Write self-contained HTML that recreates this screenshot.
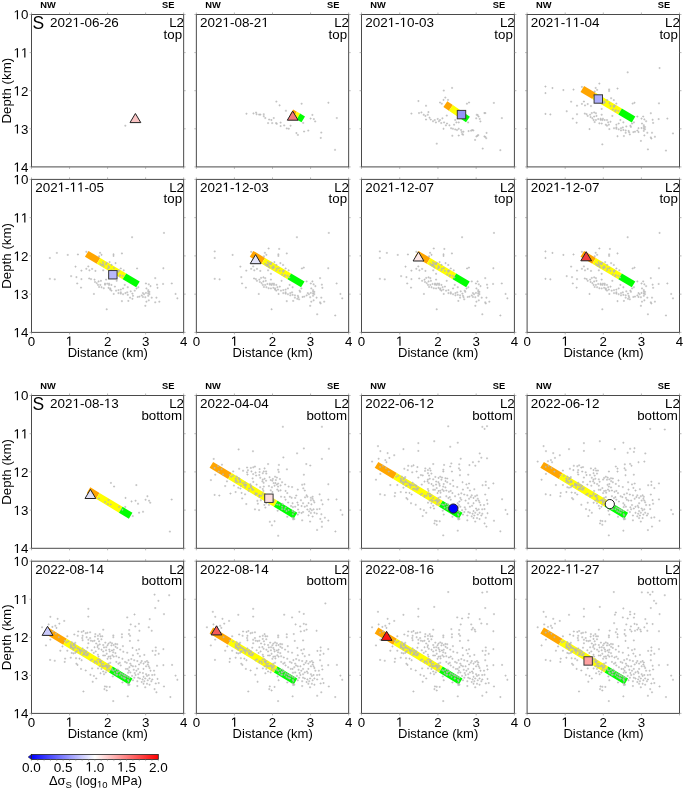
<!DOCTYPE html><html><head><meta charset="utf-8"><style>html,body{margin:0;padding:0;background:#fff;}svg{display:block;}text{font-family:"Liberation Sans", sans-serif;font-kerning:none;white-space:pre;}</style></head><body><div style="will-change:transform;width:685px;height:790px">
<svg width="685" height="790" viewBox="0 0 685 790">
<rect width="685" height="790" fill="#fff"/>
<g transform="translate(31.50,14.50)">
<path fill="none" stroke="#b6b6b6" stroke-width="0.7" d="M92.8,111.2h2.1M93.8,110.2v2.1"/>
<polygon points="103.90,99.00 98.50,108.10 109.30,108.10" fill="#f9c3c3" stroke="#222" stroke-width="1"/>
<rect x="0" y="0" width="152.15" height="152.40" fill="none" stroke="#4a4a4a" stroke-width="1"/>
<path d="M0.00,0v-2M0.00,152.40v2M0,0.00h-2M152.15,0.00h2M38.04,0v-2M38.04,152.40v2M0,38.10h-2M152.15,38.10h2M76.08,0v-2M76.08,152.40v2M0,76.20h-2M152.15,76.20h2M114.11,0v-2M114.11,152.40v2M0,114.30h-2M152.15,114.30h2M152.15,0v-2M152.15,152.40v2M0,152.40h-2M152.15,152.40h2" stroke="#8a8a8a" stroke-width="0.6" fill="none"/>
<text x="16.60" y="-6.80" font-size="9.3" font-weight="bold" text-anchor="middle">NW</text>
<text x="136.65" y="-6.80" font-size="9.3" font-weight="bold" text-anchor="middle">SE</text>
<text x="1.0" y="14.4" font-size="17.5">S</text>
<text x="18.60" y="12.40" font-size="13.45">202 -06-26</text><path transform="matrix(0.00657,0,0,-0.00657,41.041,12.400)" d="M515,0L515,1237L197,1010L197,1180L530,1409L696,1409L696,0Z"/>
<text x="137.66" y="12.60" font-size="13.3">L2</text>
<text x="132.06" y="24.10" font-size="13.3">top</text>
<text x="-17.99" y="4.80" font-size="13.3"> 0</text><path transform="matrix(0.00649,0,0,-0.00649,-17.994,4.800)" d="M515,0L515,1237L197,1010L197,1180L530,1409L696,1409L696,0Z"/>
<text x="-17.99" y="42.90" font-size="13.3">  </text><path transform="matrix(0.00649,0,0,-0.00649,-17.994,42.900)" d="M515,0L515,1237L197,1010L197,1180L530,1409L696,1409L696,0Z"/><path transform="matrix(0.00649,0,0,-0.00649,-10.597,42.900)" d="M515,0L515,1237L197,1010L197,1180L530,1409L696,1409L696,0Z"/>
<text x="-17.99" y="81.00" font-size="13.3"> 2</text><path transform="matrix(0.00649,0,0,-0.00649,-17.994,81.000)" d="M515,0L515,1237L197,1010L197,1180L530,1409L696,1409L696,0Z"/>
<text x="-17.99" y="119.10" font-size="13.3"> 3</text><path transform="matrix(0.00649,0,0,-0.00649,-17.994,119.100)" d="M515,0L515,1237L197,1010L197,1180L530,1409L696,1409L696,0Z"/>
<text x="-17.99" y="157.20" font-size="13.3"> 4</text><path transform="matrix(0.00649,0,0,-0.00649,-17.994,157.200)" d="M515,0L515,1237L197,1010L197,1180L530,1409L696,1409L696,0Z"/>
<text transform="translate(-21,76.20) rotate(-90)" font-size="13.3" text-anchor="middle">Depth (km)</text>
</g>
<g transform="translate(196.35,14.50)">
<polygon points="93.25,100.87 97.06,103.11 100.56,97.17 96.75,94.93" fill="#ffa500"/><polygon points="97.06,103.11 100.27,105.00 103.77,99.06 100.56,97.17" fill="#ffff00"/><polygon points="100.27,105.00 105.15,107.87 108.65,101.93 103.77,99.06" fill="#00ff00"/>
<path fill="none" stroke="#b6b6b6" stroke-width="0.7" d="M79.0,87.1h2.1M80.0,86.0v2.1M82.2,90.8h2.1M83.2,89.8v2.1M104.2,89.2h2.1M105.3,88.2v2.1M131.0,88.2h2.1M132.1,87.2v2.1M49.1,99.2h2.1M50.1,98.2v2.1M56.1,98.9h2.1M57.1,97.9v2.1M58.7,98.1h2.1M59.7,97.0v2.1M59.2,99.7h2.1M60.2,98.7v2.1M61.8,100.1h2.1M62.8,99.0v2.1M63.0,100.1h2.1M64.0,99.0v2.1M66.4,99.7h2.1M67.4,98.7v2.1M66.4,101.7h2.1M67.4,100.7v2.1M67.9,103.5h2.1M68.9,102.5v2.1M71.8,105.0h2.1M72.8,104.0v2.1M74.0,105.5h2.1M75.1,104.5v2.1M76.4,103.5h2.1M77.4,102.5v2.1M70.7,108.6h2.1M71.7,107.5v2.1M74.8,108.6h2.1M75.8,107.5v2.1M78.7,108.6h2.1M79.7,107.5v2.1M79.4,109.3h2.1M80.4,108.2v2.1M83.2,108.1h2.1M84.3,107.0v2.1M83.2,111.6h2.1M84.3,110.5v2.1M86.8,110.9h2.1M87.8,109.9v2.1M93.2,111.2h2.1M94.2,110.2v2.1M89.4,113.9h2.1M90.4,112.9v2.1M91.4,114.2h2.1M92.4,113.2v2.1M88.5,96.3h2.1M89.6,95.2v2.1M115.0,100.4h2.1M116.0,99.4v2.1M113.2,104.0h2.1M114.2,103.0v2.1M116.5,104.6h2.1M117.5,103.5v2.1M117.8,106.9h2.1M118.8,105.9v2.1M139.4,103.5h2.1M140.5,102.5v2.1M105.8,108.4h2.1M106.8,107.4v2.1M106.7,117.0h2.1M107.7,116.0v2.1M110.9,116.1h2.1M111.9,115.0v2.1M99.0,118.5h2.1M100.1,117.5v2.1M100.5,120.4h2.1M101.6,119.4v2.1M123.9,118.1h2.1M124.9,117.0v2.1M123.4,123.4h2.1M124.4,122.4v2.1M137.6,135.4h2.1M138.7,134.3v2.1"/>
<polygon points="96.35,96.60 90.95,105.70 101.75,105.70" fill="#f57878" stroke="#222" stroke-width="1"/>
<rect x="0" y="0" width="152.30" height="152.40" fill="none" stroke="#4a4a4a" stroke-width="1"/>
<path d="M0.00,0v-2M0.00,152.40v2M0,0.00h-2M152.30,0.00h2M38.07,0v-2M38.07,152.40v2M0,38.10h-2M152.30,38.10h2M76.15,0v-2M76.15,152.40v2M0,76.20h-2M152.30,76.20h2M114.22,0v-2M114.22,152.40v2M0,114.30h-2M152.30,114.30h2M152.30,0v-2M152.30,152.40v2M0,152.40h-2M152.30,152.40h2" stroke="#8a8a8a" stroke-width="0.6" fill="none"/>
<text x="16.60" y="-6.80" font-size="9.3" font-weight="bold" text-anchor="middle">NW</text>
<text x="136.80" y="-6.80" font-size="9.3" font-weight="bold" text-anchor="middle">SE</text>
<text x="3.70" y="12.40" font-size="13.45">202 -08-2 </text><path transform="matrix(0.00657,0,0,-0.00657,26.141,12.400)" d="M515,0L515,1237L197,1010L197,1180L530,1409L696,1409L696,0Z"/><path transform="matrix(0.00657,0,0,-0.00657,65.020,12.400)" d="M515,0L515,1237L197,1010L197,1180L530,1409L696,1409L696,0Z"/>
<text x="137.81" y="12.60" font-size="13.3">L2</text>
<text x="132.21" y="24.10" font-size="13.3">top</text>
</g>
<g transform="translate(361.50,14.50)">
<polygon points="81.91,92.45 87.47,96.24 91.35,90.54 85.79,86.75" fill="#ffa500"/><polygon points="87.47,96.24 97.73,103.23 101.61,97.53 91.35,90.54" fill="#ffff00"/><polygon points="97.73,103.23 104.51,107.85 108.39,102.15 101.61,97.53" fill="#00ff00"/>
<path fill="none" stroke="#b6b6b6" stroke-width="0.7" d="M89.5,73.4h2.1M90.6,72.4v2.1M81.2,76.1h2.1M82.3,75.0v2.1M82.8,83.1h2.1M83.8,82.0v2.1M81.0,85.4h2.1M82.0,84.4v2.1M85.5,85.4h2.1M86.5,84.4v2.1M77.5,88.0h2.1M78.5,87.0v2.1M79.2,89.2h2.1M80.3,88.2v2.1M55.9,86.5h2.1M56.9,85.5v2.1M63.5,91.3h2.1M64.5,90.2v2.1M104.4,89.2h2.1M105.4,88.2v2.1M106.5,88.0h2.1M107.5,87.0v2.1M48.9,99.1h2.1M49.9,98.0v2.1M56.5,98.5h2.1M57.5,97.5v2.1M58.9,97.9h2.1M59.9,96.9v2.1M61.2,100.3h2.1M62.2,99.2v2.1M62.9,101.4h2.1M63.9,100.4v2.1M65.2,100.3h2.1M66.3,99.2v2.1M67.0,103.2h2.1M68.0,102.2v2.1M68.2,105.0h2.1M69.2,104.0v2.1M70.5,106.7h2.1M71.5,105.7v2.1M72.2,105.5h2.1M73.3,104.5v2.1M73.4,107.9h2.1M74.4,106.9v2.1M75.2,104.4h2.1M76.2,103.4v2.1M76.4,106.7h2.1M77.4,105.7v2.1M77.5,105.5h2.1M78.5,104.5v2.1M79.9,103.8h2.1M80.9,102.8v2.1M78.7,108.5h2.1M79.7,107.5v2.1M81.5,107.9h2.1M82.6,106.9v2.1M83.4,110.8h2.1M84.4,109.8v2.1M84.5,109.0h2.1M85.5,108.0v2.1M81.0,114.3h2.1M82.0,113.2v2.1M86.9,110.8h2.1M87.9,109.8v2.1M88.5,113.7h2.1M89.6,112.7v2.1M90.4,114.3h2.1M91.4,113.2v2.1M92.7,114.9h2.1M93.7,113.9v2.1M94.5,115.5h2.1M95.5,114.5v2.1M96.2,114.3h2.1M97.2,113.2v2.1M98.5,115.5h2.1M99.6,114.5v2.1M100.9,117.2h2.1M101.9,116.2v2.1M99.7,119.6h2.1M100.7,118.5v2.1M91.5,110.2h2.1M92.6,109.2v2.1M93.9,107.9h2.1M94.9,106.9v2.1M96.2,107.9h2.1M97.2,106.9v2.1M89.8,121.3h2.1M90.8,120.2v2.1M96.2,121.0h2.1M97.2,120.0v2.1M106.0,116.6h2.1M107.1,115.5v2.1M109.7,115.5h2.1M110.7,114.5v2.1M114.2,100.3h2.1M115.3,99.2v2.1M116.0,102.0h2.1M117.1,101.0v2.1M117.2,104.4h2.1M118.2,103.4v2.1M113.7,103.8h2.1M114.7,102.8v2.1M114.9,121.3h2.1M115.9,120.2v2.1M112.5,125.4h2.1M113.6,124.4v2.1M121.9,121.9h2.1M122.9,120.9v2.1M120.2,134.1h2.1M121.2,133.0v2.1M74.2,129.2h2.1M75.3,128.1v2.1M63.5,105.0h2.1M64.5,104.0v2.1M65.9,97.6h2.1M66.9,96.5v2.1M84.2,101.1h2.1M85.3,100.0v2.1M105.5,107.9h2.1M106.6,106.9v2.1M121.9,98.5h2.1M122.9,97.5v2.1M92.7,105.5h2.1M93.7,104.5v2.1M131.3,88.4h2.1M132.4,87.4v2.1M122.8,98.6h2.1M123.8,97.5v2.1M139.3,103.6h2.1M140.4,102.5v2.1M115.2,100.6h2.1M116.2,99.5v2.1M117.9,106.9h2.1M118.9,105.9v2.1M99.2,117.5h2.1M100.3,116.5v2.1M100.5,120.2h2.1M101.6,119.2v2.1M108.5,116.2h2.1M109.6,115.2v2.1M110.8,115.9h2.1M111.8,114.9v2.1M113.9,121.9h2.1M114.9,120.9v2.1M115.7,120.6h2.1M116.7,119.5v2.1M124.0,118.4h2.1M125.1,117.4v2.1M122.8,122.4h2.1M123.8,121.4v2.1M123.7,123.7h2.1M124.7,122.7v2.1M137.8,135.7h2.1M138.8,134.6v2.1"/>
<rect x="95.80" y="95.90" width="8.40" height="8.40" fill="#9494f8" stroke="#383838" stroke-width="1.0"/>
<rect x="0" y="0" width="152.90" height="152.40" fill="none" stroke="#4a4a4a" stroke-width="1"/>
<path d="M0.00,0v-2M0.00,152.40v2M0,0.00h-2M152.90,0.00h2M38.22,0v-2M38.22,152.40v2M0,38.10h-2M152.90,38.10h2M76.45,0v-2M76.45,152.40v2M0,76.20h-2M152.90,76.20h2M114.67,0v-2M114.67,152.40v2M0,114.30h-2M152.90,114.30h2M152.90,0v-2M152.90,152.40v2M0,152.40h-2M152.90,152.40h2" stroke="#8a8a8a" stroke-width="0.6" fill="none"/>
<text x="16.60" y="-6.80" font-size="9.3" font-weight="bold" text-anchor="middle">NW</text>
<text x="137.40" y="-6.80" font-size="9.3" font-weight="bold" text-anchor="middle">SE</text>
<text x="3.70" y="12.40" font-size="13.45">202 - 0-03</text><path transform="matrix(0.00657,0,0,-0.00657,26.141,12.400)" d="M515,0L515,1237L197,1010L197,1180L530,1409L696,1409L696,0Z"/><path transform="matrix(0.00657,0,0,-0.00657,38.100,12.400)" d="M515,0L515,1237L197,1010L197,1180L530,1409L696,1409L696,0Z"/>
<text x="138.41" y="12.60" font-size="13.3">L2</text>
<text x="132.81" y="24.10" font-size="13.3">top</text>
</g>
<g transform="translate(527.10,14.50)">
<polygon points="53.43,77.41 65.22,84.44 68.75,78.51 56.97,71.49" fill="#ffa500"/><polygon points="65.22,84.44 91.20,99.93 94.74,94.00 68.75,78.51" fill="#ffff00"/><polygon points="91.20,99.93 104.68,107.96 108.22,102.04 94.74,94.00" fill="#00ff00"/>
<path fill="none" stroke="#b6b6b6" stroke-width="0.7" d="M17.3,72.0h2.1M18.4,71.0v2.1M24.3,73.5h2.1M25.4,72.5v2.1M17.3,78.6h2.1M18.4,77.5v2.1M35.2,75.5h2.1M36.3,74.5v2.1M45.4,75.1h2.1M46.4,74.0v2.1M53.8,72.4h2.1M54.8,71.4v2.1M71.2,69.1h2.1M72.3,68.0v2.1M67.5,73.4h2.1M68.6,72.4v2.1M69.0,75.4h2.1M70.0,74.4v2.1M66.5,76.9h2.1M67.6,75.9v2.1M43.0,87.2h2.1M44.0,86.2v2.1M48.9,91.2h2.1M49.9,90.2v2.1M53.8,89.4h2.1M54.8,88.4v2.1M55.8,87.0h2.1M56.8,86.0v2.1M56.9,90.9h2.1M57.9,89.9v2.1M59.6,89.5h2.1M60.6,88.5v2.1M62.9,91.5h2.1M63.9,90.5v2.1M73.5,94.4h2.1M74.6,93.4v2.1M75.4,89.1h2.1M76.4,88.0v2.1M38.6,96.7h2.1M39.6,95.7v2.1M48.9,99.7h2.1M49.9,98.7v2.1M17.3,99.4h2.1M18.4,98.4v2.1M22.2,99.9h2.1M23.3,98.9v2.1M44.7,104.1h2.1M45.7,103.0v2.1M48.5,108.2h2.1M49.5,107.2v2.1M61.4,114.6h2.1M62.4,113.5v2.1M56.7,99.1h2.1M57.7,98.0v2.1M58.5,99.7h2.1M59.5,98.7v2.1M59.6,101.4h2.1M60.6,100.4v2.1M62.0,100.2h2.1M63.0,99.2v2.1M63.7,98.5h2.1M64.7,97.5v2.1M66.0,97.9h2.1M67.1,96.9v2.1M67.8,98.7h2.1M68.8,97.7v2.1M62.5,102.6h2.1M63.5,101.5v2.1M64.2,103.7h2.1M65.3,102.7v2.1M66.0,102.0h2.1M67.1,101.0v2.1M68.4,101.4h2.1M69.4,100.4v2.1M65.5,105.5h2.1M66.5,104.5v2.1M67.8,105.5h2.1M68.8,104.5v2.1M70.0,104.6h2.1M71.1,103.5v2.1M72.5,105.3h2.1M73.5,104.2v2.1M74.8,104.3h2.1M75.8,103.2v2.1M76.5,105.5h2.1M77.6,104.5v2.1M66.5,107.6h2.1M67.6,106.5v2.1M71.2,108.8h2.1M72.3,107.8v2.1M73.5,109.0h2.1M74.6,108.0v2.1M77.7,110.2h2.1M78.7,109.2v2.1M73.5,100.2h2.1M74.6,99.2v2.1M70.0,85.6h2.1M71.1,84.5v2.1M76.0,86.8h2.1M77.0,85.8v2.1M67.8,84.5h2.1M68.8,83.5v2.1M71.2,86.8h2.1M72.3,85.8v2.1M74.8,88.0h2.1M75.8,87.0v2.1M131.4,53.5h2.1M132.5,52.5v2.1M99.5,57.8h2.1M100.6,56.8v2.1M81.0,74.9h2.1M82.0,73.9v2.1M81.0,76.5h2.1M82.0,75.5v2.1M89.4,74.0h2.1M90.4,73.0v2.1M83.0,83.7h2.1M84.0,82.7v2.1M85.7,85.6h2.1M86.7,84.5v2.1M88.2,89.1h2.1M89.3,88.0v2.1M104.5,89.1h2.1M105.6,88.0v2.1M106.4,88.2h2.1M107.4,87.2v2.1M130.8,88.8h2.1M131.9,87.8v2.1M122.7,98.7h2.1M123.7,97.7v2.1M76.5,88.0h2.1M77.6,87.0v2.1M82.4,91.5h2.1M83.4,90.5v2.1M84.7,95.0h2.1M85.7,94.0v2.1M87.0,96.7h2.1M88.1,95.7v2.1M84.2,101.4h2.1M85.2,100.4v2.1M109.2,102.0h2.1M110.3,101.0v2.1M113.4,104.1h2.1M114.4,103.0v2.1M115.0,102.0h2.1M116.1,101.0v2.1M116.2,104.9h2.1M117.3,103.9v2.1M118.0,106.7h2.1M119.0,105.7v2.1M124.5,105.3h2.1M125.5,104.2v2.1M125.0,108.4h2.1M126.0,107.4v2.1M130.5,104.6h2.1M131.6,103.5v2.1M139.2,104.1h2.1M140.3,103.0v2.1M144.8,118.9h2.1M145.9,117.9v2.1M72.5,104.3h2.1M73.5,103.2v2.1M74.2,105.5h2.1M75.2,104.5v2.1M78.9,105.5h2.1M79.9,104.5v2.1M80.0,107.8h2.1M81.1,106.8v2.1M82.4,107.2h2.1M83.4,106.2v2.1M80.7,110.2h2.1M81.7,109.2v2.1M88.2,110.2h2.1M89.3,109.2v2.1M90.5,109.0h2.1M91.6,108.0v2.1M92.2,105.5h2.1M93.3,104.5v2.1M95.2,107.8h2.1M96.3,106.8v2.1M85.9,113.7h2.1M86.9,112.7v2.1M88.2,114.2h2.1M89.3,113.2v2.1M90.5,114.8h2.1M91.6,113.8v2.1M92.9,113.7h2.1M93.9,112.7v2.1M95.2,115.4h2.1M96.3,114.4v2.1M81.2,114.6h2.1M82.2,113.5v2.1M98.2,111.9h2.1M99.2,110.9v2.1M102.2,111.3h2.1M103.3,110.2v2.1M104.0,109.0h2.1M105.0,108.0v2.1M105.8,107.8h2.1M106.8,106.8v2.1M106.9,117.2h2.1M107.9,116.2v2.1M109.2,116.0h2.1M110.3,115.0v2.1M110.4,113.7h2.1M111.4,112.7v2.1M115.7,114.2h2.1M116.7,113.2v2.1M116.9,112.5h2.1M117.9,111.5v2.1M101.0,117.8h2.1M102.1,116.8v2.1M97.5,118.3h2.1M98.6,117.2v2.1M119.2,118.3h2.1M120.2,117.2v2.1M123.9,118.3h2.1M124.9,117.2v2.1M113.9,109.0h2.1M114.9,108.0v2.1M115.7,110.7h2.1M116.7,109.7v2.1M74.2,129.9h2.1M75.2,128.8v2.1M78.9,111.2h2.1M79.9,110.2v2.1M88.2,112.9h2.1M89.3,111.9v2.1M92.9,115.9h2.1M93.9,114.9v2.1M94.7,112.9h2.1M95.7,111.9v2.1M102.8,112.4h2.1M103.8,111.4v2.1M97.5,115.9h2.1M98.6,114.9v2.1M100.5,116.4h2.1M101.5,115.4v2.1M101.7,119.9h2.1M102.7,118.9v2.1M105.2,117.6h2.1M106.2,116.5v2.1M110.4,117.6h2.1M111.4,116.5v2.1M113.4,113.5h2.1M114.4,112.5v2.1M115.7,112.4h2.1M116.7,111.4v2.1M116.9,114.7h2.1M117.9,113.7v2.1M115.7,116.4h2.1M116.7,115.4v2.1M116.2,120.9h2.1M117.3,119.9v2.1M122.7,122.9h2.1M123.7,121.9v2.1M123.2,124.0h2.1M124.3,123.0v2.1M126.8,122.3h2.1M127.8,121.2v2.1M89.4,121.7h2.1M90.4,120.7v2.1M95.8,121.5h2.1M96.8,120.5v2.1M112.8,126.4h2.1M113.8,125.4v2.1M119.8,134.9h2.1M120.8,133.8v2.1M137.8,136.1h2.1M138.9,135.0v2.1M81.4,88.7h2.1M82.4,87.7v2.1M74.0,83.4h2.1M75.1,82.4v2.1M70.4,82.8h2.1M71.4,81.8v2.1M87.7,95.7h2.1M88.7,94.7v2.1M86.5,91.3h2.1M87.6,90.2v2.1M85.5,91.4h2.1M86.6,90.4v2.1M73.5,84.7h2.1M74.5,83.7v2.1M90.2,96.4h2.1M91.2,95.4v2.1M70.8,84.7h2.1M71.8,83.7v2.1M85.8,92.4h2.1M86.8,91.4v2.1M79.0,85.5h2.1M80.0,84.5v2.1M68.9,85.7h2.1M69.9,84.7v2.1"/>
<rect x="67.00" y="80.30" width="8.40" height="8.40" fill="#aeaefc" stroke="#383838" stroke-width="1.0"/>
<rect x="0" y="0" width="152.40" height="152.40" fill="none" stroke="#4a4a4a" stroke-width="1"/>
<path d="M0.00,0v-2M0.00,152.40v2M0,0.00h-2M152.40,0.00h2M38.10,0v-2M38.10,152.40v2M0,38.10h-2M152.40,38.10h2M76.20,0v-2M76.20,152.40v2M0,76.20h-2M152.40,76.20h2M114.30,0v-2M114.30,152.40v2M0,114.30h-2M152.40,114.30h2M152.40,0v-2M152.40,152.40v2M0,152.40h-2M152.40,152.40h2" stroke="#8a8a8a" stroke-width="0.6" fill="none"/>
<text x="16.60" y="-6.80" font-size="9.3" font-weight="bold" text-anchor="middle">NW</text>
<text x="136.90" y="-6.80" font-size="9.3" font-weight="bold" text-anchor="middle">SE</text>
<text x="3.70" y="12.40" font-size="13.45">202 -  -04</text><path transform="matrix(0.00657,0,0,-0.00657,26.141,12.400)" d="M515,0L515,1237L197,1010L197,1180L530,1409L696,1409L696,0Z"/><path transform="matrix(0.00657,0,0,-0.00657,38.100,12.400)" d="M515,0L515,1237L197,1010L197,1180L530,1409L696,1409L696,0Z"/><path transform="matrix(0.00657,0,0,-0.00657,45.580,12.400)" d="M515,0L515,1237L197,1010L197,1180L530,1409L696,1409L696,0Z"/>
<text x="137.91" y="12.60" font-size="13.3">L2</text>
<text x="132.31" y="24.10" font-size="13.3">top</text>
</g>
<g transform="translate(31.50,179.40)">
<polygon points="53.43,77.41 65.22,84.44 68.75,78.51 56.97,71.49" fill="#ffa500"/><polygon points="65.22,84.44 91.20,99.93 94.74,94.00 68.75,78.51" fill="#ffff00"/><polygon points="91.20,99.93 104.68,107.96 108.22,102.04 94.74,94.00" fill="#00ff00"/>
<path fill="none" stroke="#b6b6b6" stroke-width="0.7" d="M24.3,73.5h2.1M25.4,72.5v2.1M17.3,78.6h2.1M18.4,77.5v2.1M35.2,75.5h2.1M36.3,74.5v2.1M45.4,75.1h2.1M46.4,74.0v2.1M53.8,72.4h2.1M54.8,71.4v2.1M67.5,73.4h2.1M68.6,72.4v2.1M69.0,75.4h2.1M70.0,74.4v2.1M66.5,76.9h2.1M67.6,75.9v2.1M43.0,87.2h2.1M44.0,86.2v2.1M48.9,91.2h2.1M49.9,90.2v2.1M53.8,89.4h2.1M54.8,88.4v2.1M55.8,87.0h2.1M56.8,86.0v2.1M56.9,90.9h2.1M57.9,89.9v2.1M59.6,89.5h2.1M60.6,88.5v2.1M62.9,91.5h2.1M63.9,90.5v2.1M70.7,90.9h2.1M71.7,89.9v2.1M75.4,89.1h2.1M76.4,88.0v2.1M77.0,82.7h2.1M78.1,81.7v2.1M38.6,96.7h2.1M39.6,95.7v2.1M43.9,97.7h2.1M44.9,96.7v2.1M48.9,99.7h2.1M49.9,98.7v2.1M17.3,99.4h2.1M18.4,98.4v2.1M22.2,99.9h2.1M23.3,98.9v2.1M44.7,104.1h2.1M45.7,103.0v2.1M48.5,108.2h2.1M49.5,107.2v2.1M61.4,114.6h2.1M62.4,113.5v2.1M56.7,99.1h2.1M57.7,98.0v2.1M58.5,99.7h2.1M59.5,98.7v2.1M62.0,100.2h2.1M63.0,99.2v2.1M62.5,102.6h2.1M63.5,101.5v2.1M64.2,103.7h2.1M65.3,102.7v2.1M66.0,102.0h2.1M67.1,101.0v2.1M68.4,101.4h2.1M69.4,100.4v2.1M65.5,105.5h2.1M66.5,104.5v2.1M67.8,105.5h2.1M68.8,104.5v2.1M72.5,105.3h2.1M73.5,104.2v2.1M74.8,104.3h2.1M75.8,103.2v2.1M76.5,105.5h2.1M77.6,104.5v2.1M66.5,107.6h2.1M67.6,106.5v2.1M69.0,107.8h2.1M70.0,106.8v2.1M71.2,108.8h2.1M72.3,107.8v2.1M76.0,108.4h2.1M77.0,107.4v2.1M77.7,110.2h2.1M78.7,109.2v2.1M73.5,100.2h2.1M74.6,99.2v2.1M70.0,85.6h2.1M71.1,84.5v2.1M76.0,86.8h2.1M77.0,85.8v2.1M67.8,84.5h2.1M68.8,83.5v2.1M71.2,86.8h2.1M72.3,85.8v2.1M131.4,53.5h2.1M132.5,52.5v2.1M99.5,57.8h2.1M100.6,56.8v2.1M81.0,74.9h2.1M82.0,73.9v2.1M81.0,76.5h2.1M82.0,75.5v2.1M89.4,74.0h2.1M90.4,73.0v2.1M83.0,83.7h2.1M84.0,82.7v2.1M88.2,89.1h2.1M89.3,88.0v2.1M91.2,90.9h2.1M92.2,89.9v2.1M104.5,89.1h2.1M105.6,88.0v2.1M130.8,88.8h2.1M131.9,87.8v2.1M122.7,98.7h2.1M123.7,97.7v2.1M76.5,88.0h2.1M77.6,87.0v2.1M78.9,90.9h2.1M79.9,89.9v2.1M82.4,91.5h2.1M83.4,90.5v2.1M87.0,96.7h2.1M88.1,95.7v2.1M84.2,101.4h2.1M85.2,100.4v2.1M113.4,104.1h2.1M114.4,103.0v2.1M116.2,104.9h2.1M117.3,103.9v2.1M118.0,106.7h2.1M119.0,105.7v2.1M124.5,105.3h2.1M125.5,104.2v2.1M125.0,108.4h2.1M126.0,107.4v2.1M130.5,104.6h2.1M131.6,103.5v2.1M139.2,104.1h2.1M140.3,103.0v2.1M143.0,114.6h2.1M144.1,113.5v2.1M144.8,118.9h2.1M145.9,117.9v2.1M72.5,104.3h2.1M73.5,103.2v2.1M76.5,104.3h2.1M77.6,103.2v2.1M78.9,105.5h2.1M79.9,104.5v2.1M77.7,109.0h2.1M78.7,108.0v2.1M82.4,107.2h2.1M83.4,106.2v2.1M83.5,111.3h2.1M84.6,110.2v2.1M85.9,110.7h2.1M86.9,109.7v2.1M88.2,110.2h2.1M89.3,109.2v2.1M90.5,109.0h2.1M91.6,108.0v2.1M92.2,105.5h2.1M93.3,104.5v2.1M95.2,107.8h2.1M96.3,106.8v2.1M85.9,113.7h2.1M86.9,112.7v2.1M88.2,114.2h2.1M89.3,113.2v2.1M90.5,114.8h2.1M91.6,113.8v2.1M92.9,113.7h2.1M93.9,112.7v2.1M95.2,115.4h2.1M96.3,114.4v2.1M81.2,114.6h2.1M82.2,113.5v2.1M98.2,111.9h2.1M99.2,110.9v2.1M99.9,114.2h2.1M100.9,113.2v2.1M102.2,111.3h2.1M103.3,110.2v2.1M104.0,109.0h2.1M105.0,108.0v2.1M105.8,107.8h2.1M106.8,106.8v2.1M106.9,117.2h2.1M107.9,116.2v2.1M109.2,116.0h2.1M110.3,115.0v2.1M111.5,114.8h2.1M112.6,113.8v2.1M110.4,113.7h2.1M111.4,112.7v2.1M112.8,117.8h2.1M113.8,116.8v2.1M115.7,114.2h2.1M116.7,113.2v2.1M116.9,112.5h2.1M117.9,111.5v2.1M97.5,118.3h2.1M98.6,117.2v2.1M119.2,118.3h2.1M120.2,117.2v2.1M123.9,118.3h2.1M124.9,117.2v2.1M113.9,109.0h2.1M114.9,108.0v2.1M115.7,110.7h2.1M116.7,109.7v2.1M74.2,129.9h2.1M75.2,128.8v2.1M78.9,111.2h2.1M79.9,110.2v2.1M88.2,112.9h2.1M89.3,111.9v2.1M94.7,112.9h2.1M95.7,111.9v2.1M100.5,116.4h2.1M101.5,115.4v2.1M99.9,119.4h2.1M100.9,118.4v2.1M105.2,117.6h2.1M106.2,116.5v2.1M110.4,117.6h2.1M111.4,116.5v2.1M113.4,113.5h2.1M114.4,112.5v2.1M115.7,112.4h2.1M116.7,111.4v2.1M116.9,114.7h2.1M117.9,113.7v2.1M115.7,116.4h2.1M116.7,115.4v2.1M113.9,122.3h2.1M114.9,121.2v2.1M116.2,120.9h2.1M117.3,119.9v2.1M122.7,122.9h2.1M123.7,121.9v2.1M126.8,122.3h2.1M127.8,121.2v2.1M89.4,121.7h2.1M90.4,120.7v2.1M95.8,121.5h2.1M96.8,120.5v2.1M112.8,126.4h2.1M113.8,125.4v2.1M81.4,88.7h2.1M82.4,87.7v2.1M74.0,83.4h2.1M75.1,82.4v2.1M70.4,82.8h2.1M71.4,81.8v2.1M87.7,95.7h2.1M88.7,94.7v2.1M86.5,91.3h2.1M87.6,90.2v2.1M85.5,91.4h2.1M86.6,90.4v2.1M73.5,84.7h2.1M74.5,83.7v2.1M90.2,96.4h2.1M91.2,95.4v2.1M70.8,84.7h2.1M71.8,83.7v2.1M85.8,92.4h2.1M86.8,91.4v2.1M79.0,85.5h2.1M80.0,84.5v2.1M68.9,85.7h2.1M69.9,84.7v2.1"/>
<rect x="77.15" y="91.15" width="8.40" height="8.40" fill="#b8b8fa" stroke="#383838" stroke-width="1.0"/>
<rect x="0" y="0" width="152.15" height="153.00" fill="none" stroke="#4a4a4a" stroke-width="1"/>
<path d="M0.00,0v-2M0.00,153.00v2M0,0.00h-2M152.15,0.00h2M38.04,0v-2M38.04,153.00v2M0,38.25h-2M152.15,38.25h2M76.08,0v-2M76.08,153.00v2M0,76.50h-2M152.15,76.50h2M114.11,0v-2M114.11,153.00v2M0,114.75h-2M152.15,114.75h2M152.15,0v-2M152.15,153.00v2M0,153.00h-2M152.15,153.00h2" stroke="#8a8a8a" stroke-width="0.6" fill="none"/>
<text x="3.70" y="12.40" font-size="13.45">202 -  -05</text><path transform="matrix(0.00657,0,0,-0.00657,26.141,12.400)" d="M515,0L515,1237L197,1010L197,1180L530,1409L696,1409L696,0Z"/><path transform="matrix(0.00657,0,0,-0.00657,38.100,12.400)" d="M515,0L515,1237L197,1010L197,1180L530,1409L696,1409L696,0Z"/><path transform="matrix(0.00657,0,0,-0.00657,45.580,12.400)" d="M515,0L515,1237L197,1010L197,1180L530,1409L696,1409L696,0Z"/>
<text x="137.66" y="12.60" font-size="13.3">L2</text>
<text x="132.06" y="24.10" font-size="13.3">top</text>
<text x="-17.99" y="4.80" font-size="13.3"> 0</text><path transform="matrix(0.00649,0,0,-0.00649,-17.994,4.800)" d="M515,0L515,1237L197,1010L197,1180L530,1409L696,1409L696,0Z"/>
<text x="-17.99" y="43.05" font-size="13.3">  </text><path transform="matrix(0.00649,0,0,-0.00649,-17.994,43.050)" d="M515,0L515,1237L197,1010L197,1180L530,1409L696,1409L696,0Z"/><path transform="matrix(0.00649,0,0,-0.00649,-10.597,43.050)" d="M515,0L515,1237L197,1010L197,1180L530,1409L696,1409L696,0Z"/>
<text x="-17.99" y="81.30" font-size="13.3"> 2</text><path transform="matrix(0.00649,0,0,-0.00649,-17.994,81.300)" d="M515,0L515,1237L197,1010L197,1180L530,1409L696,1409L696,0Z"/>
<text x="-17.99" y="119.55" font-size="13.3"> 3</text><path transform="matrix(0.00649,0,0,-0.00649,-17.994,119.550)" d="M515,0L515,1237L197,1010L197,1180L530,1409L696,1409L696,0Z"/>
<text x="-17.99" y="157.80" font-size="13.3"> 4</text><path transform="matrix(0.00649,0,0,-0.00649,-17.994,157.800)" d="M515,0L515,1237L197,1010L197,1180L530,1409L696,1409L696,0Z"/>
<text transform="translate(-21,76.50) rotate(-90)" font-size="13.3" text-anchor="middle">Depth (km)</text>
<text x="-3.70" y="166.30" font-size="13.3">0</text>
<text x="34.34" y="166.30" font-size="13.3"> </text><path transform="matrix(0.00649,0,0,-0.00649,34.339,166.300)" d="M515,0L515,1237L197,1010L197,1180L530,1409L696,1409L696,0Z"/>
<text x="72.38" y="166.30" font-size="13.3">2</text>
<text x="110.41" y="166.30" font-size="13.3">3</text>
<text x="148.45" y="166.30" font-size="13.3">4</text>
<text x="76.28" y="177.30" font-size="13.0" text-anchor="middle">Distance (km)</text>
</g>
<g transform="translate(196.35,179.40)">
<polygon points="53.43,77.41 65.22,84.44 68.75,78.51 56.97,71.49" fill="#ffa500"/><polygon points="65.22,84.44 91.20,99.93 94.74,94.00 68.75,78.51" fill="#ffff00"/><polygon points="91.20,99.93 104.68,107.96 108.22,102.04 94.74,94.00" fill="#00ff00"/>
<path fill="none" stroke="#b6b6b6" stroke-width="0.7" d="M17.3,72.0h2.1M18.4,71.0v2.1M17.3,78.6h2.1M18.4,77.5v2.1M35.2,75.5h2.1M36.3,74.5v2.1M53.8,72.4h2.1M54.8,71.4v2.1M71.2,69.1h2.1M72.3,68.0v2.1M67.5,73.4h2.1M68.6,72.4v2.1M69.0,75.4h2.1M70.0,74.4v2.1M66.5,76.9h2.1M67.6,75.9v2.1M43.0,87.2h2.1M44.0,86.2v2.1M48.9,91.2h2.1M49.9,90.2v2.1M53.8,89.4h2.1M54.8,88.4v2.1M55.8,87.0h2.1M56.8,86.0v2.1M56.9,90.9h2.1M57.9,89.9v2.1M59.6,89.5h2.1M60.6,88.5v2.1M62.9,91.5h2.1M63.9,90.5v2.1M70.7,90.9h2.1M71.7,89.9v2.1M73.5,94.4h2.1M74.6,93.4v2.1M75.4,89.1h2.1M76.4,88.0v2.1M77.0,82.7h2.1M78.1,81.7v2.1M43.9,97.7h2.1M44.9,96.7v2.1M17.3,99.4h2.1M18.4,98.4v2.1M22.2,99.9h2.1M23.3,98.9v2.1M44.7,104.1h2.1M45.7,103.0v2.1M48.5,108.2h2.1M49.5,107.2v2.1M61.4,114.6h2.1M62.4,113.5v2.1M56.7,99.1h2.1M57.7,98.0v2.1M58.5,99.7h2.1M59.5,98.7v2.1M59.6,101.4h2.1M60.6,100.4v2.1M62.0,100.2h2.1M63.0,99.2v2.1M63.7,98.5h2.1M64.7,97.5v2.1M66.0,97.9h2.1M67.1,96.9v2.1M67.8,98.7h2.1M68.8,97.7v2.1M62.5,102.6h2.1M63.5,101.5v2.1M64.2,103.7h2.1M65.3,102.7v2.1M66.0,102.0h2.1M67.1,101.0v2.1M68.4,101.4h2.1M69.4,100.4v2.1M65.5,105.5h2.1M66.5,104.5v2.1M67.8,105.5h2.1M68.8,104.5v2.1M70.0,104.6h2.1M71.1,103.5v2.1M72.5,105.3h2.1M73.5,104.2v2.1M74.8,104.3h2.1M75.8,103.2v2.1M76.5,105.5h2.1M77.6,104.5v2.1M66.5,107.6h2.1M67.6,106.5v2.1M69.0,107.8h2.1M70.0,106.8v2.1M71.2,108.8h2.1M72.3,107.8v2.1M73.5,109.0h2.1M74.6,108.0v2.1M76.0,108.4h2.1M77.0,107.4v2.1M77.7,110.2h2.1M78.7,109.2v2.1M73.5,100.2h2.1M74.6,99.2v2.1M70.0,85.6h2.1M71.1,84.5v2.1M76.0,86.8h2.1M77.0,85.8v2.1M67.8,84.5h2.1M68.8,83.5v2.1M71.2,86.8h2.1M72.3,85.8v2.1M74.8,88.0h2.1M75.8,87.0v2.1M131.4,53.5h2.1M132.5,52.5v2.1M99.5,57.8h2.1M100.6,56.8v2.1M81.8,69.5h2.1M82.8,68.5v2.1M81.0,74.9h2.1M82.0,73.9v2.1M81.0,76.5h2.1M82.0,75.5v2.1M89.4,74.0h2.1M90.4,73.0v2.1M83.0,83.7h2.1M84.0,82.7v2.1M85.7,85.6h2.1M86.7,84.5v2.1M88.2,89.1h2.1M89.3,88.0v2.1M91.2,90.9h2.1M92.2,89.9v2.1M104.5,89.1h2.1M105.6,88.0v2.1M106.4,88.2h2.1M107.4,87.2v2.1M130.8,88.8h2.1M131.9,87.8v2.1M122.7,98.7h2.1M123.7,97.7v2.1M76.5,88.0h2.1M77.6,87.0v2.1M78.9,90.9h2.1M79.9,89.9v2.1M82.4,91.5h2.1M83.4,90.5v2.1M84.7,95.0h2.1M85.7,94.0v2.1M87.0,96.7h2.1M88.1,95.7v2.1M84.2,101.4h2.1M85.2,100.4v2.1M109.2,102.0h2.1M110.3,101.0v2.1M113.4,104.1h2.1M114.4,103.0v2.1M115.0,102.0h2.1M116.1,101.0v2.1M116.2,104.9h2.1M117.3,103.9v2.1M118.0,106.7h2.1M119.0,105.7v2.1M124.5,105.3h2.1M125.5,104.2v2.1M125.0,108.4h2.1M126.0,107.4v2.1M139.2,104.1h2.1M140.3,103.0v2.1M143.0,114.6h2.1M144.1,113.5v2.1M144.8,118.9h2.1M145.9,117.9v2.1M72.5,104.3h2.1M73.5,103.2v2.1M74.2,105.5h2.1M75.2,104.5v2.1M76.5,104.3h2.1M77.6,103.2v2.1M78.9,105.5h2.1M79.9,104.5v2.1M77.7,109.0h2.1M78.7,108.0v2.1M80.0,107.8h2.1M81.1,106.8v2.1M82.4,107.2h2.1M83.4,106.2v2.1M80.7,110.2h2.1M81.7,109.2v2.1M83.5,111.3h2.1M84.6,110.2v2.1M85.9,110.7h2.1M86.9,109.7v2.1M88.2,110.2h2.1M89.3,109.2v2.1M90.5,109.0h2.1M91.6,108.0v2.1M92.2,105.5h2.1M93.3,104.5v2.1M95.2,107.8h2.1M96.3,106.8v2.1M85.9,113.7h2.1M86.9,112.7v2.1M88.2,114.2h2.1M89.3,113.2v2.1M90.5,114.8h2.1M91.6,113.8v2.1M92.9,113.7h2.1M93.9,112.7v2.1M95.2,115.4h2.1M96.3,114.4v2.1M81.2,114.6h2.1M82.2,113.5v2.1M102.2,111.3h2.1M103.3,110.2v2.1M104.0,109.0h2.1M105.0,108.0v2.1M106.9,117.2h2.1M107.9,116.2v2.1M109.2,116.0h2.1M110.3,115.0v2.1M111.5,114.8h2.1M112.6,113.8v2.1M110.4,113.7h2.1M111.4,112.7v2.1M112.8,117.8h2.1M113.8,116.8v2.1M115.7,114.2h2.1M116.7,113.2v2.1M116.9,112.5h2.1M117.9,111.5v2.1M101.0,117.8h2.1M102.1,116.8v2.1M97.5,118.3h2.1M98.6,117.2v2.1M119.2,118.3h2.1M120.2,117.2v2.1M123.9,118.3h2.1M124.9,117.2v2.1M113.9,109.0h2.1M114.9,108.0v2.1M115.7,110.7h2.1M116.7,109.7v2.1M74.2,129.9h2.1M75.2,128.8v2.1M78.9,111.2h2.1M79.9,110.2v2.1M88.2,112.9h2.1M89.3,111.9v2.1M92.9,115.9h2.1M93.9,114.9v2.1M94.7,112.9h2.1M95.7,111.9v2.1M102.8,112.4h2.1M103.8,111.4v2.1M97.5,115.9h2.1M98.6,114.9v2.1M100.5,116.4h2.1M101.5,115.4v2.1M99.9,119.4h2.1M100.9,118.4v2.1M101.7,119.9h2.1M102.7,118.9v2.1M105.2,117.6h2.1M106.2,116.5v2.1M113.4,113.5h2.1M114.4,112.5v2.1M115.7,112.4h2.1M116.7,111.4v2.1M116.9,114.7h2.1M117.9,113.7v2.1M115.7,116.4h2.1M116.7,115.4v2.1M113.9,122.3h2.1M114.9,121.2v2.1M116.2,120.9h2.1M117.3,119.9v2.1M122.7,122.9h2.1M123.7,121.9v2.1M123.2,124.0h2.1M124.3,123.0v2.1M126.8,122.3h2.1M127.8,121.2v2.1M89.4,121.7h2.1M90.4,120.7v2.1M95.8,121.5h2.1M96.8,120.5v2.1M112.8,126.4h2.1M113.8,125.4v2.1M119.8,134.9h2.1M120.8,133.8v2.1M137.8,136.1h2.1M138.9,135.0v2.1M81.4,88.7h2.1M82.4,87.7v2.1M74.0,83.4h2.1M75.1,82.4v2.1M70.4,82.8h2.1M71.4,81.8v2.1M87.7,95.7h2.1M88.7,94.7v2.1M86.5,91.3h2.1M87.6,90.2v2.1M85.5,91.4h2.1M86.6,90.4v2.1M73.5,84.7h2.1M74.5,83.7v2.1M90.2,96.4h2.1M91.2,95.4v2.1M70.8,84.7h2.1M71.8,83.7v2.1M85.8,92.4h2.1M86.8,91.4v2.1M79.0,85.5h2.1M80.0,84.5v2.1M68.9,85.7h2.1M69.9,84.7v2.1M69.9,86.2h2.1M70.9,85.2v2.1M72.2,83.8h2.1M73.3,82.8v2.1M91.9,98.0h2.1M92.9,97.0v2.1M79.5,89.2h2.1M80.5,88.2v2.1M73.2,84.6h2.1M74.2,83.5v2.1M72.0,88.1h2.1M73.0,87.0v2.1"/>
<polygon points="59.25,75.20 53.85,84.30 64.65,84.30" fill="#e2e2f8" stroke="#222" stroke-width="1"/>
<rect x="0" y="0" width="152.30" height="153.00" fill="none" stroke="#4a4a4a" stroke-width="1"/>
<path d="M0.00,0v-2M0.00,153.00v2M0,0.00h-2M152.30,0.00h2M38.07,0v-2M38.07,153.00v2M0,38.25h-2M152.30,38.25h2M76.15,0v-2M76.15,153.00v2M0,76.50h-2M152.30,76.50h2M114.22,0v-2M114.22,153.00v2M0,114.75h-2M152.30,114.75h2M152.30,0v-2M152.30,153.00v2M0,153.00h-2M152.30,153.00h2" stroke="#8a8a8a" stroke-width="0.6" fill="none"/>
<text x="3.70" y="12.40" font-size="13.45">202 - 2-03</text><path transform="matrix(0.00657,0,0,-0.00657,26.141,12.400)" d="M515,0L515,1237L197,1010L197,1180L530,1409L696,1409L696,0Z"/><path transform="matrix(0.00657,0,0,-0.00657,38.100,12.400)" d="M515,0L515,1237L197,1010L197,1180L530,1409L696,1409L696,0Z"/>
<text x="137.81" y="12.60" font-size="13.3">L2</text>
<text x="132.21" y="24.10" font-size="13.3">top</text>
<text x="-3.70" y="166.30" font-size="13.3">0</text>
<text x="34.38" y="166.30" font-size="13.3"> </text><path transform="matrix(0.00649,0,0,-0.00649,34.377,166.300)" d="M515,0L515,1237L197,1010L197,1180L530,1409L696,1409L696,0Z"/>
<text x="72.45" y="166.30" font-size="13.3">2</text>
<text x="110.53" y="166.30" font-size="13.3">3</text>
<text x="148.60" y="166.30" font-size="13.3">4</text>
<text x="76.35" y="177.30" font-size="13.0" text-anchor="middle">Distance (km)</text>
</g>
<g transform="translate(361.50,179.40)">
<polygon points="53.43,77.41 65.22,84.44 68.75,78.51 56.97,71.49" fill="#ffa500"/><polygon points="65.22,84.44 91.20,99.93 94.74,94.00 68.75,78.51" fill="#ffff00"/><polygon points="91.20,99.93 104.68,107.96 108.22,102.04 94.74,94.00" fill="#00ff00"/>
<path fill="none" stroke="#b6b6b6" stroke-width="0.7" d="M17.3,72.0h2.1M18.4,71.0v2.1M24.3,73.5h2.1M25.4,72.5v2.1M17.3,78.6h2.1M18.4,77.5v2.1M35.2,75.5h2.1M36.3,74.5v2.1M45.4,75.1h2.1M46.4,74.0v2.1M53.8,72.4h2.1M54.8,71.4v2.1M71.2,69.1h2.1M72.3,68.0v2.1M67.5,73.4h2.1M68.6,72.4v2.1M69.0,75.4h2.1M70.0,74.4v2.1M66.5,76.9h2.1M67.6,75.9v2.1M43.0,87.2h2.1M44.0,86.2v2.1M48.9,91.2h2.1M49.9,90.2v2.1M53.8,89.4h2.1M54.8,88.4v2.1M55.8,87.0h2.1M56.8,86.0v2.1M56.9,90.9h2.1M57.9,89.9v2.1M59.6,89.5h2.1M60.6,88.5v2.1M62.9,91.5h2.1M63.9,90.5v2.1M70.7,90.9h2.1M71.7,89.9v2.1M73.5,94.4h2.1M74.6,93.4v2.1M75.4,89.1h2.1M76.4,88.0v2.1M77.0,82.7h2.1M78.1,81.7v2.1M38.6,96.7h2.1M39.6,95.7v2.1M43.9,97.7h2.1M44.9,96.7v2.1M48.9,99.7h2.1M49.9,98.7v2.1M17.3,99.4h2.1M18.4,98.4v2.1M22.2,99.9h2.1M23.3,98.9v2.1M44.7,104.1h2.1M45.7,103.0v2.1M48.5,108.2h2.1M49.5,107.2v2.1M61.4,114.6h2.1M62.4,113.5v2.1M56.7,99.1h2.1M57.7,98.0v2.1M59.6,101.4h2.1M60.6,100.4v2.1M62.0,100.2h2.1M63.0,99.2v2.1M63.7,98.5h2.1M64.7,97.5v2.1M66.0,97.9h2.1M67.1,96.9v2.1M67.8,98.7h2.1M68.8,97.7v2.1M62.5,102.6h2.1M63.5,101.5v2.1M64.2,103.7h2.1M65.3,102.7v2.1M66.0,102.0h2.1M67.1,101.0v2.1M68.4,101.4h2.1M69.4,100.4v2.1M65.5,105.5h2.1M66.5,104.5v2.1M67.8,105.5h2.1M68.8,104.5v2.1M70.0,104.6h2.1M71.1,103.5v2.1M72.5,105.3h2.1M73.5,104.2v2.1M74.8,104.3h2.1M75.8,103.2v2.1M76.5,105.5h2.1M77.6,104.5v2.1M66.5,107.6h2.1M67.6,106.5v2.1M69.0,107.8h2.1M70.0,106.8v2.1M71.2,108.8h2.1M72.3,107.8v2.1M73.5,109.0h2.1M74.6,108.0v2.1M76.0,108.4h2.1M77.0,107.4v2.1M77.7,110.2h2.1M78.7,109.2v2.1M73.5,100.2h2.1M74.6,99.2v2.1M70.0,85.6h2.1M71.1,84.5v2.1M76.0,86.8h2.1M77.0,85.8v2.1M67.8,84.5h2.1M68.8,83.5v2.1M71.2,86.8h2.1M72.3,85.8v2.1M131.4,53.5h2.1M132.5,52.5v2.1M99.5,57.8h2.1M100.6,56.8v2.1M81.8,69.5h2.1M82.8,68.5v2.1M81.0,74.9h2.1M82.0,73.9v2.1M81.0,76.5h2.1M82.0,75.5v2.1M89.4,74.0h2.1M90.4,73.0v2.1M83.0,83.7h2.1M84.0,82.7v2.1M85.7,85.6h2.1M86.7,84.5v2.1M88.2,89.1h2.1M89.3,88.0v2.1M91.2,90.9h2.1M92.2,89.9v2.1M104.5,89.1h2.1M105.6,88.0v2.1M106.4,88.2h2.1M107.4,87.2v2.1M130.8,88.8h2.1M131.9,87.8v2.1M122.7,98.7h2.1M123.7,97.7v2.1M76.5,88.0h2.1M77.6,87.0v2.1M78.9,90.9h2.1M79.9,89.9v2.1M82.4,91.5h2.1M83.4,90.5v2.1M84.7,95.0h2.1M85.7,94.0v2.1M87.0,96.7h2.1M88.1,95.7v2.1M84.2,101.4h2.1M85.2,100.4v2.1M109.2,102.0h2.1M110.3,101.0v2.1M113.4,104.1h2.1M114.4,103.0v2.1M115.0,102.0h2.1M116.1,101.0v2.1M116.2,104.9h2.1M117.3,103.9v2.1M118.0,106.7h2.1M119.0,105.7v2.1M124.5,105.3h2.1M125.5,104.2v2.1M125.0,108.4h2.1M126.0,107.4v2.1M130.5,104.6h2.1M131.6,103.5v2.1M139.2,104.1h2.1M140.3,103.0v2.1M143.0,114.6h2.1M144.1,113.5v2.1M144.8,118.9h2.1M145.9,117.9v2.1M72.5,104.3h2.1M73.5,103.2v2.1M74.2,105.5h2.1M75.2,104.5v2.1M76.5,104.3h2.1M77.6,103.2v2.1M78.9,105.5h2.1M79.9,104.5v2.1M77.7,109.0h2.1M78.7,108.0v2.1M80.0,107.8h2.1M81.1,106.8v2.1M82.4,107.2h2.1M83.4,106.2v2.1M80.7,110.2h2.1M81.7,109.2v2.1M83.5,111.3h2.1M84.6,110.2v2.1M85.9,110.7h2.1M86.9,109.7v2.1M90.5,109.0h2.1M91.6,108.0v2.1M92.2,105.5h2.1M93.3,104.5v2.1M95.2,107.8h2.1M96.3,106.8v2.1M85.9,113.7h2.1M86.9,112.7v2.1M88.2,114.2h2.1M89.3,113.2v2.1M90.5,114.8h2.1M91.6,113.8v2.1M92.9,113.7h2.1M93.9,112.7v2.1M95.2,115.4h2.1M96.3,114.4v2.1M81.2,114.6h2.1M82.2,113.5v2.1M98.2,111.9h2.1M99.2,110.9v2.1M99.9,114.2h2.1M100.9,113.2v2.1M102.2,111.3h2.1M103.3,110.2v2.1M104.0,109.0h2.1M105.0,108.0v2.1M105.8,107.8h2.1M106.8,106.8v2.1M106.9,117.2h2.1M107.9,116.2v2.1M109.2,116.0h2.1M110.3,115.0v2.1M111.5,114.8h2.1M112.6,113.8v2.1M110.4,113.7h2.1M111.4,112.7v2.1M112.8,117.8h2.1M113.8,116.8v2.1M115.7,114.2h2.1M116.7,113.2v2.1M116.9,112.5h2.1M117.9,111.5v2.1M101.0,117.8h2.1M102.1,116.8v2.1M97.5,118.3h2.1M98.6,117.2v2.1M119.2,118.3h2.1M120.2,117.2v2.1M123.9,118.3h2.1M124.9,117.2v2.1M113.9,109.0h2.1M114.9,108.0v2.1M115.7,110.7h2.1M116.7,109.7v2.1M74.2,129.9h2.1M75.2,128.8v2.1M78.9,111.2h2.1M79.9,110.2v2.1M88.2,112.9h2.1M89.3,111.9v2.1M92.9,115.9h2.1M93.9,114.9v2.1M94.7,112.9h2.1M95.7,111.9v2.1M102.8,112.4h2.1M103.8,111.4v2.1M97.5,115.9h2.1M98.6,114.9v2.1M100.5,116.4h2.1M101.5,115.4v2.1M101.7,119.9h2.1M102.7,118.9v2.1M105.2,117.6h2.1M106.2,116.5v2.1M110.4,117.6h2.1M111.4,116.5v2.1M113.4,113.5h2.1M114.4,112.5v2.1M115.7,112.4h2.1M116.7,111.4v2.1M116.9,114.7h2.1M117.9,113.7v2.1M115.7,116.4h2.1M116.7,115.4v2.1M113.9,122.3h2.1M114.9,121.2v2.1M116.2,120.9h2.1M117.3,119.9v2.1M122.7,122.9h2.1M123.7,121.9v2.1M123.2,124.0h2.1M124.3,123.0v2.1M126.8,122.3h2.1M127.8,121.2v2.1M95.8,121.5h2.1M96.8,120.5v2.1M112.8,126.4h2.1M113.8,125.4v2.1M119.8,134.9h2.1M120.8,133.8v2.1M137.8,136.1h2.1M138.9,135.0v2.1M81.4,88.7h2.1M82.4,87.7v2.1M74.0,83.4h2.1M75.1,82.4v2.1M70.4,82.8h2.1M71.4,81.8v2.1M87.7,95.7h2.1M88.7,94.7v2.1M86.5,91.3h2.1M87.6,90.2v2.1M85.5,91.4h2.1M86.6,90.4v2.1M73.5,84.7h2.1M74.5,83.7v2.1M90.2,96.4h2.1M91.2,95.4v2.1M70.8,84.7h2.1M71.8,83.7v2.1M85.8,92.4h2.1M86.8,91.4v2.1M79.0,85.5h2.1M80.0,84.5v2.1M68.9,85.7h2.1M69.9,84.7v2.1M69.9,86.2h2.1M70.9,85.2v2.1M72.2,83.8h2.1M73.3,82.8v2.1M91.9,98.0h2.1M92.9,97.0v2.1M79.5,89.2h2.1M80.5,88.2v2.1M73.2,84.6h2.1M74.2,83.5v2.1M72.0,88.1h2.1M73.0,87.0v2.1"/>
<polygon points="57.00,72.50 51.60,81.60 62.40,81.60" fill="#fde6e6" stroke="#222" stroke-width="1"/>
<rect x="0" y="0" width="152.90" height="153.00" fill="none" stroke="#4a4a4a" stroke-width="1"/>
<path d="M0.00,0v-2M0.00,153.00v2M0,0.00h-2M152.90,0.00h2M38.22,0v-2M38.22,153.00v2M0,38.25h-2M152.90,38.25h2M76.45,0v-2M76.45,153.00v2M0,76.50h-2M152.90,76.50h2M114.67,0v-2M114.67,153.00v2M0,114.75h-2M152.90,114.75h2M152.90,0v-2M152.90,153.00v2M0,153.00h-2M152.90,153.00h2" stroke="#8a8a8a" stroke-width="0.6" fill="none"/>
<text x="3.70" y="12.40" font-size="13.45">202 - 2-07</text><path transform="matrix(0.00657,0,0,-0.00657,26.141,12.400)" d="M515,0L515,1237L197,1010L197,1180L530,1409L696,1409L696,0Z"/><path transform="matrix(0.00657,0,0,-0.00657,38.100,12.400)" d="M515,0L515,1237L197,1010L197,1180L530,1409L696,1409L696,0Z"/>
<text x="138.41" y="12.60" font-size="13.3">L2</text>
<text x="132.81" y="24.10" font-size="13.3">top</text>
<text x="-3.70" y="166.30" font-size="13.3">0</text>
<text x="34.53" y="166.30" font-size="13.3"> </text><path transform="matrix(0.00649,0,0,-0.00649,34.527,166.300)" d="M515,0L515,1237L197,1010L197,1180L530,1409L696,1409L696,0Z"/>
<text x="72.75" y="166.30" font-size="13.3">2</text>
<text x="110.98" y="166.30" font-size="13.3">3</text>
<text x="149.20" y="166.30" font-size="13.3">4</text>
<text x="76.65" y="177.30" font-size="13.0" text-anchor="middle">Distance (km)</text>
</g>
<g transform="translate(527.10,179.40)">
<polygon points="53.43,77.41 65.22,84.44 68.75,78.51 56.97,71.49" fill="#ffa500"/><polygon points="65.22,84.44 91.20,99.93 94.74,94.00 68.75,78.51" fill="#ffff00"/><polygon points="91.20,99.93 104.68,107.96 108.22,102.04 94.74,94.00" fill="#00ff00"/>
<path fill="none" stroke="#b6b6b6" stroke-width="0.7" d="M17.3,72.0h2.1M18.4,71.0v2.1M24.3,73.5h2.1M25.4,72.5v2.1M17.3,78.6h2.1M18.4,77.5v2.1M35.2,75.5h2.1M36.3,74.5v2.1M45.4,75.1h2.1M46.4,74.0v2.1M53.8,72.4h2.1M54.8,71.4v2.1M71.2,69.1h2.1M72.3,68.0v2.1M67.5,73.4h2.1M68.6,72.4v2.1M69.0,75.4h2.1M70.0,74.4v2.1M66.5,76.9h2.1M67.6,75.9v2.1M43.0,87.2h2.1M44.0,86.2v2.1M48.9,91.2h2.1M49.9,90.2v2.1M53.8,89.4h2.1M54.8,88.4v2.1M55.8,87.0h2.1M56.8,86.0v2.1M56.9,90.9h2.1M57.9,89.9v2.1M59.6,89.5h2.1M60.6,88.5v2.1M62.9,91.5h2.1M63.9,90.5v2.1M70.7,90.9h2.1M71.7,89.9v2.1M73.5,94.4h2.1M74.6,93.4v2.1M75.4,89.1h2.1M76.4,88.0v2.1M77.0,82.7h2.1M78.1,81.7v2.1M38.6,96.7h2.1M39.6,95.7v2.1M43.9,97.7h2.1M44.9,96.7v2.1M48.9,99.7h2.1M49.9,98.7v2.1M17.3,99.4h2.1M18.4,98.4v2.1M22.2,99.9h2.1M23.3,98.9v2.1M44.7,104.1h2.1M45.7,103.0v2.1M48.5,108.2h2.1M49.5,107.2v2.1M61.4,114.6h2.1M62.4,113.5v2.1M56.7,99.1h2.1M57.7,98.0v2.1M58.5,99.7h2.1M59.5,98.7v2.1M59.6,101.4h2.1M60.6,100.4v2.1M62.0,100.2h2.1M63.0,99.2v2.1M63.7,98.5h2.1M64.7,97.5v2.1M66.0,97.9h2.1M67.1,96.9v2.1M67.8,98.7h2.1M68.8,97.7v2.1M62.5,102.6h2.1M63.5,101.5v2.1M64.2,103.7h2.1M65.3,102.7v2.1M66.0,102.0h2.1M67.1,101.0v2.1M68.4,101.4h2.1M69.4,100.4v2.1M65.5,105.5h2.1M66.5,104.5v2.1M67.8,105.5h2.1M68.8,104.5v2.1M70.0,104.6h2.1M71.1,103.5v2.1M72.5,105.3h2.1M73.5,104.2v2.1M74.8,104.3h2.1M75.8,103.2v2.1M76.5,105.5h2.1M77.6,104.5v2.1M66.5,107.6h2.1M67.6,106.5v2.1M69.0,107.8h2.1M70.0,106.8v2.1M71.2,108.8h2.1M72.3,107.8v2.1M73.5,109.0h2.1M74.6,108.0v2.1M76.0,108.4h2.1M77.0,107.4v2.1M77.7,110.2h2.1M78.7,109.2v2.1M73.5,100.2h2.1M74.6,99.2v2.1M70.0,85.6h2.1M71.1,84.5v2.1M76.0,86.8h2.1M77.0,85.8v2.1M67.8,84.5h2.1M68.8,83.5v2.1M71.2,86.8h2.1M72.3,85.8v2.1M74.8,88.0h2.1M75.8,87.0v2.1M131.4,53.5h2.1M132.5,52.5v2.1M99.5,57.8h2.1M100.6,56.8v2.1M81.8,69.5h2.1M82.8,68.5v2.1M81.0,74.9h2.1M82.0,73.9v2.1M81.0,76.5h2.1M82.0,75.5v2.1M89.4,74.0h2.1M90.4,73.0v2.1M83.0,83.7h2.1M84.0,82.7v2.1M85.7,85.6h2.1M86.7,84.5v2.1M88.2,89.1h2.1M89.3,88.0v2.1M91.2,90.9h2.1M92.2,89.9v2.1M104.5,89.1h2.1M105.6,88.0v2.1M106.4,88.2h2.1M107.4,87.2v2.1M130.8,88.8h2.1M131.9,87.8v2.1M122.7,98.7h2.1M123.7,97.7v2.1M76.5,88.0h2.1M77.6,87.0v2.1M78.9,90.9h2.1M79.9,89.9v2.1M82.4,91.5h2.1M83.4,90.5v2.1M84.7,95.0h2.1M85.7,94.0v2.1M87.0,96.7h2.1M88.1,95.7v2.1M84.2,101.4h2.1M85.2,100.4v2.1M109.2,102.0h2.1M110.3,101.0v2.1M113.4,104.1h2.1M114.4,103.0v2.1M115.0,102.0h2.1M116.1,101.0v2.1M116.2,104.9h2.1M117.3,103.9v2.1M118.0,106.7h2.1M119.0,105.7v2.1M124.5,105.3h2.1M125.5,104.2v2.1M125.0,108.4h2.1M126.0,107.4v2.1M130.5,104.6h2.1M131.6,103.5v2.1M139.2,104.1h2.1M140.3,103.0v2.1M143.0,114.6h2.1M144.1,113.5v2.1M144.8,118.9h2.1M145.9,117.9v2.1M72.5,104.3h2.1M73.5,103.2v2.1M74.2,105.5h2.1M75.2,104.5v2.1M76.5,104.3h2.1M77.6,103.2v2.1M78.9,105.5h2.1M79.9,104.5v2.1M77.7,109.0h2.1M78.7,108.0v2.1M80.0,107.8h2.1M81.1,106.8v2.1M82.4,107.2h2.1M83.4,106.2v2.1M80.7,110.2h2.1M81.7,109.2v2.1M83.5,111.3h2.1M84.6,110.2v2.1M85.9,110.7h2.1M86.9,109.7v2.1M88.2,110.2h2.1M89.3,109.2v2.1M90.5,109.0h2.1M91.6,108.0v2.1M92.2,105.5h2.1M93.3,104.5v2.1M95.2,107.8h2.1M96.3,106.8v2.1M85.9,113.7h2.1M86.9,112.7v2.1M88.2,114.2h2.1M89.3,113.2v2.1M90.5,114.8h2.1M91.6,113.8v2.1M92.9,113.7h2.1M93.9,112.7v2.1M95.2,115.4h2.1M96.3,114.4v2.1M81.2,114.6h2.1M82.2,113.5v2.1M98.2,111.9h2.1M99.2,110.9v2.1M99.9,114.2h2.1M100.9,113.2v2.1M102.2,111.3h2.1M103.3,110.2v2.1M104.0,109.0h2.1M105.0,108.0v2.1M105.8,107.8h2.1M106.8,106.8v2.1M106.9,117.2h2.1M107.9,116.2v2.1M109.2,116.0h2.1M110.3,115.0v2.1M111.5,114.8h2.1M112.6,113.8v2.1M110.4,113.7h2.1M111.4,112.7v2.1M112.8,117.8h2.1M113.8,116.8v2.1M115.7,114.2h2.1M116.7,113.2v2.1M116.9,112.5h2.1M117.9,111.5v2.1M101.0,117.8h2.1M102.1,116.8v2.1M97.5,118.3h2.1M98.6,117.2v2.1M119.2,118.3h2.1M120.2,117.2v2.1M123.9,118.3h2.1M124.9,117.2v2.1M113.9,109.0h2.1M114.9,108.0v2.1M115.7,110.7h2.1M116.7,109.7v2.1M74.2,129.9h2.1M75.2,128.8v2.1M78.9,111.2h2.1M79.9,110.2v2.1M88.2,112.9h2.1M89.3,111.9v2.1M92.9,115.9h2.1M93.9,114.9v2.1M94.7,112.9h2.1M95.7,111.9v2.1M102.8,112.4h2.1M103.8,111.4v2.1M97.5,115.9h2.1M98.6,114.9v2.1M100.5,116.4h2.1M101.5,115.4v2.1M99.9,119.4h2.1M100.9,118.4v2.1M101.7,119.9h2.1M102.7,118.9v2.1M105.2,117.6h2.1M106.2,116.5v2.1M110.4,117.6h2.1M111.4,116.5v2.1M113.4,113.5h2.1M114.4,112.5v2.1M115.7,112.4h2.1M116.7,111.4v2.1M116.9,114.7h2.1M117.9,113.7v2.1M115.7,116.4h2.1M116.7,115.4v2.1M113.9,122.3h2.1M114.9,121.2v2.1M116.2,120.9h2.1M117.3,119.9v2.1M122.7,122.9h2.1M123.7,121.9v2.1M123.2,124.0h2.1M124.3,123.0v2.1M126.8,122.3h2.1M127.8,121.2v2.1M89.4,121.7h2.1M90.4,120.7v2.1M95.8,121.5h2.1M96.8,120.5v2.1M112.8,126.4h2.1M113.8,125.4v2.1M119.8,134.9h2.1M120.8,133.8v2.1M137.8,136.1h2.1M138.9,135.0v2.1M81.4,88.7h2.1M82.4,87.7v2.1M74.0,83.4h2.1M75.1,82.4v2.1M70.4,82.8h2.1M71.4,81.8v2.1M87.7,95.7h2.1M88.7,94.7v2.1M86.5,91.3h2.1M87.6,90.2v2.1M85.5,91.4h2.1M86.6,90.4v2.1M73.5,84.7h2.1M74.5,83.7v2.1M90.2,96.4h2.1M91.2,95.4v2.1M70.8,84.7h2.1M71.8,83.7v2.1M85.8,92.4h2.1M86.8,91.4v2.1M79.0,85.5h2.1M80.0,84.5v2.1M68.9,85.7h2.1M69.9,84.7v2.1M69.9,86.2h2.1M70.9,85.2v2.1M72.2,83.8h2.1M73.3,82.8v2.1M91.9,98.0h2.1M92.9,97.0v2.1M79.5,89.2h2.1M80.5,88.2v2.1M73.2,84.6h2.1M74.2,83.5v2.1M72.0,88.1h2.1M73.0,87.0v2.1"/>
<polygon points="59.10,72.30 53.70,81.40 64.50,81.40" fill="#f03c3c" stroke="#222" stroke-width="1"/>
<rect x="0" y="0" width="152.40" height="153.00" fill="none" stroke="#4a4a4a" stroke-width="1"/>
<path d="M0.00,0v-2M0.00,153.00v2M0,0.00h-2M152.40,0.00h2M38.10,0v-2M38.10,153.00v2M0,38.25h-2M152.40,38.25h2M76.20,0v-2M76.20,153.00v2M0,76.50h-2M152.40,76.50h2M114.30,0v-2M114.30,153.00v2M0,114.75h-2M152.40,114.75h2M152.40,0v-2M152.40,153.00v2M0,153.00h-2M152.40,153.00h2" stroke="#8a8a8a" stroke-width="0.6" fill="none"/>
<text x="3.70" y="12.40" font-size="13.45">202 - 2-07</text><path transform="matrix(0.00657,0,0,-0.00657,26.141,12.400)" d="M515,0L515,1237L197,1010L197,1180L530,1409L696,1409L696,0Z"/><path transform="matrix(0.00657,0,0,-0.00657,38.100,12.400)" d="M515,0L515,1237L197,1010L197,1180L530,1409L696,1409L696,0Z"/>
<text x="137.91" y="12.60" font-size="13.3">L2</text>
<text x="132.31" y="24.10" font-size="13.3">top</text>
<text x="-3.70" y="166.30" font-size="13.3">0</text>
<text x="34.40" y="166.30" font-size="13.3"> </text><path transform="matrix(0.00649,0,0,-0.00649,34.402,166.300)" d="M515,0L515,1237L197,1010L197,1180L530,1409L696,1409L696,0Z"/>
<text x="72.50" y="166.30" font-size="13.3">2</text>
<text x="110.60" y="166.30" font-size="13.3">3</text>
<text x="148.70" y="166.30" font-size="13.3">4</text>
<text x="76.40" y="177.30" font-size="13.0" text-anchor="middle">Distance (km)</text>
</g>
<g transform="translate(31.50,395.50)">
<polygon points="55.22,97.75 64.49,103.35 68.06,97.45 58.78,91.85" fill="#ffa500"/><polygon points="64.49,103.35 87.46,117.22 91.03,111.32 68.06,97.45" fill="#ffff00"/><polygon points="87.46,117.22 97.37,123.20 100.93,117.30 91.03,111.32" fill="#00ff00"/>
<path fill="none" stroke="#b6b6b6" stroke-width="0.7" d="M78.4,87.4h2.1M79.4,86.4v2.1M81.5,91.0h2.1M82.6,90.0v2.1M103.8,89.6h2.1M104.8,88.5v2.1M93.0,102.4h2.1M94.0,101.4v2.1M99.0,105.9h2.1M100.0,104.9v2.1M103.0,105.2h2.1M104.1,104.2v2.1M105.5,108.3h2.1M106.5,107.2v2.1M113.0,104.2h2.1M114.1,103.2v2.1M114.9,100.7h2.1M115.9,99.7v2.1M116.5,105.2h2.1M117.6,104.2v2.1M117.7,107.2h2.1M118.7,106.2v2.1M139.1,104.0h2.1M140.2,103.0v2.1M92.7,111.4h2.1M93.7,110.4v2.1M106.5,117.2h2.1M107.6,116.2v2.1M110.5,116.3h2.1M111.5,115.2v2.1M100.2,120.6h2.1M101.3,119.5v2.1M137.3,136.1h2.1M138.4,135.0v2.1M66.4,103.1h2.1M67.4,102.0v2.1M72.5,106.5h2.1M73.6,105.5v2.1M75.4,108.6h2.1M76.4,107.5v2.1M78.2,109.0h2.1M79.2,108.0v2.1M76.0,104.5h2.1M77.1,103.5v2.1M86.5,111.4h2.1M87.5,110.4v2.1M89.9,114.2h2.1M90.9,113.2v2.1"/>
<polygon points="58.90,93.90 53.50,103.00 64.30,103.00" fill="#e2e2f6" stroke="#222" stroke-width="1"/>
<rect x="0" y="0" width="152.15" height="152.80" fill="none" stroke="#4a4a4a" stroke-width="1"/>
<path d="M0.00,0v-2M0.00,152.80v2M0,0.00h-2M152.15,0.00h2M38.04,0v-2M38.04,152.80v2M0,38.20h-2M152.15,38.20h2M76.08,0v-2M76.08,152.80v2M0,76.40h-2M152.15,76.40h2M114.11,0v-2M114.11,152.80v2M0,114.60h-2M152.15,114.60h2M152.15,0v-2M152.15,152.80v2M0,152.80h-2M152.15,152.80h2" stroke="#8a8a8a" stroke-width="0.6" fill="none"/>
<text x="16.60" y="-6.80" font-size="9.3" font-weight="bold" text-anchor="middle">NW</text>
<text x="136.65" y="-6.80" font-size="9.3" font-weight="bold" text-anchor="middle">SE</text>
<text x="1.0" y="14.4" font-size="17.5">S</text>
<text x="18.60" y="12.40" font-size="13.45">202 -08- 3</text><path transform="matrix(0.00657,0,0,-0.00657,41.041,12.400)" d="M515,0L515,1237L197,1010L197,1180L530,1409L696,1409L696,0Z"/><path transform="matrix(0.00657,0,0,-0.00657,72.439,12.400)" d="M515,0L515,1237L197,1010L197,1180L530,1409L696,1409L696,0Z"/>
<text x="137.66" y="12.60" font-size="13.3">L2</text>
<text x="109.89" y="24.10" font-size="13.3">bottom</text>
<text x="-17.99" y="4.80" font-size="13.3"> 0</text><path transform="matrix(0.00649,0,0,-0.00649,-17.994,4.800)" d="M515,0L515,1237L197,1010L197,1180L530,1409L696,1409L696,0Z"/>
<text x="-17.99" y="43.00" font-size="13.3">  </text><path transform="matrix(0.00649,0,0,-0.00649,-17.994,43.000)" d="M515,0L515,1237L197,1010L197,1180L530,1409L696,1409L696,0Z"/><path transform="matrix(0.00649,0,0,-0.00649,-10.597,43.000)" d="M515,0L515,1237L197,1010L197,1180L530,1409L696,1409L696,0Z"/>
<text x="-17.99" y="81.20" font-size="13.3"> 2</text><path transform="matrix(0.00649,0,0,-0.00649,-17.994,81.200)" d="M515,0L515,1237L197,1010L197,1180L530,1409L696,1409L696,0Z"/>
<text x="-17.99" y="119.40" font-size="13.3"> 3</text><path transform="matrix(0.00649,0,0,-0.00649,-17.994,119.400)" d="M515,0L515,1237L197,1010L197,1180L530,1409L696,1409L696,0Z"/>
<text x="-17.99" y="157.60" font-size="13.3"> 4</text><path transform="matrix(0.00649,0,0,-0.00649,-17.994,157.600)" d="M515,0L515,1237L197,1010L197,1180L530,1409L696,1409L696,0Z"/>
<text transform="translate(-21,76.40) rotate(-90)" font-size="13.3" text-anchor="middle">Depth (km)</text>
</g>
<g transform="translate(196.35,395.50)">
<polygon points="13.21,72.30 31.73,83.50 35.30,77.60 16.79,66.40" fill="#ffa500"/><polygon points="31.73,83.50 77.59,111.24 81.16,105.34 35.30,77.60" fill="#ffff00"/><polygon points="77.59,111.24 97.36,123.20 100.94,117.30 81.16,105.34" fill="#00ff00"/>
<path fill="none" stroke="#b6b6b6" stroke-width="0.7" d="M65.4,84.1h2.1M66.4,83.0v2.1M67.2,83.2h2.1M68.2,82.2v2.1M65.0,85.8h2.1M66.0,84.8v2.1M78.0,87.6h2.1M79.1,86.5v2.1M77.2,90.2h2.1M78.2,89.2v2.1M80.7,91.1h2.1M81.7,90.0v2.1M79.9,94.1h2.1M80.9,93.0v2.1M81.2,95.4h2.1M82.2,94.4v2.1M84.7,86.7h2.1M85.7,85.7v2.1M94.7,91.5h2.1M95.7,90.5v2.1M100.4,94.1h2.1M101.4,93.0v2.1M107.4,95.0h2.1M108.4,94.0v2.1M68.9,99.8h2.1M69.9,98.8v2.1M70.7,102.4h2.1M71.7,101.4v2.1M72.4,105.1h2.1M73.4,104.0v2.1M84.7,111.2h2.1M85.7,110.2v2.1M88.2,112.1h2.1M89.2,111.0v2.1M95.2,115.6h2.1M96.2,114.5v2.1M96.9,116.5h2.1M97.9,115.5v2.1M87.2,113.8h2.1M88.3,112.8v2.1M89.0,115.6h2.1M90.1,114.5v2.1M68.9,107.7h2.1M69.9,106.7v2.1M68.0,112.1h2.1M69.0,111.0v2.1M88.2,95.4h2.1M89.2,94.4v2.1M89.9,97.6h2.1M90.9,96.5v2.1M97.8,102.4h2.1M98.8,101.4v2.1M95.2,107.7h2.1M96.2,106.7v2.1M88.2,104.2h2.1M89.2,103.2v2.1M87.2,101.6h2.1M88.3,100.5v2.1M105.7,107.7h2.1M106.7,106.7v2.1M109.2,99.8h2.1M110.2,98.8v2.1M115.2,103.3h2.1M116.3,102.2v2.1M116.2,105.1h2.1M117.2,104.0v2.1M117.0,106.8h2.1M118.1,105.8v2.1M109.5,110.3h2.1M110.6,109.2v2.1M107.4,111.2h2.1M108.4,110.2v2.1M100.4,119.1h2.1M101.4,118.0v2.1M97.8,111.2h2.1M98.8,110.2v2.1M114.5,114.7h2.1M115.5,113.7v2.1M116.2,113.8h2.1M117.2,112.8v2.1M117.0,117.3h2.1M118.1,116.2v2.1M105.7,116.5h2.1M106.7,115.5v2.1M119.7,113.8h2.1M120.7,112.8v2.1M104.8,124.8h2.1M105.8,123.8v2.1M96.9,123.5h2.1M97.9,122.5v2.1M89.9,121.3h2.1M90.9,120.2v2.1M77.2,125.7h2.1M78.2,124.7v2.1M112.7,126.1h2.1M113.7,125.0v2.1M86.0,61.9h2.1M87.0,60.9v2.1M49.7,72.0h2.1M50.7,71.0v2.1M57.6,71.1h2.1M58.6,70.0v2.1M41.8,73.3h2.1M42.8,72.2v2.1M49.7,76.8h2.1M50.7,75.8v2.1M50.1,79.0h2.1M51.1,78.0v2.1M55.8,78.6h2.1M56.8,77.5v2.1M61.9,79.5h2.1M62.9,78.5v2.1M67.2,72.9h2.1M68.2,71.9v2.1M68.9,78.1h2.1M69.9,77.0v2.1M65.4,77.7h2.1M66.4,76.7v2.1M66.2,87.3h2.1M67.3,86.2v2.1M75.5,83.4h2.1M76.5,82.4v2.1M79.5,89.1h2.1M80.5,88.0v2.1M79.5,82.1h2.1M80.5,81.0v2.1M77.7,81.2h2.1M78.7,80.2v2.1M70.7,68.5h2.1M71.7,67.5v2.1M81.5,69.4h2.1M82.6,68.4v2.1M80.8,74.2h2.1M81.8,73.2v2.1M59.2,89.1h2.1M60.3,88.0v2.1M62.8,91.7h2.1M63.8,90.7v2.1M65.4,93.5h2.1M66.4,92.5v2.1M75.0,96.5h2.1M76.1,95.5v2.1M40.9,92.2h2.1M41.9,91.2v2.1M38.2,96.5h2.1M39.3,95.5v2.1M32.2,79.5h2.1M33.2,78.5v2.1M33.9,81.2h2.1M34.9,80.2v2.1M35.7,80.3h2.1M36.7,79.2v2.1M38.2,83.0h2.1M39.3,82.0v2.1M48.8,89.1h2.1M49.8,88.0v2.1M47.9,91.7h2.1M48.9,90.7v2.1M41.2,53.9h2.1M42.3,52.9v2.1M55.6,55.7h2.1M56.6,54.7v2.1M16.3,63.4h2.1M17.4,62.4v2.1M24.6,69.2h2.1M25.6,68.2v2.1M17.2,72.4h2.1M18.3,71.4v2.1M20.8,70.6h2.1M21.8,69.5v2.1M24.2,73.6h2.1M25.3,72.5v2.1M21.3,75.9h2.1M22.4,74.9v2.1M17.8,79.2h2.1M18.9,78.2v2.1M25.6,78.8h2.1M26.7,77.8v2.1M13.5,84.6h2.1M14.6,83.5v2.1M35.8,75.9h2.1M36.8,74.9v2.1M45.7,75.3h2.1M46.7,74.2v2.1M50.6,74.7h2.1M51.6,73.7v2.1M53.5,72.4h2.1M54.5,71.4v2.1M55.9,71.8h2.1M56.9,70.8v2.1M54.1,75.9h2.1M55.1,74.9v2.1M58.2,77.1h2.1M59.2,76.0v2.1M58.8,80.0h2.1M59.8,79.0v2.1M62.2,73.6h2.1M63.3,72.5v2.1M62.2,76.5h2.1M63.3,75.5v2.1M66.4,75.9h2.1M67.4,74.9v2.1M68.7,75.9h2.1M69.7,74.9v2.1M62.9,82.3h2.1M63.9,81.2v2.1M68.7,85.2h2.1M69.7,84.2v2.1M72.2,81.7h2.1M73.2,80.7v2.1M73.4,84.6h2.1M74.4,83.5v2.1M76.2,87.6h2.1M77.3,86.5v2.1M74.5,91.7h2.1M75.6,90.7v2.1M71.5,90.5h2.1M72.6,89.5v2.1M66.4,91.1h2.1M67.4,90.0v2.1M55.2,82.9h2.1M56.3,81.9v2.1M55.9,86.4h2.1M56.9,85.4v2.1M29.6,85.8h2.1M30.6,84.8v2.1M27.8,90.5h2.1M28.8,89.5v2.1M36.6,90.1h2.1M37.6,89.0v2.1M41.9,84.1h2.1M42.9,83.0v2.1M43.0,86.4h2.1M44.0,85.4v2.1M45.4,87.6h2.1M46.4,86.5v2.1M47.7,87.0h2.1M48.7,86.0v2.1M53.0,88.7h2.1M54.0,87.7v2.1M85.5,31.3h2.1M86.5,30.2v2.1M124.5,31.3h2.1M125.6,30.2v2.1M106.5,52.9h2.1M107.5,51.9v2.1M131.5,53.3h2.1M132.6,52.2v2.1M99.7,57.8h2.1M100.7,56.8v2.1M124.5,63.4h2.1M125.6,62.4v2.1M81.4,76.5h2.1M82.4,75.5v2.1M89.5,73.8h2.1M90.6,72.8v2.1M108.9,68.5h2.1M109.9,67.5v2.1M112.9,70.0h2.1M113.9,69.0v2.1M106.5,79.2h2.1M107.5,78.2v2.1M75.0,85.2h2.1M76.0,84.2v2.1M78.5,84.6h2.1M79.5,83.5v2.1M82.5,83.5h2.1M83.6,82.5v2.1M80.8,88.1h2.1M81.8,87.0v2.1M83.2,89.9h2.1M84.2,88.9v2.1M87.8,89.0h2.1M88.8,88.0v2.1M91.2,91.1h2.1M92.3,90.0v2.1M104.8,89.3h2.1M105.8,88.2v2.1M107.0,88.7h2.1M108.1,87.7v2.1M105.9,92.8h2.1M106.9,91.8v2.1M130.9,88.7h2.1M132.0,87.7v2.1M43.0,93.0h2.1M44.0,92.0v2.1M73.4,94.8h2.1M74.4,93.8v2.1M17.2,99.4h2.1M18.3,98.4v2.1M21.9,100.0h2.1M23.0,99.0v2.1M33.1,98.0h2.1M34.1,97.0v2.1M44.2,97.4h2.1M45.2,96.4v2.1M47.7,98.8h2.1M48.7,97.8v2.1M44.8,102.9h2.1M45.8,101.9v2.1M48.9,108.5h2.1M49.9,107.5v2.1M57.6,113.8h2.1M58.6,112.8v2.1M61.7,114.6h2.1M62.7,113.5v2.1M72.5,126.3h2.1M73.5,125.2v2.1M74.5,129.8h2.1M75.6,128.8v2.1M60.0,105.3h2.1M61.0,104.2v2.1M63.5,104.7h2.1M64.5,103.7v2.1M60.5,108.2h2.1M61.5,107.2v2.1M67.0,109.4h2.1M68.0,108.4v2.1M71.5,109.4h2.1M72.6,108.4v2.1M51.2,95.3h2.1M52.2,94.2v2.1M55.9,94.2h2.1M56.9,93.2v2.1M58.2,97.7h2.1M59.2,96.7v2.1M62.2,100.0h2.1M63.3,99.0v2.1M53.5,91.8h2.1M54.5,90.8v2.1M83.2,94.8h2.1M84.2,93.8v2.1M83.7,101.2h2.1M84.7,100.2v2.1M92.5,101.2h2.1M93.5,100.2v2.1M94.2,102.3h2.1M95.3,101.2v2.1M98.9,100.0h2.1M99.9,99.0v2.1M103.5,104.7h2.1M104.6,103.7v2.1M107.7,101.8h2.1M108.7,100.8v2.1M110.0,101.2h2.1M111.0,100.2v2.1M113.5,102.3h2.1M114.5,101.2v2.1M115.2,101.2h2.1M116.3,100.2v2.1M113.5,104.7h2.1M114.5,103.7v2.1M90.8,107.0h2.1M91.8,106.0v2.1M100.0,107.0h2.1M101.1,106.0v2.1M100.7,109.4h2.1M101.7,108.4v2.1M104.2,110.5h2.1M105.2,109.5v2.1M93.7,110.5h2.1M94.7,109.5v2.1M111.2,107.6h2.1M112.2,106.5v2.1M114.0,108.8h2.1M115.1,107.8v2.1M100.7,114.0h2.1M101.7,113.0v2.1M101.8,116.9h2.1M102.8,115.9v2.1M104.2,117.5h2.1M105.2,116.5v2.1M110.0,114.0h2.1M111.0,113.0v2.1M111.8,115.8h2.1M112.8,114.8v2.1M112.9,113.4h2.1M113.9,112.4v2.1M113.5,117.5h2.1M114.5,116.5v2.1M111.2,119.9h2.1M112.2,118.9v2.1M115.2,121.0h2.1M116.3,120.0v2.1M119.4,118.1h2.1M120.4,117.0v2.1M122.9,123.4h2.1M123.9,122.4v2.1M124.5,126.3h2.1M125.6,125.2v2.1M124.0,118.7h2.1M125.0,117.7v2.1M127.5,122.2h2.1M128.5,121.2v2.1M130.9,125.1h2.1M132.0,124.0v2.1M122.2,113.4h2.1M123.3,112.4v2.1M122.2,98.8h2.1M123.3,97.8v2.1M124.0,104.7h2.1M125.0,103.7v2.1M125.2,108.8h2.1M126.2,107.8v2.1M130.9,104.1h2.1M132.0,103.0v2.1M139.1,103.9h2.1M140.2,102.9v2.1M143.2,114.6h2.1M144.3,113.5v2.1M145.0,119.3h2.1M146.1,118.2v2.1M124.5,131.3h2.1M125.6,130.2v2.1M119.7,134.5h2.1M120.7,133.4v2.1M138.0,136.0h2.1M139.1,134.9v2.1M80.8,140.3h2.1M81.8,139.2v2.1M82.0,109.4h2.1M83.0,108.4v2.1M91.2,114.6h2.1M92.3,113.5v2.1M66.0,95.4h2.1M67.0,94.4v2.1M65.4,98.3h2.1M66.4,97.2v2.1M67.7,100.4h2.1M68.7,99.4v2.1M67.7,101.0h2.1M68.7,100.0v2.1M74.7,106.3h2.1M75.7,105.2v2.1M54.7,92.9h2.1M55.7,91.9v2.1M40.1,86.6h2.1M41.1,85.5v2.1M39.2,81.0h2.1M40.3,80.0v2.1M95.4,122.2h2.1M96.4,121.2v2.1M74.2,105.0h2.1M75.3,104.0v2.1M43.6,90.4h2.1M44.6,89.4v2.1M38.7,84.6h2.1M39.7,83.5v2.1M47.0,89.4h2.1M48.0,88.4v2.1M64.0,100.3h2.1M65.0,99.2v2.1M62.1,100.1h2.1M63.1,99.0v2.1M76.5,104.6h2.1M77.6,103.5v2.1M67.2,100.1h2.1M68.2,99.0v2.1M53.7,90.9h2.1M54.7,89.9v2.1M95.8,123.8h2.1M96.8,122.8v2.1M79.8,109.0h2.1M80.8,108.0v2.1M54.8,94.3h2.1M55.8,93.2v2.1M38.5,86.3h2.1M39.5,85.2v2.1M85.2,108.4h2.1M86.2,107.4v2.1M58.1,99.0h2.1M59.1,98.0v2.1M95.5,118.7h2.1M96.5,117.7v2.1M48.2,90.0h2.1M49.3,89.0v2.1M95.5,111.6h2.1M96.6,110.5v2.1M59.5,98.2h2.1M60.5,97.2v2.1M41.0,82.6h2.1M42.0,81.5v2.1M53.5,90.0h2.1M54.5,89.0v2.1M42.0,83.0h2.1M43.0,82.0v2.1M80.2,115.2h2.1M81.3,114.2v2.1M42.5,86.6h2.1M43.5,85.5v2.1M38.2,85.2h2.1M39.3,84.2v2.1M84.7,113.6h2.1M85.7,112.5v2.1M62.0,101.3h2.1M63.0,100.2v2.1M47.1,89.2h2.1M48.1,88.2v2.1M76.2,105.7h2.1M77.3,104.7v2.1M43.1,85.4h2.1M44.1,84.4v2.1M51.7,93.0h2.1M52.7,92.0v2.1"/>
<rect x="68.35" y="98.55" width="8.40" height="8.40" fill="#fcdede" stroke="#383838" stroke-width="1.0"/>
<rect x="0" y="0" width="152.30" height="152.80" fill="none" stroke="#4a4a4a" stroke-width="1"/>
<path d="M0.00,0v-2M0.00,152.80v2M0,0.00h-2M152.30,0.00h2M38.07,0v-2M38.07,152.80v2M0,38.20h-2M152.30,38.20h2M76.15,0v-2M76.15,152.80v2M0,76.40h-2M152.30,76.40h2M114.22,0v-2M114.22,152.80v2M0,114.60h-2M152.30,114.60h2M152.30,0v-2M152.30,152.80v2M0,152.80h-2M152.30,152.80h2" stroke="#8a8a8a" stroke-width="0.6" fill="none"/>
<text x="16.60" y="-6.80" font-size="9.3" font-weight="bold" text-anchor="middle">NW</text>
<text x="136.80" y="-6.80" font-size="9.3" font-weight="bold" text-anchor="middle">SE</text>
<text x="3.70" y="12.40" font-size="13.45">2022-04-04</text>
<text x="137.81" y="12.60" font-size="13.3">L2</text>
<text x="110.04" y="24.10" font-size="13.3">bottom</text>
</g>
<g transform="translate(361.50,395.50)">
<polygon points="13.21,72.30 31.73,83.50 35.30,77.60 16.79,66.40" fill="#ffa500"/><polygon points="31.73,83.50 77.59,111.24 81.16,105.34 35.30,77.60" fill="#ffff00"/><polygon points="77.59,111.24 97.36,123.20 100.94,117.30 81.16,105.34" fill="#00ff00"/>
<path fill="none" stroke="#b6b6b6" stroke-width="0.7" d="M65.4,84.1h2.1M66.4,83.0v2.1M67.2,83.2h2.1M68.2,82.2v2.1M65.0,85.8h2.1M66.0,84.8v2.1M66.2,87.6h2.1M67.3,86.5v2.1M70.7,90.2h2.1M71.7,89.2v2.1M72.8,81.4h2.1M73.8,80.4v2.1M75.9,86.7h2.1M76.9,85.7v2.1M76.8,88.4h2.1M77.8,87.4v2.1M77.2,90.2h2.1M78.2,89.2v2.1M80.7,91.1h2.1M81.7,90.0v2.1M82.9,91.9h2.1M83.9,90.9v2.1M83.8,95.0h2.1M84.8,94.0v2.1M79.9,94.1h2.1M80.9,93.0v2.1M81.2,95.4h2.1M82.2,94.4v2.1M84.7,86.7h2.1M85.7,85.7v2.1M82.9,82.7h2.1M83.9,81.7v2.1M87.7,88.4h2.1M88.7,87.4v2.1M90.4,84.9h2.1M91.4,83.9v2.1M90.8,90.6h2.1M91.8,89.5v2.1M94.7,91.5h2.1M95.7,90.5v2.1M100.4,94.1h2.1M101.4,93.0v2.1M100.0,86.7h2.1M101.0,85.7v2.1M103.9,88.9h2.1M104.9,87.9v2.1M106.5,88.0h2.1M107.6,87.0v2.1M105.2,92.4h2.1M106.3,91.4v2.1M107.4,95.0h2.1M108.4,94.0v2.1M111.8,93.7h2.1M112.8,92.7v2.1M120.0,89.7h2.1M121.1,88.7v2.1M97.4,79.7h2.1M98.4,78.7v2.1M105.7,79.2h2.1M106.7,78.2v2.1M67.2,98.1h2.1M68.2,97.0v2.1M68.9,99.8h2.1M69.9,98.8v2.1M70.7,102.4h2.1M71.7,101.4v2.1M72.4,105.1h2.1M73.4,104.0v2.1M74.2,104.2h2.1M75.2,103.2v2.1M75.9,102.4h2.1M76.9,101.4v2.1M77.7,101.6h2.1M78.7,100.5v2.1M75.0,106.8h2.1M76.0,105.8v2.1M76.8,108.6h2.1M77.8,107.5v2.1M81.2,109.5h2.1M82.2,108.5v2.1M82.9,108.6h2.1M83.9,107.5v2.1M84.7,111.2h2.1M85.7,110.2v2.1M86.4,110.3h2.1M87.4,109.2v2.1M91.7,113.8h2.1M92.7,112.8v2.1M93.4,114.7h2.1M94.4,113.7v2.1M95.2,115.6h2.1M96.2,114.5v2.1M96.9,116.5h2.1M97.9,115.5v2.1M82.0,112.1h2.1M83.0,111.0v2.1M87.2,113.8h2.1M88.3,112.8v2.1M89.0,115.6h2.1M90.1,114.5v2.1M90.8,116.5h2.1M91.8,115.5v2.1M67.2,105.1h2.1M68.2,104.0v2.1M68.9,107.7h2.1M69.9,106.7v2.1M70.7,110.3h2.1M71.7,109.2v2.1M68.0,112.1h2.1M69.0,111.0v2.1M71.5,113.0h2.1M72.5,112.0v2.1M75.0,97.6h2.1M76.0,96.5v2.1M78.0,97.2h2.1M79.1,96.2v2.1M83.8,100.7h2.1M84.8,99.7v2.1M86.4,96.3h2.1M87.4,95.2v2.1M88.2,95.4h2.1M89.2,94.4v2.1M89.9,97.6h2.1M90.9,96.5v2.1M92.5,100.7h2.1M93.6,99.7v2.1M96.0,98.9h2.1M97.1,97.9v2.1M97.8,102.4h2.1M98.8,101.4v2.1M98.7,104.2h2.1M99.7,103.2v2.1M96.9,106.0h2.1M97.9,105.0v2.1M95.2,107.7h2.1M96.2,106.7v2.1M88.2,104.2h2.1M89.2,103.2v2.1M87.2,101.6h2.1M88.3,100.5v2.1M103.0,105.1h2.1M104.1,104.0v2.1M105.7,107.7h2.1M106.7,106.7v2.1M106.5,103.3h2.1M107.6,102.2v2.1M104.8,99.8h2.1M105.8,98.8v2.1M108.2,101.6h2.1M109.3,100.5v2.1M109.2,99.8h2.1M110.2,98.8v2.1M111.0,102.4h2.1M112.0,101.4v2.1M112.7,100.7h2.1M113.7,99.7v2.1M114.5,99.8h2.1M115.5,98.8v2.1M115.2,103.3h2.1M116.3,102.2v2.1M116.2,105.1h2.1M117.2,104.0v2.1M113.5,105.1h2.1M114.6,104.0v2.1M117.0,106.8h2.1M118.1,105.8v2.1M118.0,109.5h2.1M119.0,108.5v2.1M111.0,107.7h2.1M112.0,106.7v2.1M109.5,110.3h2.1M110.6,109.2v2.1M107.4,111.2h2.1M108.4,110.2v2.1M103.0,113.8h2.1M104.1,112.8v2.1M101.8,116.5h2.1M102.8,115.5v2.1M100.4,119.1h2.1M101.4,118.0v2.1M99.5,114.7h2.1M100.6,113.7v2.1M97.8,111.2h2.1M98.8,110.2v2.1M113.5,113.0h2.1M114.6,112.0v2.1M114.5,114.7h2.1M115.5,113.7v2.1M116.2,113.8h2.1M117.2,112.8v2.1M117.0,117.3h2.1M118.1,116.2v2.1M115.2,119.1h2.1M116.3,118.0v2.1M112.7,117.3h2.1M113.7,116.2v2.1M111.0,115.6h2.1M112.0,114.5v2.1M110.0,118.2h2.1M111.1,117.2v2.1M111.8,120.0h2.1M112.8,119.0v2.1M109.2,120.8h2.1M110.2,119.8v2.1M107.4,117.3h2.1M108.4,116.2v2.1M105.7,116.5h2.1M106.7,115.5v2.1M104.8,120.0h2.1M105.8,119.0v2.1M118.8,120.0h2.1M119.8,119.0v2.1M119.7,113.8h2.1M120.7,112.8v2.1M121.5,109.5h2.1M122.5,108.5v2.1M114.5,122.6h2.1M115.5,121.5v2.1M117.0,123.5h2.1M118.1,122.5v2.1M111.0,122.6h2.1M112.0,121.5v2.1M104.8,124.8h2.1M105.8,123.8v2.1M96.9,123.5h2.1M97.9,122.5v2.1M89.9,121.3h2.1M90.9,120.2v2.1M81.2,119.1h2.1M82.2,118.0v2.1M72.4,125.2h2.1M73.4,124.2v2.1M77.2,125.7h2.1M78.2,124.7v2.1M63.7,117.3h2.1M64.7,116.2v2.1M112.7,126.1h2.1M113.7,125.0v2.1M40.9,53.6h2.1M41.9,52.6v2.1M55.8,55.4h2.1M56.8,54.4v2.1M31.7,59.7h2.1M32.7,58.7v2.1M26.8,62.4h2.1M27.9,61.4v2.1M45.7,70.3h2.1M46.7,69.2v2.1M49.2,70.7h2.1M50.2,69.7v2.1M51.0,69.8h2.1M52.0,68.8v2.1M54.9,71.6h2.1M55.9,70.5v2.1M45.2,74.6h2.1M46.3,73.5v2.1M41.8,73.3h2.1M42.8,72.2v2.1M49.7,76.8h2.1M50.7,75.8v2.1M54.1,76.0h2.1M55.1,75.0v2.1M58.4,79.5h2.1M59.4,78.5v2.1M60.2,79.9h2.1M61.2,78.9v2.1M62.8,72.9h2.1M63.8,71.9v2.1M65.4,74.6h2.1M66.4,73.5v2.1M67.2,72.9h2.1M68.2,71.9v2.1M68.0,75.1h2.1M69.1,74.0v2.1M68.9,78.1h2.1M69.9,77.0v2.1M65.4,77.7h2.1M66.4,76.7v2.1M70.7,83.8h2.1M71.7,82.8v2.1M83.0,85.6h2.1M84.0,84.5v2.1M79.5,82.1h2.1M80.5,81.0v2.1M77.7,81.2h2.1M78.7,80.2v2.1M84.7,83.0h2.1M85.7,82.0v2.1M70.7,68.5h2.1M71.7,67.5v2.1M81.5,69.4h2.1M82.6,68.4v2.1M80.8,74.2h2.1M81.8,73.2v2.1M80.8,76.0h2.1M81.8,75.0v2.1M55.8,82.1h2.1M56.8,81.0v2.1M59.2,89.1h2.1M60.3,88.0v2.1M65.4,93.5h2.1M66.4,92.5v2.1M70.7,94.3h2.1M71.7,93.2v2.1M72.4,94.3h2.1M73.4,93.2v2.1M74.2,92.6h2.1M75.2,91.5v2.1M77.7,95.2h2.1M78.7,94.2v2.1M27.8,89.5h2.1M28.8,88.5v2.1M34.8,89.5h2.1M35.8,88.5v2.1M40.9,92.2h2.1M41.9,91.2v2.1M38.2,96.5h2.1M39.3,95.5v2.1M32.6,97.4h2.1M33.6,96.4v2.1M43.5,97.0h2.1M44.5,96.0v2.1M47.0,97.4h2.1M48.0,96.4v2.1M33.9,81.2h2.1M34.9,80.2v2.1M35.7,80.3h2.1M36.7,79.2v2.1M38.2,83.0h2.1M39.3,82.0v2.1M40.9,83.8h2.1M41.9,82.8v2.1M42.7,81.6h2.1M43.7,80.5v2.1M43.5,86.5h2.1M44.5,85.5v2.1M45.2,87.3h2.1M46.3,86.2v2.1M47.0,88.2h2.1M48.0,87.2v2.1M48.8,89.1h2.1M49.8,88.0v2.1M50.5,90.0h2.1M51.5,89.0v2.1M44.4,90.0h2.1M45.4,89.0v2.1M47.9,91.7h2.1M48.9,90.7v2.1M50.5,93.5h2.1M51.5,92.5v2.1M53.2,93.9h2.1M54.2,92.9v2.1M55.8,92.6h2.1M56.8,91.5v2.1M15.4,50.6h2.1M16.5,49.6v2.1M17.8,55.6h2.1M18.9,54.6v2.1M25.1,57.6h2.1M26.1,56.6v2.1M16.1,63.2h2.1M17.1,62.2v2.1M22.8,64.6h2.1M23.8,63.5v2.1M23.9,66.7h2.1M25.0,65.7v2.1M9.5,66.1h2.1M10.6,65.0v2.1M55.8,47.6h2.1M56.8,46.6v2.1M71.7,45.7h2.1M72.7,44.7v2.1M17.6,71.4h2.1M18.6,70.4v2.1M20.4,70.2h2.1M21.5,69.2v2.1M23.3,72.5h2.1M24.4,71.5v2.1M26.2,76.0h2.1M27.3,75.0v2.1M17.8,78.4h2.1M18.8,77.4v2.1M13.4,84.2h2.1M14.5,83.2v2.1M62.5,75.4h2.1M63.5,74.4v2.1M66.5,80.1h2.1M67.6,79.0v2.1M76.0,82.4h2.1M77.0,81.4v2.1M85.7,30.8h2.1M86.7,29.8v2.1M119.8,31.4h2.1M120.8,30.3v2.1M122.0,33.4h2.1M123.1,32.4v2.1M124.5,30.7h2.1M125.5,29.6v2.1M95.2,47.2h2.1M96.3,46.2v2.1M87.7,51.3h2.1M88.7,50.2v2.1M117.2,57.9h2.1M118.2,56.9v2.1M98.2,63.2h2.1M99.2,62.2v2.1M118.8,62.2h2.1M119.8,61.2v2.1M124.5,62.8h2.1M125.5,61.8v2.1M110.4,66.7h2.1M111.4,65.7v2.1M112.8,70.2h2.1M113.8,69.2v2.1M116.2,66.1h2.1M117.3,65.0v2.1M106.9,69.6h2.1M107.9,68.5v2.1M88.8,67.9h2.1M89.8,66.9v2.1M87.7,71.0h2.1M88.7,70.0v2.1M96.7,68.8h2.1M97.7,67.8v2.1M96.4,72.8h2.1M97.4,71.8v2.1M97.5,74.6h2.1M98.6,73.5v2.1M89.4,76.0h2.1M90.4,75.0v2.1M78.9,84.2h2.1M79.9,83.2v2.1M73.7,86.0h2.1M74.7,85.0v2.1M123.2,86.2h2.1M124.3,85.2v2.1M130.8,87.9h2.1M131.9,86.9v2.1M40.9,88.5h2.1M41.9,87.5v2.1M52.0,89.1h2.1M53.0,88.0v2.1M62.0,86.1h2.1M63.0,85.0v2.1M69.0,88.5h2.1M70.0,87.5v2.1M73.5,89.1h2.1M74.6,88.0v2.1M76.0,95.5h2.1M77.0,94.5v2.1M32.2,100.7h2.1M33.2,99.7v2.1M49.1,99.0h2.1M50.1,98.0v2.1M43.9,102.5h2.1M44.9,101.5v2.1M45.0,103.7h2.1M46.0,102.7v2.1M17.6,98.7h2.1M18.6,97.7v2.1M22.2,99.6h2.1M23.3,98.5v2.1M48.5,107.7h2.1M49.5,106.7v2.1M53.2,109.3h2.1M54.2,108.2v2.1M57.9,113.6h2.1M58.9,112.5v2.1M61.4,114.7h2.1M62.4,113.7v2.1M60.2,120.6h2.1M61.2,119.5v2.1M65.5,107.2h2.1M66.5,106.2v2.1M70.0,105.4h2.1M71.1,104.4v2.1M74.2,125.6h2.1M75.2,124.5v2.1M71.9,127.9h2.1M72.9,126.9v2.1M74.2,129.3h2.1M75.2,128.2v2.1M69.0,104.2h2.1M70.0,103.2v2.1M81.2,88.5h2.1M82.2,87.5v2.1M96.4,109.5h2.1M97.4,108.5v2.1M102.2,111.8h2.1M103.3,110.8v2.1M119.8,118.3h2.1M120.8,117.2v2.1M122.0,113.6h2.1M123.1,112.5v2.1M125.0,117.7h2.1M126.0,116.7v2.1M123.2,122.3h2.1M124.3,121.2v2.1M95.2,135.2h2.1M96.3,134.1v2.1M80.7,139.9h2.1M81.7,138.8v2.1M123.9,131.1h2.1M124.9,130.0v2.1M122.0,127.9h2.1M123.1,126.9v2.1M131.4,125.3h2.1M132.5,124.2v2.1M137.8,135.8h2.1M138.9,134.8v2.1M143.0,114.4h2.1M144.1,113.4v2.1M144.8,118.6h2.1M145.9,117.5v2.1M139.5,103.7h2.1M140.6,102.7v2.1M124.5,104.6h2.1M125.5,103.5v2.1M125.0,108.3h2.1M126.0,107.2v2.1M122.7,99.0h2.1M123.7,98.0v2.1M126.2,92.6h2.1M127.2,91.5v2.1M123.2,89.6h2.1M124.3,88.5v2.1M85.9,102.5h2.1M86.9,101.5v2.1M101.7,99.0h2.1M102.7,98.0v2.1M98.8,97.8h2.1M99.8,96.8v2.1M66.0,95.4h2.1M67.0,94.4v2.1M65.4,98.3h2.1M66.4,97.2v2.1M67.7,100.4h2.1M68.7,99.4v2.1M67.7,101.0h2.1M68.7,100.0v2.1M74.7,106.3h2.1M75.7,105.2v2.1M54.7,92.9h2.1M55.7,91.9v2.1M40.1,86.6h2.1M41.1,85.5v2.1M39.2,81.0h2.1M40.3,80.0v2.1M95.4,122.2h2.1M96.4,121.2v2.1M74.2,105.0h2.1M75.3,104.0v2.1M43.6,90.4h2.1M44.6,89.4v2.1M38.7,84.6h2.1M39.7,83.5v2.1M47.0,89.4h2.1M48.0,88.4v2.1M64.0,100.3h2.1M65.0,99.2v2.1M62.1,100.1h2.1M63.1,99.0v2.1M76.5,104.6h2.1M77.6,103.5v2.1M67.2,100.1h2.1M68.2,99.0v2.1M53.7,90.9h2.1M54.7,89.9v2.1M95.8,123.8h2.1M96.8,122.8v2.1M79.8,109.0h2.1M80.8,108.0v2.1M54.8,94.3h2.1M55.8,93.2v2.1M38.5,86.3h2.1M39.5,85.2v2.1M85.2,108.4h2.1M86.2,107.4v2.1M58.1,99.0h2.1M59.1,98.0v2.1M95.5,118.7h2.1M96.5,117.7v2.1M48.2,90.0h2.1M49.3,89.0v2.1M95.5,111.6h2.1M96.6,110.5v2.1M59.5,98.2h2.1M60.5,97.2v2.1M41.0,82.6h2.1M42.0,81.5v2.1M53.5,90.0h2.1M54.5,89.0v2.1M42.0,83.0h2.1M43.0,82.0v2.1M80.2,115.2h2.1M81.3,114.2v2.1M42.5,86.6h2.1M43.5,85.5v2.1M38.2,85.2h2.1M39.3,84.2v2.1M84.7,113.6h2.1M85.7,112.5v2.1M62.0,101.3h2.1M63.0,100.2v2.1M47.1,89.2h2.1M48.1,88.2v2.1M76.2,105.7h2.1M77.3,104.7v2.1M43.1,85.4h2.1M44.1,84.4v2.1M51.7,93.0h2.1M52.7,92.0v2.1M96.0,119.7h2.1M97.0,118.7v2.1M91.8,114.3h2.1M92.8,113.2v2.1M50.1,87.2h2.1M51.1,86.2v2.1M74.2,108.9h2.1M75.2,107.9v2.1M40.6,87.2h2.1M41.6,86.2v2.1"/>
<circle cx="91.85" cy="113.05" r="4.6" fill="#0000ff" stroke="#222" stroke-width="1"/>
<rect x="0" y="0" width="152.90" height="152.80" fill="none" stroke="#4a4a4a" stroke-width="1"/>
<path d="M0.00,0v-2M0.00,152.80v2M0,0.00h-2M152.90,0.00h2M38.22,0v-2M38.22,152.80v2M0,38.20h-2M152.90,38.20h2M76.45,0v-2M76.45,152.80v2M0,76.40h-2M152.90,76.40h2M114.67,0v-2M114.67,152.80v2M0,114.60h-2M152.90,114.60h2M152.90,0v-2M152.90,152.80v2M0,152.80h-2M152.90,152.80h2" stroke="#8a8a8a" stroke-width="0.6" fill="none"/>
<text x="16.60" y="-6.80" font-size="9.3" font-weight="bold" text-anchor="middle">NW</text>
<text x="137.40" y="-6.80" font-size="9.3" font-weight="bold" text-anchor="middle">SE</text>
<text x="3.70" y="12.40" font-size="13.45">2022-06- 2</text><path transform="matrix(0.00657,0,0,-0.00657,57.539,12.400)" d="M515,0L515,1237L197,1010L197,1180L530,1409L696,1409L696,0Z"/>
<text x="138.41" y="12.60" font-size="13.3">L2</text>
<text x="110.64" y="24.10" font-size="13.3">bottom</text>
</g>
<g transform="translate(527.10,395.50)">
<polygon points="13.21,72.30 31.73,83.50 35.30,77.60 16.79,66.40" fill="#ffa500"/><polygon points="31.73,83.50 77.59,111.24 81.16,105.34 35.30,77.60" fill="#ffff00"/><polygon points="77.59,111.24 97.36,123.20 100.94,117.30 81.16,105.34" fill="#00ff00"/>
<path fill="none" stroke="#b6b6b6" stroke-width="0.7" d="M63.7,82.3h2.1M64.7,81.2v2.1M65.4,84.1h2.1M66.4,83.0v2.1M67.2,83.2h2.1M68.2,82.2v2.1M65.0,85.8h2.1M66.0,84.8v2.1M66.2,87.6h2.1M67.3,86.5v2.1M63.2,90.2h2.1M64.2,89.2v2.1M70.7,90.2h2.1M71.7,89.2v2.1M71.5,86.2h2.1M72.5,85.2v2.1M75.0,84.1h2.1M76.0,83.0v2.1M79.4,89.3h2.1M80.4,88.2v2.1M80.7,91.1h2.1M81.7,90.0v2.1M82.9,91.9h2.1M83.9,90.9v2.1M83.8,95.0h2.1M84.8,94.0v2.1M79.9,94.1h2.1M80.9,93.0v2.1M81.2,95.4h2.1M82.2,94.4v2.1M84.7,86.7h2.1M85.7,85.7v2.1M82.9,82.7h2.1M83.9,81.7v2.1M87.7,88.4h2.1M88.7,87.4v2.1M90.4,84.9h2.1M91.4,83.9v2.1M90.8,90.6h2.1M91.8,89.5v2.1M94.7,91.5h2.1M95.7,90.5v2.1M100.4,94.1h2.1M101.4,93.0v2.1M100.0,86.7h2.1M101.0,85.7v2.1M103.9,88.9h2.1M104.9,87.9v2.1M106.5,88.0h2.1M107.6,87.0v2.1M105.2,92.4h2.1M106.3,91.4v2.1M107.4,95.0h2.1M108.4,94.0v2.1M111.8,93.7h2.1M112.8,92.7v2.1M120.0,89.7h2.1M121.1,88.7v2.1M97.4,79.7h2.1M98.4,78.7v2.1M105.7,79.2h2.1M106.7,78.2v2.1M68.9,99.8h2.1M69.9,98.8v2.1M72.4,105.1h2.1M73.4,104.0v2.1M74.2,104.2h2.1M75.2,103.2v2.1M75.9,102.4h2.1M76.9,101.4v2.1M77.7,101.6h2.1M78.7,100.5v2.1M75.0,106.8h2.1M76.0,105.8v2.1M76.8,108.6h2.1M77.8,107.5v2.1M79.4,107.7h2.1M80.4,106.7v2.1M81.2,109.5h2.1M82.2,108.5v2.1M82.9,108.6h2.1M83.9,107.5v2.1M86.4,110.3h2.1M87.4,109.2v2.1M88.2,112.1h2.1M89.2,111.0v2.1M89.9,113.0h2.1M90.9,112.0v2.1M91.7,113.8h2.1M92.7,112.8v2.1M93.4,114.7h2.1M94.4,113.7v2.1M95.2,115.6h2.1M96.2,114.5v2.1M82.0,112.1h2.1M83.0,111.0v2.1M83.8,113.4h2.1M84.8,112.4v2.1M87.2,113.8h2.1M88.3,112.8v2.1M89.0,115.6h2.1M90.1,114.5v2.1M90.8,116.5h2.1M91.8,115.5v2.1M92.5,117.3h2.1M93.6,116.2v2.1M67.2,105.1h2.1M68.2,104.0v2.1M68.9,107.7h2.1M69.9,106.7v2.1M70.7,110.3h2.1M71.7,109.2v2.1M71.5,113.0h2.1M72.5,112.0v2.1M73.2,111.2h2.1M74.3,110.2v2.1M75.0,97.6h2.1M76.0,96.5v2.1M78.0,97.2h2.1M79.1,96.2v2.1M83.8,100.7h2.1M84.8,99.7v2.1M86.4,96.3h2.1M87.4,95.2v2.1M88.2,95.4h2.1M89.2,94.4v2.1M89.9,97.6h2.1M90.9,96.5v2.1M92.5,100.7h2.1M93.6,99.7v2.1M94.2,101.6h2.1M95.3,100.5v2.1M96.0,98.9h2.1M97.1,97.9v2.1M97.8,102.4h2.1M98.8,101.4v2.1M98.7,104.2h2.1M99.7,103.2v2.1M100.4,105.1h2.1M101.4,104.0v2.1M95.2,107.7h2.1M96.2,106.7v2.1M90.8,106.0h2.1M91.8,105.0v2.1M88.2,104.2h2.1M89.2,103.2v2.1M87.2,101.6h2.1M88.3,100.5v2.1M103.0,105.1h2.1M104.1,104.0v2.1M103.9,109.5h2.1M104.9,108.5v2.1M106.5,103.3h2.1M107.6,102.2v2.1M104.8,99.8h2.1M105.8,98.8v2.1M108.2,101.6h2.1M109.3,100.5v2.1M109.2,99.8h2.1M110.2,98.8v2.1M111.0,102.4h2.1M112.0,101.4v2.1M112.7,100.7h2.1M113.7,99.7v2.1M114.5,99.8h2.1M115.5,98.8v2.1M115.2,103.3h2.1M116.3,102.2v2.1M116.2,105.1h2.1M117.2,104.0v2.1M113.5,105.1h2.1M114.6,104.0v2.1M117.0,106.8h2.1M118.1,105.8v2.1M118.0,109.5h2.1M119.0,108.5v2.1M111.0,107.7h2.1M112.0,106.7v2.1M109.5,110.3h2.1M110.6,109.2v2.1M107.4,111.2h2.1M108.4,110.2v2.1M105.7,113.0h2.1M106.7,112.0v2.1M103.0,113.8h2.1M104.1,112.8v2.1M101.8,116.5h2.1M102.8,115.5v2.1M99.5,114.7h2.1M100.6,113.7v2.1M97.8,111.2h2.1M98.8,110.2v2.1M113.5,113.0h2.1M114.6,112.0v2.1M114.5,114.7h2.1M115.5,113.7v2.1M116.2,113.8h2.1M117.2,112.8v2.1M117.0,117.3h2.1M118.1,116.2v2.1M115.2,119.1h2.1M116.3,118.0v2.1M112.7,117.3h2.1M113.7,116.2v2.1M111.0,115.6h2.1M112.0,114.5v2.1M110.0,118.2h2.1M111.1,117.2v2.1M111.8,120.0h2.1M112.8,119.0v2.1M109.2,120.8h2.1M110.2,119.8v2.1M107.4,117.3h2.1M108.4,116.2v2.1M104.8,120.0h2.1M105.8,119.0v2.1M118.8,120.0h2.1M119.8,119.0v2.1M121.5,109.5h2.1M122.5,108.5v2.1M114.5,122.6h2.1M115.5,121.5v2.1M111.0,122.6h2.1M112.0,121.5v2.1M104.8,124.8h2.1M105.8,123.8v2.1M96.9,123.5h2.1M97.9,122.5v2.1M89.9,121.3h2.1M90.9,120.2v2.1M81.2,119.1h2.1M82.2,118.0v2.1M72.4,125.2h2.1M73.4,124.2v2.1M77.2,125.7h2.1M78.2,124.7v2.1M63.7,117.3h2.1M64.7,116.2v2.1M112.7,126.1h2.1M113.7,125.0v2.1M40.9,53.6h2.1M41.9,52.6v2.1M55.8,55.4h2.1M56.8,54.4v2.1M31.7,59.7h2.1M32.7,58.7v2.1M26.8,62.4h2.1M27.9,61.4v2.1M45.7,70.3h2.1M46.7,69.2v2.1M49.2,70.7h2.1M50.2,69.7v2.1M51.0,69.8h2.1M52.0,68.8v2.1M53.2,72.0h2.1M54.2,71.0v2.1M54.9,71.6h2.1M55.9,70.5v2.1M50.1,74.6h2.1M51.1,73.5v2.1M45.2,74.6h2.1M46.3,73.5v2.1M41.8,73.3h2.1M42.8,72.2v2.1M49.7,76.8h2.1M50.7,75.8v2.1M50.1,79.0h2.1M51.1,78.0v2.1M54.1,76.0h2.1M55.1,75.0v2.1M57.6,76.8h2.1M58.6,75.8v2.1M58.4,79.5h2.1M59.4,78.5v2.1M61.9,79.5h2.1M62.9,78.5v2.1M62.8,72.9h2.1M63.8,71.9v2.1M65.4,74.6h2.1M66.4,73.5v2.1M67.2,72.9h2.1M68.2,71.9v2.1M68.0,75.1h2.1M69.1,74.0v2.1M69.8,75.1h2.1M70.8,74.0v2.1M68.9,78.1h2.1M69.9,77.0v2.1M65.4,77.7h2.1M66.4,76.7v2.1M70.7,83.8h2.1M71.7,82.8v2.1M83.0,85.6h2.1M84.0,84.5v2.1M81.2,83.8h2.1M82.2,82.8v2.1M79.5,82.1h2.1M80.5,81.0v2.1M77.7,81.2h2.1M78.7,80.2v2.1M84.7,83.0h2.1M85.7,82.0v2.1M80.8,76.0h2.1M81.8,75.0v2.1M34.8,75.1h2.1M35.8,74.0v2.1M55.8,82.1h2.1M56.8,81.0v2.1M54.9,86.5h2.1M55.9,85.5v2.1M59.2,89.1h2.1M60.3,88.0v2.1M70.7,94.3h2.1M71.7,93.2v2.1M72.4,94.3h2.1M73.4,93.2v2.1M74.2,92.6h2.1M75.2,91.5v2.1M77.7,95.2h2.1M78.7,94.2v2.1M27.8,89.5h2.1M28.8,88.5v2.1M34.8,89.5h2.1M35.8,88.5v2.1M39.2,91.7h2.1M40.2,90.7v2.1M40.9,92.2h2.1M41.9,91.2v2.1M42.7,91.7h2.1M43.7,90.7v2.1M38.2,96.5h2.1M39.3,95.5v2.1M32.6,97.4h2.1M33.6,96.4v2.1M43.5,97.0h2.1M44.5,96.0v2.1M47.0,97.4h2.1M48.0,96.4v2.1M32.2,79.5h2.1M33.2,78.5v2.1M35.7,80.3h2.1M36.7,79.2v2.1M38.2,83.0h2.1M39.3,82.0v2.1M40.9,83.8h2.1M41.9,82.8v2.1M42.7,81.6h2.1M43.7,80.5v2.1M43.5,86.5h2.1M44.5,85.5v2.1M47.0,88.2h2.1M48.0,87.2v2.1M48.8,89.1h2.1M49.8,88.0v2.1M50.5,90.0h2.1M51.5,89.0v2.1M52.2,91.7h2.1M53.3,90.7v2.1M44.4,90.0h2.1M45.4,89.0v2.1M47.9,91.7h2.1M48.9,90.7v2.1M50.5,93.5h2.1M51.5,92.5v2.1M53.2,93.9h2.1M54.2,92.9v2.1M55.8,92.6h2.1M56.8,91.5v2.1M15.4,50.6h2.1M16.5,49.6v2.1M17.8,55.6h2.1M18.9,54.6v2.1M25.1,57.6h2.1M26.1,56.6v2.1M19.8,65.7h2.1M20.9,64.7v2.1M22.8,64.6h2.1M23.8,63.5v2.1M23.9,66.7h2.1M25.0,65.7v2.1M9.5,66.1h2.1M10.6,65.0v2.1M55.8,47.6h2.1M56.8,46.6v2.1M71.7,45.7h2.1M72.7,44.7v2.1M17.6,71.4h2.1M18.6,70.4v2.1M20.4,70.2h2.1M21.5,69.2v2.1M23.3,72.5h2.1M24.4,71.5v2.1M26.2,76.0h2.1M27.3,75.0v2.1M17.8,78.4h2.1M18.8,77.4v2.1M13.4,84.2h2.1M14.5,83.2v2.1M66.5,80.1h2.1M67.6,79.0v2.1M76.0,82.4h2.1M77.0,81.4v2.1M122.0,33.4h2.1M123.1,32.4v2.1M136.6,34.0h2.1M137.7,33.0v2.1M95.2,47.2h2.1M96.3,46.2v2.1M86.8,53.5h2.1M87.8,52.5v2.1M102.0,53.3h2.1M103.0,52.2v2.1M106.4,52.7h2.1M107.4,51.7v2.1M99.5,57.3h2.1M100.6,56.2v2.1M105.8,56.4h2.1M106.8,55.4v2.1M117.2,57.9h2.1M118.2,56.9v2.1M110.4,66.7h2.1M111.4,65.7v2.1M116.2,66.1h2.1M117.3,65.0v2.1M102.0,68.4h2.1M103.0,67.4v2.1M103.4,70.2h2.1M104.4,69.2v2.1M87.7,71.0h2.1M88.7,70.0v2.1M96.7,68.8h2.1M97.7,67.8v2.1M89.4,73.1h2.1M90.4,72.0v2.1M96.4,72.8h2.1M97.4,71.8v2.1M97.5,74.6h2.1M98.6,73.5v2.1M89.4,76.0h2.1M90.4,75.0v2.1M78.9,84.2h2.1M79.9,83.2v2.1M123.2,86.2h2.1M124.3,85.2v2.1M130.8,87.9h2.1M131.9,86.9v2.1M52.0,89.1h2.1M53.0,88.0v2.1M62.0,86.1h2.1M63.0,85.0v2.1M69.0,88.5h2.1M70.0,87.5v2.1M76.0,95.5h2.1M77.0,94.5v2.1M32.2,100.7h2.1M33.2,99.7v2.1M49.1,99.0h2.1M50.1,98.0v2.1M43.9,102.5h2.1M44.9,101.5v2.1M45.0,103.7h2.1M46.0,102.7v2.1M17.6,98.7h2.1M18.6,97.7v2.1M22.2,99.6h2.1M23.3,98.5v2.1M53.2,109.3h2.1M54.2,108.2v2.1M57.9,113.6h2.1M58.9,112.5v2.1M61.4,114.7h2.1M62.4,113.7v2.1M60.2,120.6h2.1M61.2,119.5v2.1M59.6,107.2h2.1M60.6,106.2v2.1M65.5,107.2h2.1M66.5,106.2v2.1M69.0,102.5h2.1M70.0,101.5v2.1M70.0,105.4h2.1M71.1,104.4v2.1M74.2,125.6h2.1M75.2,124.5v2.1M71.9,127.9h2.1M72.9,126.9v2.1M74.2,129.3h2.1M75.2,128.2v2.1M69.0,104.2h2.1M70.0,103.2v2.1M81.2,88.5h2.1M82.2,87.5v2.1M115.7,101.3h2.1M116.7,100.2v2.1M96.4,109.5h2.1M97.4,108.5v2.1M102.2,111.8h2.1M103.3,110.8v2.1M110.4,111.8h2.1M111.4,110.8v2.1M119.8,118.3h2.1M120.8,117.2v2.1M122.0,113.6h2.1M123.1,112.5v2.1M126.2,121.8h2.1M127.2,120.8v2.1M123.2,122.3h2.1M124.3,121.2v2.1M95.2,135.2h2.1M96.3,134.1v2.1M80.7,139.9h2.1M81.7,138.8v2.1M119.8,134.6h2.1M120.8,133.5v2.1M123.9,131.1h2.1M124.9,130.0v2.1M131.4,125.3h2.1M132.5,124.2v2.1M143.0,114.4h2.1M144.1,113.4v2.1M144.8,118.6h2.1M145.9,117.5v2.1M130.8,103.9h2.1M131.9,102.9v2.1M124.5,104.6h2.1M125.5,103.5v2.1M125.0,108.3h2.1M126.0,107.2v2.1M122.7,99.0h2.1M123.7,98.0v2.1M126.2,92.6h2.1M127.2,91.5v2.1M123.2,89.6h2.1M124.3,88.5v2.1M85.9,102.5h2.1M86.9,101.5v2.1M101.7,99.0h2.1M102.7,98.0v2.1M98.8,97.8h2.1M99.8,96.8v2.1M66.0,95.4h2.1M67.0,94.4v2.1M65.4,98.3h2.1M66.4,97.2v2.1M67.7,100.4h2.1M68.7,99.4v2.1M67.7,101.0h2.1M68.7,100.0v2.1M74.7,106.3h2.1M75.7,105.2v2.1M54.7,92.9h2.1M55.7,91.9v2.1M40.1,86.6h2.1M41.1,85.5v2.1M39.2,81.0h2.1M40.3,80.0v2.1M95.4,122.2h2.1M96.4,121.2v2.1M74.2,105.0h2.1M75.3,104.0v2.1M43.6,90.4h2.1M44.6,89.4v2.1M38.7,84.6h2.1M39.7,83.5v2.1M47.0,89.4h2.1M48.0,88.4v2.1M64.0,100.3h2.1M65.0,99.2v2.1M62.1,100.1h2.1M63.1,99.0v2.1M76.5,104.6h2.1M77.6,103.5v2.1M67.2,100.1h2.1M68.2,99.0v2.1M53.7,90.9h2.1M54.7,89.9v2.1M95.8,123.8h2.1M96.8,122.8v2.1M79.8,109.0h2.1M80.8,108.0v2.1M54.8,94.3h2.1M55.8,93.2v2.1M38.5,86.3h2.1M39.5,85.2v2.1M85.2,108.4h2.1M86.2,107.4v2.1M58.1,99.0h2.1M59.1,98.0v2.1M95.5,118.7h2.1M96.5,117.7v2.1M48.2,90.0h2.1M49.3,89.0v2.1M95.5,111.6h2.1M96.6,110.5v2.1M59.5,98.2h2.1M60.5,97.2v2.1M41.0,82.6h2.1M42.0,81.5v2.1M53.5,90.0h2.1M54.5,89.0v2.1M42.0,83.0h2.1M43.0,82.0v2.1M80.2,115.2h2.1M81.3,114.2v2.1M42.5,86.6h2.1M43.5,85.5v2.1M38.2,85.2h2.1M39.3,84.2v2.1M84.7,113.6h2.1M85.7,112.5v2.1M62.0,101.3h2.1M63.0,100.2v2.1M47.1,89.2h2.1M48.1,88.2v2.1M76.2,105.7h2.1M77.3,104.7v2.1M43.1,85.4h2.1M44.1,84.4v2.1M51.7,93.0h2.1M52.7,92.0v2.1M96.0,119.7h2.1M97.0,118.7v2.1M91.8,114.3h2.1M92.8,113.2v2.1M50.1,87.2h2.1M51.1,86.2v2.1M74.2,108.9h2.1M75.2,107.9v2.1M40.6,87.2h2.1M41.6,86.2v2.1"/>
<circle cx="82.70" cy="108.60" r="4.6" fill="#ffffff" stroke="#222" stroke-width="1"/>
<rect x="0" y="0" width="152.40" height="152.80" fill="none" stroke="#4a4a4a" stroke-width="1"/>
<path d="M0.00,0v-2M0.00,152.80v2M0,0.00h-2M152.40,0.00h2M38.10,0v-2M38.10,152.80v2M0,38.20h-2M152.40,38.20h2M76.20,0v-2M76.20,152.80v2M0,76.40h-2M152.40,76.40h2M114.30,0v-2M114.30,152.80v2M0,114.60h-2M152.40,114.60h2M152.40,0v-2M152.40,152.80v2M0,152.80h-2M152.40,152.80h2" stroke="#8a8a8a" stroke-width="0.6" fill="none"/>
<text x="16.60" y="-6.80" font-size="9.3" font-weight="bold" text-anchor="middle">NW</text>
<text x="136.90" y="-6.80" font-size="9.3" font-weight="bold" text-anchor="middle">SE</text>
<text x="3.70" y="12.40" font-size="13.45">2022-06- 2</text><path transform="matrix(0.00657,0,0,-0.00657,57.539,12.400)" d="M515,0L515,1237L197,1010L197,1180L530,1409L696,1409L696,0Z"/>
<text x="137.91" y="12.60" font-size="13.3">L2</text>
<text x="110.14" y="24.10" font-size="13.3">bottom</text>
</g>
<g transform="translate(31.50,561.20)">
<polygon points="13.21,72.30 31.73,83.50 35.30,77.60 16.79,66.40" fill="#ffa500"/><polygon points="31.73,83.50 77.59,111.24 81.16,105.34 35.30,77.60" fill="#ffff00"/><polygon points="77.59,111.24 97.36,123.20 100.94,117.30 81.16,105.34" fill="#00ff00"/>
<path fill="none" stroke="#b6b6b6" stroke-width="0.7" d="M63.7,82.3h2.1M64.7,81.2v2.1M65.4,84.1h2.1M66.4,83.0v2.1M67.2,83.2h2.1M68.2,82.2v2.1M65.0,85.8h2.1M66.0,84.8v2.1M66.2,87.6h2.1M67.3,86.5v2.1M63.2,90.2h2.1M64.2,89.2v2.1M70.7,90.2h2.1M71.7,89.2v2.1M71.5,86.2h2.1M72.5,85.2v2.1M72.8,81.4h2.1M73.8,80.4v2.1M75.0,84.1h2.1M76.0,83.0v2.1M76.8,88.4h2.1M77.8,87.4v2.1M77.2,90.2h2.1M78.2,89.2v2.1M79.4,89.3h2.1M80.4,88.2v2.1M80.7,91.1h2.1M81.7,90.0v2.1M82.9,91.9h2.1M83.9,90.9v2.1M83.8,95.0h2.1M84.8,94.0v2.1M79.9,94.1h2.1M80.9,93.0v2.1M81.2,95.4h2.1M82.2,94.4v2.1M84.7,86.7h2.1M85.7,85.7v2.1M82.9,82.7h2.1M83.9,81.7v2.1M87.7,88.4h2.1M88.7,87.4v2.1M90.4,84.9h2.1M91.4,83.9v2.1M90.8,90.6h2.1M91.8,89.5v2.1M94.7,91.5h2.1M95.7,90.5v2.1M100.4,94.1h2.1M101.4,93.0v2.1M100.0,86.7h2.1M101.0,85.7v2.1M103.9,88.9h2.1M104.9,87.9v2.1M106.5,88.0h2.1M107.6,87.0v2.1M105.2,92.4h2.1M106.3,91.4v2.1M107.4,95.0h2.1M108.4,94.0v2.1M111.8,93.7h2.1M112.8,92.7v2.1M120.0,89.7h2.1M121.1,88.7v2.1M97.4,79.7h2.1M98.4,78.7v2.1M105.7,79.2h2.1M106.7,78.2v2.1M67.2,98.1h2.1M68.2,97.0v2.1M68.9,99.8h2.1M69.9,98.8v2.1M70.7,102.4h2.1M71.7,101.4v2.1M72.4,105.1h2.1M73.4,104.0v2.1M74.2,104.2h2.1M75.2,103.2v2.1M75.9,102.4h2.1M76.9,101.4v2.1M77.7,101.6h2.1M78.7,100.5v2.1M75.0,106.8h2.1M76.0,105.8v2.1M76.8,108.6h2.1M77.8,107.5v2.1M79.4,107.7h2.1M80.4,106.7v2.1M81.2,109.5h2.1M82.2,108.5v2.1M82.9,108.6h2.1M83.9,107.5v2.1M84.7,111.2h2.1M85.7,110.2v2.1M86.4,110.3h2.1M87.4,109.2v2.1M88.2,112.1h2.1M89.2,111.0v2.1M89.9,113.0h2.1M90.9,112.0v2.1M91.7,113.8h2.1M92.7,112.8v2.1M93.4,114.7h2.1M94.4,113.7v2.1M95.2,115.6h2.1M96.2,114.5v2.1M96.9,116.5h2.1M97.9,115.5v2.1M82.0,112.1h2.1M83.0,111.0v2.1M83.8,113.4h2.1M84.8,112.4v2.1M87.2,113.8h2.1M88.3,112.8v2.1M89.0,115.6h2.1M90.1,114.5v2.1M90.8,116.5h2.1M91.8,115.5v2.1M92.5,117.3h2.1M93.6,116.2v2.1M67.2,105.1h2.1M68.2,104.0v2.1M68.9,107.7h2.1M69.9,106.7v2.1M70.7,110.3h2.1M71.7,109.2v2.1M68.0,112.1h2.1M69.0,111.0v2.1M71.5,113.0h2.1M72.5,112.0v2.1M73.2,111.2h2.1M74.3,110.2v2.1M75.0,97.6h2.1M76.0,96.5v2.1M78.0,97.2h2.1M79.1,96.2v2.1M83.8,100.7h2.1M84.8,99.7v2.1M86.4,96.3h2.1M87.4,95.2v2.1M89.9,97.6h2.1M90.9,96.5v2.1M92.5,100.7h2.1M93.6,99.7v2.1M94.2,101.6h2.1M95.3,100.5v2.1M96.0,98.9h2.1M97.1,97.9v2.1M97.8,102.4h2.1M98.8,101.4v2.1M98.7,104.2h2.1M99.7,103.2v2.1M100.4,105.1h2.1M101.4,104.0v2.1M96.9,106.0h2.1M97.9,105.0v2.1M95.2,107.7h2.1M96.2,106.7v2.1M93.4,107.7h2.1M94.4,106.7v2.1M88.2,104.2h2.1M89.2,103.2v2.1M87.2,101.6h2.1M88.3,100.5v2.1M101.2,108.6h2.1M102.3,107.5v2.1M103.0,105.1h2.1M104.1,104.0v2.1M103.9,109.5h2.1M104.9,108.5v2.1M105.7,107.7h2.1M106.7,106.7v2.1M106.5,103.3h2.1M107.6,102.2v2.1M104.8,99.8h2.1M105.8,98.8v2.1M108.2,101.6h2.1M109.3,100.5v2.1M109.2,99.8h2.1M110.2,98.8v2.1M111.0,102.4h2.1M112.0,101.4v2.1M112.7,100.7h2.1M113.7,99.7v2.1M114.5,99.8h2.1M115.5,98.8v2.1M115.2,103.3h2.1M116.3,102.2v2.1M116.2,105.1h2.1M117.2,104.0v2.1M113.5,105.1h2.1M114.6,104.0v2.1M117.0,106.8h2.1M118.1,105.8v2.1M118.0,109.5h2.1M119.0,108.5v2.1M111.0,107.7h2.1M112.0,106.7v2.1M107.4,111.2h2.1M108.4,110.2v2.1M105.7,113.0h2.1M106.7,112.0v2.1M103.0,113.8h2.1M104.1,112.8v2.1M101.8,116.5h2.1M102.8,115.5v2.1M100.4,119.1h2.1M101.4,118.0v2.1M99.5,114.7h2.1M100.6,113.7v2.1M97.8,111.2h2.1M98.8,110.2v2.1M113.5,113.0h2.1M114.6,112.0v2.1M114.5,114.7h2.1M115.5,113.7v2.1M116.2,113.8h2.1M117.2,112.8v2.1M117.0,117.3h2.1M118.1,116.2v2.1M115.2,119.1h2.1M116.3,118.0v2.1M112.7,117.3h2.1M113.7,116.2v2.1M111.0,115.6h2.1M112.0,114.5v2.1M110.0,118.2h2.1M111.1,117.2v2.1M111.8,120.0h2.1M112.8,119.0v2.1M109.2,120.8h2.1M110.2,119.8v2.1M107.4,117.3h2.1M108.4,116.2v2.1M105.7,116.5h2.1M106.7,115.5v2.1M104.8,120.0h2.1M105.8,119.0v2.1M118.8,120.0h2.1M119.8,119.0v2.1M119.7,113.8h2.1M120.7,112.8v2.1M121.5,109.5h2.1M122.5,108.5v2.1M114.5,122.6h2.1M115.5,121.5v2.1M117.0,123.5h2.1M118.1,122.5v2.1M111.0,122.6h2.1M112.0,121.5v2.1M104.8,124.8h2.1M105.8,123.8v2.1M96.9,123.5h2.1M97.9,122.5v2.1M89.9,121.3h2.1M90.9,120.2v2.1M72.4,125.2h2.1M73.4,124.2v2.1M77.2,125.7h2.1M78.2,124.7v2.1M63.7,117.3h2.1M64.7,116.2v2.1M112.7,126.1h2.1M113.7,125.0v2.1M55.8,55.4h2.1M56.8,54.4v2.1M31.7,59.7h2.1M32.7,58.7v2.1M26.8,62.4h2.1M27.9,61.4v2.1M45.7,70.3h2.1M46.7,69.2v2.1M49.2,70.7h2.1M50.2,69.7v2.1M51.0,69.8h2.1M52.0,68.8v2.1M53.2,72.0h2.1M54.2,71.0v2.1M54.9,71.6h2.1M55.9,70.5v2.1M57.6,71.1h2.1M58.6,70.0v2.1M50.1,74.6h2.1M51.1,73.5v2.1M45.2,74.6h2.1M46.3,73.5v2.1M41.8,73.3h2.1M42.8,72.2v2.1M49.7,76.8h2.1M50.7,75.8v2.1M50.1,79.0h2.1M51.1,78.0v2.1M54.1,76.0h2.1M55.1,75.0v2.1M55.8,78.6h2.1M56.8,77.5v2.1M57.6,76.8h2.1M58.6,75.8v2.1M58.4,79.5h2.1M59.4,78.5v2.1M60.2,79.9h2.1M61.2,78.9v2.1M61.9,79.5h2.1M62.9,78.5v2.1M62.8,72.9h2.1M63.8,71.9v2.1M65.4,74.6h2.1M66.4,73.5v2.1M67.2,72.9h2.1M68.2,71.9v2.1M68.0,75.1h2.1M69.1,74.0v2.1M69.8,75.1h2.1M70.8,74.0v2.1M68.9,78.1h2.1M69.9,77.0v2.1M65.4,77.7h2.1M66.4,76.7v2.1M70.7,83.8h2.1M71.7,82.8v2.1M83.0,85.6h2.1M84.0,84.5v2.1M81.2,83.8h2.1M82.2,82.8v2.1M79.5,82.1h2.1M80.5,81.0v2.1M77.7,81.2h2.1M78.7,80.2v2.1M84.7,83.0h2.1M85.7,82.0v2.1M70.7,68.5h2.1M71.7,67.5v2.1M80.8,74.2h2.1M81.8,73.2v2.1M80.8,76.0h2.1M81.8,75.0v2.1M34.8,75.1h2.1M35.8,74.0v2.1M55.8,82.1h2.1M56.8,81.0v2.1M54.9,86.5h2.1M55.9,85.5v2.1M59.2,89.1h2.1M60.3,88.0v2.1M65.4,93.5h2.1M66.4,92.5v2.1M70.7,94.3h2.1M71.7,93.2v2.1M72.4,94.3h2.1M73.4,93.2v2.1M74.2,92.6h2.1M75.2,91.5v2.1M77.7,95.2h2.1M78.7,94.2v2.1M29.9,85.2h2.1M31.0,84.2v2.1M27.8,89.5h2.1M28.8,88.5v2.1M34.8,89.5h2.1M35.8,88.5v2.1M39.2,91.7h2.1M40.2,90.7v2.1M40.9,92.2h2.1M41.9,91.2v2.1M42.7,91.7h2.1M43.7,90.7v2.1M38.2,96.5h2.1M39.3,95.5v2.1M32.6,97.4h2.1M33.6,96.4v2.1M43.5,97.0h2.1M44.5,96.0v2.1M47.0,97.4h2.1M48.0,96.4v2.1M32.2,79.5h2.1M33.2,78.5v2.1M33.9,81.2h2.1M34.9,80.2v2.1M35.7,80.3h2.1M36.7,79.2v2.1M38.2,83.0h2.1M39.3,82.0v2.1M40.9,83.8h2.1M41.9,82.8v2.1M42.7,81.6h2.1M43.7,80.5v2.1M45.2,87.3h2.1M46.3,86.2v2.1M47.0,88.2h2.1M48.0,87.2v2.1M48.8,89.1h2.1M49.8,88.0v2.1M50.5,90.0h2.1M51.5,89.0v2.1M52.2,91.7h2.1M53.3,90.7v2.1M44.4,90.0h2.1M45.4,89.0v2.1M47.9,91.7h2.1M48.9,90.7v2.1M50.5,93.5h2.1M51.5,92.5v2.1M53.2,93.9h2.1M54.2,92.9v2.1M55.8,92.6h2.1M56.8,91.5v2.1M17.8,55.6h2.1M18.9,54.6v2.1M25.1,57.6h2.1M26.1,56.6v2.1M16.1,63.2h2.1M17.1,62.2v2.1M19.8,65.7h2.1M20.9,64.7v2.1M22.8,64.6h2.1M23.8,63.5v2.1M23.9,66.7h2.1M25.0,65.7v2.1M9.5,66.1h2.1M10.6,65.0v2.1M55.8,47.6h2.1M56.8,46.6v2.1M20.4,70.2h2.1M21.5,69.2v2.1M23.3,72.5h2.1M24.4,71.5v2.1M26.2,76.0h2.1M27.3,75.0v2.1M17.8,78.4h2.1M18.8,77.4v2.1M13.4,84.2h2.1M14.5,83.2v2.1M62.5,75.4h2.1M63.5,74.4v2.1M66.5,80.1h2.1M67.6,79.0v2.1M76.0,82.4h2.1M77.0,81.4v2.1M122.0,33.4h2.1M123.1,32.4v2.1M136.6,34.0h2.1M137.7,33.0v2.1M125.9,39.6h2.1M126.9,38.6v2.1M122.7,46.8h2.1M123.7,45.8v2.1M102.0,53.3h2.1M103.0,52.2v2.1M94.7,56.2h2.1M95.7,55.2v2.1M117.2,57.9h2.1M118.2,56.9v2.1M131.4,52.9h2.1M132.5,51.9v2.1M98.2,63.2h2.1M99.2,62.2v2.1M106.4,62.6h2.1M107.4,61.6v2.1M102.8,65.2h2.1M103.8,64.2v2.1M116.2,66.1h2.1M117.3,65.0v2.1M119.2,69.6h2.1M120.2,68.5v2.1M106.9,69.6h2.1M107.9,68.5v2.1M96.7,68.8h2.1M97.7,67.8v2.1M89.4,73.1h2.1M90.4,72.0v2.1M96.4,72.8h2.1M97.4,71.8v2.1M97.5,74.6h2.1M98.6,73.5v2.1M89.4,76.0h2.1M90.4,75.0v2.1M78.9,84.2h2.1M79.9,83.2v2.1M73.7,86.0h2.1M74.7,85.0v2.1M123.2,86.2h2.1M124.3,85.2v2.1M130.8,87.9h2.1M131.9,86.9v2.1M40.9,88.5h2.1M41.9,87.5v2.1M52.0,89.1h2.1M53.0,88.0v2.1M62.0,86.1h2.1M63.0,85.0v2.1M69.0,88.5h2.1M70.0,87.5v2.1M73.5,89.1h2.1M74.6,88.0v2.1M76.0,95.5h2.1M77.0,94.5v2.1M32.2,100.7h2.1M33.2,99.7v2.1M49.1,99.0h2.1M50.1,98.0v2.1M43.9,102.5h2.1M44.9,101.5v2.1M45.0,103.7h2.1M46.0,102.7v2.1M17.6,98.7h2.1M18.6,97.7v2.1M22.2,99.6h2.1M23.3,98.5v2.1M48.5,107.7h2.1M49.5,106.7v2.1M53.2,109.3h2.1M54.2,108.2v2.1M57.9,113.6h2.1M58.9,112.5v2.1M61.4,114.7h2.1M62.4,113.7v2.1M60.2,120.6h2.1M61.2,119.5v2.1M59.6,107.2h2.1M60.6,106.2v2.1M65.5,107.2h2.1M66.5,106.2v2.1M69.0,102.5h2.1M70.0,101.5v2.1M70.0,105.4h2.1M71.1,104.4v2.1M74.2,125.6h2.1M75.2,124.5v2.1M71.9,127.9h2.1M72.9,126.9v2.1M74.2,129.3h2.1M75.2,128.2v2.1M50.9,130.3h2.1M51.9,129.2v2.1M69.0,104.2h2.1M70.0,103.2v2.1M81.2,88.5h2.1M82.2,87.5v2.1M115.7,101.3h2.1M116.7,100.2v2.1M96.4,109.5h2.1M97.4,108.5v2.1M102.2,111.8h2.1M103.3,110.8v2.1M110.4,111.8h2.1M111.4,110.8v2.1M119.8,118.3h2.1M120.8,117.2v2.1M122.0,113.6h2.1M123.1,112.5v2.1M125.0,117.7h2.1M126.0,116.7v2.1M126.2,121.8h2.1M127.2,120.8v2.1M123.2,122.3h2.1M124.3,121.2v2.1M95.2,135.2h2.1M96.3,134.1v2.1M80.7,139.9h2.1M81.7,138.8v2.1M123.9,131.1h2.1M124.9,130.0v2.1M122.0,127.9h2.1M123.1,126.9v2.1M131.4,125.3h2.1M132.5,124.2v2.1M137.8,135.8h2.1M138.9,134.8v2.1M143.0,114.4h2.1M144.1,113.4v2.1M144.8,118.6h2.1M145.9,117.5v2.1M139.5,103.7h2.1M140.6,102.7v2.1M130.8,103.9h2.1M131.9,102.9v2.1M124.5,104.6h2.1M125.5,103.5v2.1M122.7,93.7h2.1M123.7,92.7v2.1M126.2,92.6h2.1M127.2,91.5v2.1M123.2,89.6h2.1M124.3,88.5v2.1M85.9,102.5h2.1M86.9,101.5v2.1M101.7,99.0h2.1M102.7,98.0v2.1M98.8,97.8h2.1M99.8,96.8v2.1M66.0,95.4h2.1M67.0,94.4v2.1M65.4,98.3h2.1M66.4,97.2v2.1M67.7,100.4h2.1M68.7,99.4v2.1M67.7,101.0h2.1M68.7,100.0v2.1M74.7,106.3h2.1M75.7,105.2v2.1M54.7,92.9h2.1M55.7,91.9v2.1M40.1,86.6h2.1M41.1,85.5v2.1M39.2,81.0h2.1M40.3,80.0v2.1M95.4,122.2h2.1M96.4,121.2v2.1M74.2,105.0h2.1M75.3,104.0v2.1M43.6,90.4h2.1M44.6,89.4v2.1M38.7,84.6h2.1M39.7,83.5v2.1M47.0,89.4h2.1M48.0,88.4v2.1M64.0,100.3h2.1M65.0,99.2v2.1M62.1,100.1h2.1M63.1,99.0v2.1M76.5,104.6h2.1M77.6,103.5v2.1M67.2,100.1h2.1M68.2,99.0v2.1M53.7,90.9h2.1M54.7,89.9v2.1M95.8,123.8h2.1M96.8,122.8v2.1M79.8,109.0h2.1M80.8,108.0v2.1M54.8,94.3h2.1M55.8,93.2v2.1M38.5,86.3h2.1M39.5,85.2v2.1M85.2,108.4h2.1M86.2,107.4v2.1M58.1,99.0h2.1M59.1,98.0v2.1M95.5,118.7h2.1M96.5,117.7v2.1M48.2,90.0h2.1M49.3,89.0v2.1M95.5,111.6h2.1M96.6,110.5v2.1M59.5,98.2h2.1M60.5,97.2v2.1M41.0,82.6h2.1M42.0,81.5v2.1M53.5,90.0h2.1M54.5,89.0v2.1M42.0,83.0h2.1M43.0,82.0v2.1M80.2,115.2h2.1M81.3,114.2v2.1M42.5,86.6h2.1M43.5,85.5v2.1M38.2,85.2h2.1M39.3,84.2v2.1M84.7,113.6h2.1M85.7,112.5v2.1M62.0,101.3h2.1M63.0,100.2v2.1M47.1,89.2h2.1M48.1,88.2v2.1M76.2,105.7h2.1M77.3,104.7v2.1M43.1,85.4h2.1M44.1,84.4v2.1M51.7,93.0h2.1M52.7,92.0v2.1M96.0,119.7h2.1M97.0,118.7v2.1M91.8,114.3h2.1M92.8,113.2v2.1M50.1,87.2h2.1M51.1,86.2v2.1M74.2,108.9h2.1M75.2,107.9v2.1M40.6,87.2h2.1M41.6,86.2v2.1M51.4,91.8h2.1M52.4,90.8v2.1M84.2,110.8h2.1M85.3,109.8v2.1M38.8,86.3h2.1M39.8,85.2v2.1M41.5,84.3h2.1M42.5,83.2v2.1M73.4,104.3h2.1M74.4,103.2v2.1M61.2,91.7h2.1M62.3,90.7v2.1M64.7,101.9h2.1M65.7,100.9v2.1M70.8,104.8h2.1M71.8,103.8v2.1M45.2,87.1h2.1M46.3,86.0v2.1M92.0,117.3h2.1M93.0,116.2v2.1"/>
<polygon points="16.05,65.10 10.65,74.20 21.45,74.20" fill="#c8c8fa" stroke="#222" stroke-width="1"/>
<rect x="0" y="0" width="152.15" height="152.20" fill="none" stroke="#4a4a4a" stroke-width="1"/>
<path d="M0.00,0v-2M0.00,152.20v2M0,0.00h-2M152.15,0.00h2M38.04,0v-2M38.04,152.20v2M0,38.05h-2M152.15,38.05h2M76.08,0v-2M76.08,152.20v2M0,76.10h-2M152.15,76.10h2M114.11,0v-2M114.11,152.20v2M0,114.15h-2M152.15,114.15h2M152.15,0v-2M152.15,152.20v2M0,152.20h-2M152.15,152.20h2" stroke="#8a8a8a" stroke-width="0.6" fill="none"/>
<text x="3.70" y="12.40" font-size="13.45">2022-08- 4</text><path transform="matrix(0.00657,0,0,-0.00657,57.539,12.400)" d="M515,0L515,1237L197,1010L197,1180L530,1409L696,1409L696,0Z"/>
<text x="137.66" y="12.60" font-size="13.3">L2</text>
<text x="109.89" y="24.10" font-size="13.3">bottom</text>
<text x="-17.99" y="4.80" font-size="13.3"> 0</text><path transform="matrix(0.00649,0,0,-0.00649,-17.994,4.800)" d="M515,0L515,1237L197,1010L197,1180L530,1409L696,1409L696,0Z"/>
<text x="-17.99" y="42.85" font-size="13.3">  </text><path transform="matrix(0.00649,0,0,-0.00649,-17.994,42.850)" d="M515,0L515,1237L197,1010L197,1180L530,1409L696,1409L696,0Z"/><path transform="matrix(0.00649,0,0,-0.00649,-10.597,42.850)" d="M515,0L515,1237L197,1010L197,1180L530,1409L696,1409L696,0Z"/>
<text x="-17.99" y="80.90" font-size="13.3"> 2</text><path transform="matrix(0.00649,0,0,-0.00649,-17.994,80.900)" d="M515,0L515,1237L197,1010L197,1180L530,1409L696,1409L696,0Z"/>
<text x="-17.99" y="118.95" font-size="13.3"> 3</text><path transform="matrix(0.00649,0,0,-0.00649,-17.994,118.950)" d="M515,0L515,1237L197,1010L197,1180L530,1409L696,1409L696,0Z"/>
<text x="-17.99" y="157.00" font-size="13.3"> 4</text><path transform="matrix(0.00649,0,0,-0.00649,-17.994,157.000)" d="M515,0L515,1237L197,1010L197,1180L530,1409L696,1409L696,0Z"/>
<text transform="translate(-21,76.10) rotate(-90)" font-size="13.3" text-anchor="middle">Depth (km)</text>
<text x="-3.70" y="165.50" font-size="13.3">0</text>
<text x="34.34" y="165.50" font-size="13.3"> </text><path transform="matrix(0.00649,0,0,-0.00649,34.339,165.500)" d="M515,0L515,1237L197,1010L197,1180L530,1409L696,1409L696,0Z"/>
<text x="72.38" y="165.50" font-size="13.3">2</text>
<text x="110.41" y="165.50" font-size="13.3">3</text>
<text x="148.45" y="165.50" font-size="13.3">4</text>
<text x="76.28" y="176.50" font-size="13.0" text-anchor="middle">Distance (km)</text>
</g>
<g transform="translate(196.35,561.20)">
<polygon points="13.21,72.30 31.73,83.50 35.30,77.60 16.79,66.40" fill="#ffa500"/><polygon points="31.73,83.50 77.59,111.24 81.16,105.34 35.30,77.60" fill="#ffff00"/><polygon points="77.59,111.24 97.36,123.20 100.94,117.30 81.16,105.34" fill="#00ff00"/>
<path fill="none" stroke="#b6b6b6" stroke-width="0.7" d="M63.7,82.3h2.1M64.7,81.2v2.1M67.2,83.2h2.1M68.2,82.2v2.1M65.0,85.8h2.1M66.0,84.8v2.1M66.2,87.6h2.1M67.3,86.5v2.1M63.2,90.2h2.1M64.2,89.2v2.1M70.7,90.2h2.1M71.7,89.2v2.1M71.5,86.2h2.1M72.5,85.2v2.1M72.8,81.4h2.1M73.8,80.4v2.1M75.0,84.1h2.1M76.0,83.0v2.1M75.9,86.7h2.1M76.9,85.7v2.1M76.8,88.4h2.1M77.8,87.4v2.1M77.2,90.2h2.1M78.2,89.2v2.1M79.4,89.3h2.1M80.4,88.2v2.1M80.7,91.1h2.1M81.7,90.0v2.1M82.9,91.9h2.1M83.9,90.9v2.1M83.8,95.0h2.1M84.8,94.0v2.1M79.9,94.1h2.1M80.9,93.0v2.1M81.2,95.4h2.1M82.2,94.4v2.1M84.7,86.7h2.1M85.7,85.7v2.1M82.9,82.7h2.1M83.9,81.7v2.1M87.7,88.4h2.1M88.7,87.4v2.1M90.4,84.9h2.1M91.4,83.9v2.1M90.8,90.6h2.1M91.8,89.5v2.1M94.7,91.5h2.1M95.7,90.5v2.1M100.4,94.1h2.1M101.4,93.0v2.1M100.0,86.7h2.1M101.0,85.7v2.1M103.9,88.9h2.1M104.9,87.9v2.1M106.5,88.0h2.1M107.6,87.0v2.1M105.2,92.4h2.1M106.3,91.4v2.1M107.4,95.0h2.1M108.4,94.0v2.1M111.8,93.7h2.1M112.8,92.7v2.1M120.0,89.7h2.1M121.1,88.7v2.1M97.4,79.7h2.1M98.4,78.7v2.1M105.7,79.2h2.1M106.7,78.2v2.1M67.2,98.1h2.1M68.2,97.0v2.1M68.9,99.8h2.1M69.9,98.8v2.1M70.7,102.4h2.1M71.7,101.4v2.1M72.4,105.1h2.1M73.4,104.0v2.1M74.2,104.2h2.1M75.2,103.2v2.1M75.9,102.4h2.1M76.9,101.4v2.1M77.7,101.6h2.1M78.7,100.5v2.1M75.0,106.8h2.1M76.0,105.8v2.1M76.8,108.6h2.1M77.8,107.5v2.1M79.4,107.7h2.1M80.4,106.7v2.1M81.2,109.5h2.1M82.2,108.5v2.1M82.9,108.6h2.1M83.9,107.5v2.1M84.7,111.2h2.1M85.7,110.2v2.1M86.4,110.3h2.1M87.4,109.2v2.1M88.2,112.1h2.1M89.2,111.0v2.1M89.9,113.0h2.1M90.9,112.0v2.1M91.7,113.8h2.1M92.7,112.8v2.1M93.4,114.7h2.1M94.4,113.7v2.1M95.2,115.6h2.1M96.2,114.5v2.1M96.9,116.5h2.1M97.9,115.5v2.1M82.0,112.1h2.1M83.0,111.0v2.1M83.8,113.4h2.1M84.8,112.4v2.1M87.2,113.8h2.1M88.3,112.8v2.1M89.0,115.6h2.1M90.1,114.5v2.1M90.8,116.5h2.1M91.8,115.5v2.1M92.5,117.3h2.1M93.6,116.2v2.1M67.2,105.1h2.1M68.2,104.0v2.1M68.9,107.7h2.1M69.9,106.7v2.1M70.7,110.3h2.1M71.7,109.2v2.1M68.0,112.1h2.1M69.0,111.0v2.1M73.2,111.2h2.1M74.3,110.2v2.1M75.0,97.6h2.1M76.0,96.5v2.1M78.0,97.2h2.1M79.1,96.2v2.1M83.8,100.7h2.1M84.8,99.7v2.1M86.4,96.3h2.1M87.4,95.2v2.1M89.9,97.6h2.1M90.9,96.5v2.1M92.5,100.7h2.1M93.6,99.7v2.1M94.2,101.6h2.1M95.3,100.5v2.1M96.0,98.9h2.1M97.1,97.9v2.1M97.8,102.4h2.1M98.8,101.4v2.1M98.7,104.2h2.1M99.7,103.2v2.1M100.4,105.1h2.1M101.4,104.0v2.1M96.9,106.0h2.1M97.9,105.0v2.1M95.2,107.7h2.1M96.2,106.7v2.1M93.4,107.7h2.1M94.4,106.7v2.1M90.8,106.0h2.1M91.8,105.0v2.1M88.2,104.2h2.1M89.2,103.2v2.1M87.2,101.6h2.1M88.3,100.5v2.1M101.2,108.6h2.1M102.3,107.5v2.1M103.0,105.1h2.1M104.1,104.0v2.1M103.9,109.5h2.1M104.9,108.5v2.1M105.7,107.7h2.1M106.7,106.7v2.1M106.5,103.3h2.1M107.6,102.2v2.1M104.8,99.8h2.1M105.8,98.8v2.1M108.2,101.6h2.1M109.3,100.5v2.1M109.2,99.8h2.1M110.2,98.8v2.1M111.0,102.4h2.1M112.0,101.4v2.1M112.7,100.7h2.1M113.7,99.7v2.1M114.5,99.8h2.1M115.5,98.8v2.1M115.2,103.3h2.1M116.3,102.2v2.1M116.2,105.1h2.1M117.2,104.0v2.1M113.5,105.1h2.1M114.6,104.0v2.1M117.0,106.8h2.1M118.1,105.8v2.1M118.0,109.5h2.1M119.0,108.5v2.1M111.0,107.7h2.1M112.0,106.7v2.1M109.5,110.3h2.1M110.6,109.2v2.1M107.4,111.2h2.1M108.4,110.2v2.1M105.7,113.0h2.1M106.7,112.0v2.1M103.0,113.8h2.1M104.1,112.8v2.1M101.8,116.5h2.1M102.8,115.5v2.1M100.4,119.1h2.1M101.4,118.0v2.1M99.5,114.7h2.1M100.6,113.7v2.1M97.8,111.2h2.1M98.8,110.2v2.1M113.5,113.0h2.1M114.6,112.0v2.1M114.5,114.7h2.1M115.5,113.7v2.1M116.2,113.8h2.1M117.2,112.8v2.1M117.0,117.3h2.1M118.1,116.2v2.1M115.2,119.1h2.1M116.3,118.0v2.1M112.7,117.3h2.1M113.7,116.2v2.1M110.0,118.2h2.1M111.1,117.2v2.1M111.8,120.0h2.1M112.8,119.0v2.1M109.2,120.8h2.1M110.2,119.8v2.1M107.4,117.3h2.1M108.4,116.2v2.1M105.7,116.5h2.1M106.7,115.5v2.1M104.8,120.0h2.1M105.8,119.0v2.1M119.7,113.8h2.1M120.7,112.8v2.1M121.5,109.5h2.1M122.5,108.5v2.1M114.5,122.6h2.1M115.5,121.5v2.1M117.0,123.5h2.1M118.1,122.5v2.1M111.0,122.6h2.1M112.0,121.5v2.1M104.8,124.8h2.1M105.8,123.8v2.1M96.9,123.5h2.1M97.9,122.5v2.1M89.9,121.3h2.1M90.9,120.2v2.1M81.2,119.1h2.1M82.2,118.0v2.1M72.4,125.2h2.1M73.4,124.2v2.1M77.2,125.7h2.1M78.2,124.7v2.1M112.7,126.1h2.1M113.7,125.0v2.1M40.9,53.6h2.1M41.9,52.6v2.1M55.8,55.4h2.1M56.8,54.4v2.1M31.7,59.7h2.1M32.7,58.7v2.1M26.8,62.4h2.1M27.9,61.4v2.1M45.7,70.3h2.1M46.7,69.2v2.1M49.2,70.7h2.1M50.2,69.7v2.1M51.0,69.8h2.1M52.0,68.8v2.1M53.2,72.0h2.1M54.2,71.0v2.1M54.9,71.6h2.1M55.9,70.5v2.1M57.6,71.1h2.1M58.6,70.0v2.1M50.1,74.6h2.1M51.1,73.5v2.1M45.2,74.6h2.1M46.3,73.5v2.1M41.8,73.3h2.1M42.8,72.2v2.1M49.7,76.8h2.1M50.7,75.8v2.1M50.1,79.0h2.1M51.1,78.0v2.1M55.8,78.6h2.1M56.8,77.5v2.1M57.6,76.8h2.1M58.6,75.8v2.1M58.4,79.5h2.1M59.4,78.5v2.1M60.2,79.9h2.1M61.2,78.9v2.1M61.9,79.5h2.1M62.9,78.5v2.1M65.4,74.6h2.1M66.4,73.5v2.1M67.2,72.9h2.1M68.2,71.9v2.1M68.0,75.1h2.1M69.1,74.0v2.1M69.8,75.1h2.1M70.8,74.0v2.1M68.9,78.1h2.1M69.9,77.0v2.1M65.4,77.7h2.1M66.4,76.7v2.1M70.7,83.8h2.1M71.7,82.8v2.1M83.0,85.6h2.1M84.0,84.5v2.1M81.2,83.8h2.1M82.2,82.8v2.1M79.5,82.1h2.1M80.5,81.0v2.1M77.7,81.2h2.1M78.7,80.2v2.1M84.7,83.0h2.1M85.7,82.0v2.1M80.8,74.2h2.1M81.8,73.2v2.1M80.8,76.0h2.1M81.8,75.0v2.1M34.8,75.1h2.1M35.8,74.0v2.1M55.8,82.1h2.1M56.8,81.0v2.1M54.9,86.5h2.1M55.9,85.5v2.1M59.2,89.1h2.1M60.3,88.0v2.1M65.4,93.5h2.1M66.4,92.5v2.1M70.7,94.3h2.1M71.7,93.2v2.1M72.4,94.3h2.1M73.4,93.2v2.1M74.2,92.6h2.1M75.2,91.5v2.1M77.7,95.2h2.1M78.7,94.2v2.1M29.9,85.2h2.1M31.0,84.2v2.1M27.8,89.5h2.1M28.8,88.5v2.1M34.8,89.5h2.1M35.8,88.5v2.1M39.2,91.7h2.1M40.2,90.7v2.1M40.9,92.2h2.1M41.9,91.2v2.1M42.7,91.7h2.1M43.7,90.7v2.1M38.2,96.5h2.1M39.3,95.5v2.1M32.6,97.4h2.1M33.6,96.4v2.1M43.5,97.0h2.1M44.5,96.0v2.1M47.0,97.4h2.1M48.0,96.4v2.1M32.2,79.5h2.1M33.2,78.5v2.1M35.7,80.3h2.1M36.7,79.2v2.1M38.2,83.0h2.1M39.3,82.0v2.1M40.9,83.8h2.1M41.9,82.8v2.1M42.7,81.6h2.1M43.7,80.5v2.1M43.5,86.5h2.1M44.5,85.5v2.1M45.2,87.3h2.1M46.3,86.2v2.1M47.0,88.2h2.1M48.0,87.2v2.1M48.8,89.1h2.1M49.8,88.0v2.1M50.5,90.0h2.1M51.5,89.0v2.1M52.2,91.7h2.1M53.3,90.7v2.1M44.4,90.0h2.1M45.4,89.0v2.1M47.9,91.7h2.1M48.9,90.7v2.1M53.2,93.9h2.1M54.2,92.9v2.1M55.8,92.6h2.1M56.8,91.5v2.1M15.4,50.6h2.1M16.5,49.6v2.1M17.8,55.6h2.1M18.9,54.6v2.1M25.1,57.6h2.1M26.1,56.6v2.1M16.1,63.2h2.1M17.1,62.2v2.1M19.8,65.7h2.1M20.9,64.7v2.1M22.8,64.6h2.1M23.8,63.5v2.1M23.9,66.7h2.1M25.0,65.7v2.1M9.5,66.1h2.1M10.6,65.0v2.1M55.8,47.6h2.1M56.8,46.6v2.1M17.6,71.4h2.1M18.6,70.4v2.1M20.4,70.2h2.1M21.5,69.2v2.1M23.3,72.5h2.1M24.4,71.5v2.1M26.2,76.0h2.1M27.3,75.0v2.1M17.8,78.4h2.1M18.8,77.4v2.1M13.4,84.2h2.1M14.5,83.2v2.1M62.5,75.4h2.1M63.5,74.4v2.1M66.5,80.1h2.1M67.6,79.0v2.1M76.0,82.4h2.1M77.0,81.4v2.1M128.0,42.2h2.1M129.0,41.2v2.1M86.8,53.5h2.1M87.8,52.5v2.1M102.0,50.6h2.1M103.0,49.6v2.1M106.4,52.7h2.1M107.4,51.7v2.1M94.7,56.2h2.1M95.7,55.2v2.1M98.2,63.2h2.1M99.2,62.2v2.1M106.4,62.6h2.1M107.4,61.6v2.1M108.7,63.2h2.1M109.7,62.2v2.1M102.8,65.2h2.1M103.8,64.2v2.1M109.2,68.4h2.1M110.3,67.4v2.1M119.2,69.6h2.1M120.2,68.5v2.1M103.4,70.2h2.1M104.4,69.2v2.1M106.9,69.6h2.1M107.9,68.5v2.1M89.4,73.1h2.1M90.4,72.0v2.1M96.4,72.8h2.1M97.4,71.8v2.1M89.4,76.0h2.1M90.4,75.0v2.1M78.9,84.2h2.1M79.9,83.2v2.1M73.7,86.0h2.1M74.7,85.0v2.1M123.2,86.2h2.1M124.3,85.2v2.1M130.8,87.9h2.1M131.9,86.9v2.1M40.9,88.5h2.1M41.9,87.5v2.1M52.0,89.1h2.1M53.0,88.0v2.1M62.0,86.1h2.1M63.0,85.0v2.1M69.0,88.5h2.1M70.0,87.5v2.1M73.5,89.1h2.1M74.6,88.0v2.1M76.0,95.5h2.1M77.0,94.5v2.1M32.2,100.7h2.1M33.2,99.7v2.1M49.1,99.0h2.1M50.1,98.0v2.1M43.9,102.5h2.1M44.9,101.5v2.1M45.0,103.7h2.1M46.0,102.7v2.1M17.6,98.7h2.1M18.6,97.7v2.1M48.5,107.7h2.1M49.5,106.7v2.1M53.2,109.3h2.1M54.2,108.2v2.1M57.9,113.6h2.1M58.9,112.5v2.1M60.2,120.6h2.1M61.2,119.5v2.1M59.6,107.2h2.1M60.6,106.2v2.1M65.5,107.2h2.1M66.5,106.2v2.1M69.0,102.5h2.1M70.0,101.5v2.1M70.0,105.4h2.1M71.1,104.4v2.1M71.9,127.9h2.1M72.9,126.9v2.1M74.2,129.3h2.1M75.2,128.2v2.1M50.9,130.3h2.1M51.9,129.2v2.1M69.0,104.2h2.1M70.0,103.2v2.1M81.2,88.5h2.1M82.2,87.5v2.1M115.7,101.3h2.1M116.7,100.2v2.1M102.2,111.8h2.1M103.3,110.8v2.1M110.4,111.8h2.1M111.4,110.8v2.1M119.8,118.3h2.1M120.8,117.2v2.1M122.0,113.6h2.1M123.1,112.5v2.1M125.0,117.7h2.1M126.0,116.7v2.1M126.2,121.8h2.1M127.2,120.8v2.1M123.2,122.3h2.1M124.3,121.2v2.1M95.2,135.2h2.1M96.3,134.1v2.1M80.7,139.9h2.1M81.7,138.8v2.1M119.8,134.6h2.1M120.8,133.5v2.1M123.9,131.1h2.1M124.9,130.0v2.1M131.4,125.3h2.1M132.5,124.2v2.1M137.8,135.8h2.1M138.9,134.8v2.1M143.0,114.4h2.1M144.1,113.4v2.1M144.8,118.6h2.1M145.9,117.5v2.1M139.5,103.7h2.1M140.6,102.7v2.1M130.8,103.9h2.1M131.9,102.9v2.1M124.5,104.6h2.1M125.5,103.5v2.1M125.0,108.3h2.1M126.0,107.2v2.1M122.7,99.0h2.1M123.7,98.0v2.1M122.7,93.7h2.1M123.7,92.7v2.1M126.2,92.6h2.1M127.2,91.5v2.1M123.2,89.6h2.1M124.3,88.5v2.1M85.9,102.5h2.1M86.9,101.5v2.1M101.7,99.0h2.1M102.7,98.0v2.1M98.8,97.8h2.1M99.8,96.8v2.1M66.0,95.4h2.1M67.0,94.4v2.1M65.4,98.3h2.1M66.4,97.2v2.1M67.7,100.4h2.1M68.7,99.4v2.1M67.7,101.0h2.1M68.7,100.0v2.1M74.7,106.3h2.1M75.7,105.2v2.1M54.7,92.9h2.1M55.7,91.9v2.1M40.1,86.6h2.1M41.1,85.5v2.1M39.2,81.0h2.1M40.3,80.0v2.1M95.4,122.2h2.1M96.4,121.2v2.1M74.2,105.0h2.1M75.3,104.0v2.1M43.6,90.4h2.1M44.6,89.4v2.1M38.7,84.6h2.1M39.7,83.5v2.1M47.0,89.4h2.1M48.0,88.4v2.1M64.0,100.3h2.1M65.0,99.2v2.1M62.1,100.1h2.1M63.1,99.0v2.1M76.5,104.6h2.1M77.6,103.5v2.1M67.2,100.1h2.1M68.2,99.0v2.1M53.7,90.9h2.1M54.7,89.9v2.1M95.8,123.8h2.1M96.8,122.8v2.1M79.8,109.0h2.1M80.8,108.0v2.1M54.8,94.3h2.1M55.8,93.2v2.1M38.5,86.3h2.1M39.5,85.2v2.1M85.2,108.4h2.1M86.2,107.4v2.1M58.1,99.0h2.1M59.1,98.0v2.1M95.5,118.7h2.1M96.5,117.7v2.1M48.2,90.0h2.1M49.3,89.0v2.1M95.5,111.6h2.1M96.6,110.5v2.1M59.5,98.2h2.1M60.5,97.2v2.1M41.0,82.6h2.1M42.0,81.5v2.1M53.5,90.0h2.1M54.5,89.0v2.1M42.0,83.0h2.1M43.0,82.0v2.1M80.2,115.2h2.1M81.3,114.2v2.1M42.5,86.6h2.1M43.5,85.5v2.1M38.2,85.2h2.1M39.3,84.2v2.1M84.7,113.6h2.1M85.7,112.5v2.1M62.0,101.3h2.1M63.0,100.2v2.1M47.1,89.2h2.1M48.1,88.2v2.1M76.2,105.7h2.1M77.3,104.7v2.1M43.1,85.4h2.1M44.1,84.4v2.1M51.7,93.0h2.1M52.7,92.0v2.1M96.0,119.7h2.1M97.0,118.7v2.1M91.8,114.3h2.1M92.8,113.2v2.1M50.1,87.2h2.1M51.1,86.2v2.1M74.2,108.9h2.1M75.2,107.9v2.1M40.6,87.2h2.1M41.6,86.2v2.1M51.4,91.8h2.1M52.4,90.8v2.1M84.2,110.8h2.1M85.3,109.8v2.1M38.8,86.3h2.1M39.8,85.2v2.1M41.5,84.3h2.1M42.5,83.2v2.1M73.4,104.3h2.1M74.4,103.2v2.1M61.2,91.7h2.1M62.3,90.7v2.1M64.7,101.9h2.1M65.7,100.9v2.1M70.8,104.8h2.1M71.8,103.8v2.1M45.2,87.1h2.1M46.3,86.0v2.1M92.0,117.3h2.1M93.0,116.2v2.1"/>
<polygon points="20.15,64.60 14.75,73.70 25.55,73.70" fill="#f55a5a" stroke="#222" stroke-width="1"/>
<rect x="0" y="0" width="152.30" height="152.20" fill="none" stroke="#4a4a4a" stroke-width="1"/>
<path d="M0.00,0v-2M0.00,152.20v2M0,0.00h-2M152.30,0.00h2M38.07,0v-2M38.07,152.20v2M0,38.05h-2M152.30,38.05h2M76.15,0v-2M76.15,152.20v2M0,76.10h-2M152.30,76.10h2M114.22,0v-2M114.22,152.20v2M0,114.15h-2M152.30,114.15h2M152.30,0v-2M152.30,152.20v2M0,152.20h-2M152.30,152.20h2" stroke="#8a8a8a" stroke-width="0.6" fill="none"/>
<text x="3.70" y="12.40" font-size="13.45">2022-08- 4</text><path transform="matrix(0.00657,0,0,-0.00657,57.539,12.400)" d="M515,0L515,1237L197,1010L197,1180L530,1409L696,1409L696,0Z"/>
<text x="137.81" y="12.60" font-size="13.3">L2</text>
<text x="110.04" y="24.10" font-size="13.3">bottom</text>
<text x="-3.70" y="165.50" font-size="13.3">0</text>
<text x="34.38" y="165.50" font-size="13.3"> </text><path transform="matrix(0.00649,0,0,-0.00649,34.377,165.500)" d="M515,0L515,1237L197,1010L197,1180L530,1409L696,1409L696,0Z"/>
<text x="72.45" y="165.50" font-size="13.3">2</text>
<text x="110.53" y="165.50" font-size="13.3">3</text>
<text x="148.60" y="165.50" font-size="13.3">4</text>
<text x="76.35" y="176.50" font-size="13.0" text-anchor="middle">Distance (km)</text>
</g>
<g transform="translate(361.50,561.20)">
<polygon points="13.21,72.30 31.73,83.50 35.30,77.60 16.79,66.40" fill="#ffa500"/><polygon points="31.73,83.50 77.59,111.24 81.16,105.34 35.30,77.60" fill="#ffff00"/><polygon points="77.59,111.24 97.36,123.20 100.94,117.30 81.16,105.34" fill="#00ff00"/>
<path fill="none" stroke="#b6b6b6" stroke-width="0.7" d="M63.7,82.3h2.1M64.7,81.2v2.1M65.4,84.1h2.1M66.4,83.0v2.1M65.0,85.8h2.1M66.0,84.8v2.1M66.2,87.6h2.1M67.3,86.5v2.1M63.2,90.2h2.1M64.2,89.2v2.1M70.7,90.2h2.1M71.7,89.2v2.1M71.5,86.2h2.1M72.5,85.2v2.1M72.8,81.4h2.1M73.8,80.4v2.1M75.0,84.1h2.1M76.0,83.0v2.1M75.9,86.7h2.1M76.9,85.7v2.1M76.8,88.4h2.1M77.8,87.4v2.1M77.2,90.2h2.1M78.2,89.2v2.1M79.4,89.3h2.1M80.4,88.2v2.1M80.7,91.1h2.1M81.7,90.0v2.1M82.9,91.9h2.1M83.9,90.9v2.1M83.8,95.0h2.1M84.8,94.0v2.1M79.9,94.1h2.1M80.9,93.0v2.1M81.2,95.4h2.1M82.2,94.4v2.1M84.7,86.7h2.1M85.7,85.7v2.1M82.9,82.7h2.1M83.9,81.7v2.1M87.7,88.4h2.1M88.7,87.4v2.1M90.4,84.9h2.1M91.4,83.9v2.1M90.8,90.6h2.1M91.8,89.5v2.1M94.7,91.5h2.1M95.7,90.5v2.1M100.4,94.1h2.1M101.4,93.0v2.1M100.0,86.7h2.1M101.0,85.7v2.1M103.9,88.9h2.1M104.9,87.9v2.1M106.5,88.0h2.1M107.6,87.0v2.1M105.2,92.4h2.1M106.3,91.4v2.1M107.4,95.0h2.1M108.4,94.0v2.1M111.8,93.7h2.1M112.8,92.7v2.1M120.0,89.7h2.1M121.1,88.7v2.1M97.4,79.7h2.1M98.4,78.7v2.1M105.7,79.2h2.1M106.7,78.2v2.1M67.2,98.1h2.1M68.2,97.0v2.1M68.9,99.8h2.1M69.9,98.8v2.1M70.7,102.4h2.1M71.7,101.4v2.1M72.4,105.1h2.1M73.4,104.0v2.1M74.2,104.2h2.1M75.2,103.2v2.1M75.9,102.4h2.1M76.9,101.4v2.1M77.7,101.6h2.1M78.7,100.5v2.1M75.0,106.8h2.1M76.0,105.8v2.1M76.8,108.6h2.1M77.8,107.5v2.1M81.2,109.5h2.1M82.2,108.5v2.1M82.9,108.6h2.1M83.9,107.5v2.1M84.7,111.2h2.1M85.7,110.2v2.1M86.4,110.3h2.1M87.4,109.2v2.1M88.2,112.1h2.1M89.2,111.0v2.1M89.9,113.0h2.1M90.9,112.0v2.1M91.7,113.8h2.1M92.7,112.8v2.1M93.4,114.7h2.1M94.4,113.7v2.1M95.2,115.6h2.1M96.2,114.5v2.1M96.9,116.5h2.1M97.9,115.5v2.1M82.0,112.1h2.1M83.0,111.0v2.1M83.8,113.4h2.1M84.8,112.4v2.1M87.2,113.8h2.1M88.3,112.8v2.1M89.0,115.6h2.1M90.1,114.5v2.1M92.5,117.3h2.1M93.6,116.2v2.1M67.2,105.1h2.1M68.2,104.0v2.1M68.9,107.7h2.1M69.9,106.7v2.1M70.7,110.3h2.1M71.7,109.2v2.1M68.0,112.1h2.1M69.0,111.0v2.1M71.5,113.0h2.1M72.5,112.0v2.1M73.2,111.2h2.1M74.3,110.2v2.1M75.0,97.6h2.1M76.0,96.5v2.1M78.0,97.2h2.1M79.1,96.2v2.1M83.8,100.7h2.1M84.8,99.7v2.1M86.4,96.3h2.1M87.4,95.2v2.1M88.2,95.4h2.1M89.2,94.4v2.1M89.9,97.6h2.1M90.9,96.5v2.1M92.5,100.7h2.1M93.6,99.7v2.1M94.2,101.6h2.1M95.3,100.5v2.1M96.0,98.9h2.1M97.1,97.9v2.1M97.8,102.4h2.1M98.8,101.4v2.1M98.7,104.2h2.1M99.7,103.2v2.1M100.4,105.1h2.1M101.4,104.0v2.1M96.9,106.0h2.1M97.9,105.0v2.1M95.2,107.7h2.1M96.2,106.7v2.1M93.4,107.7h2.1M94.4,106.7v2.1M90.8,106.0h2.1M91.8,105.0v2.1M88.2,104.2h2.1M89.2,103.2v2.1M87.2,101.6h2.1M88.3,100.5v2.1M101.2,108.6h2.1M102.3,107.5v2.1M103.0,105.1h2.1M104.1,104.0v2.1M103.9,109.5h2.1M104.9,108.5v2.1M105.7,107.7h2.1M106.7,106.7v2.1M106.5,103.3h2.1M107.6,102.2v2.1M104.8,99.8h2.1M105.8,98.8v2.1M108.2,101.6h2.1M109.3,100.5v2.1M109.2,99.8h2.1M110.2,98.8v2.1M111.0,102.4h2.1M112.0,101.4v2.1M112.7,100.7h2.1M113.7,99.7v2.1M114.5,99.8h2.1M115.5,98.8v2.1M115.2,103.3h2.1M116.3,102.2v2.1M116.2,105.1h2.1M117.2,104.0v2.1M113.5,105.1h2.1M114.6,104.0v2.1M117.0,106.8h2.1M118.1,105.8v2.1M118.0,109.5h2.1M119.0,108.5v2.1M111.0,107.7h2.1M112.0,106.7v2.1M109.5,110.3h2.1M110.6,109.2v2.1M107.4,111.2h2.1M108.4,110.2v2.1M105.7,113.0h2.1M106.7,112.0v2.1M103.0,113.8h2.1M104.1,112.8v2.1M101.8,116.5h2.1M102.8,115.5v2.1M100.4,119.1h2.1M101.4,118.0v2.1M99.5,114.7h2.1M100.6,113.7v2.1M97.8,111.2h2.1M98.8,110.2v2.1M113.5,113.0h2.1M114.6,112.0v2.1M114.5,114.7h2.1M115.5,113.7v2.1M116.2,113.8h2.1M117.2,112.8v2.1M117.0,117.3h2.1M118.1,116.2v2.1M115.2,119.1h2.1M116.3,118.0v2.1M112.7,117.3h2.1M113.7,116.2v2.1M111.0,115.6h2.1M112.0,114.5v2.1M110.0,118.2h2.1M111.1,117.2v2.1M111.8,120.0h2.1M112.8,119.0v2.1M109.2,120.8h2.1M110.2,119.8v2.1M107.4,117.3h2.1M108.4,116.2v2.1M105.7,116.5h2.1M106.7,115.5v2.1M104.8,120.0h2.1M105.8,119.0v2.1M118.8,120.0h2.1M119.8,119.0v2.1M119.7,113.8h2.1M120.7,112.8v2.1M121.5,109.5h2.1M122.5,108.5v2.1M114.5,122.6h2.1M115.5,121.5v2.1M117.0,123.5h2.1M118.1,122.5v2.1M111.0,122.6h2.1M112.0,121.5v2.1M104.8,124.8h2.1M105.8,123.8v2.1M96.9,123.5h2.1M97.9,122.5v2.1M89.9,121.3h2.1M90.9,120.2v2.1M81.2,119.1h2.1M82.2,118.0v2.1M72.4,125.2h2.1M73.4,124.2v2.1M77.2,125.7h2.1M78.2,124.7v2.1M63.7,117.3h2.1M64.7,116.2v2.1M112.7,126.1h2.1M113.7,125.0v2.1M40.9,53.6h2.1M41.9,52.6v2.1M55.8,55.4h2.1M56.8,54.4v2.1M31.7,59.7h2.1M32.7,58.7v2.1M26.8,62.4h2.1M27.9,61.4v2.1M45.7,70.3h2.1M46.7,69.2v2.1M49.2,70.7h2.1M50.2,69.7v2.1M51.0,69.8h2.1M52.0,68.8v2.1M53.2,72.0h2.1M54.2,71.0v2.1M54.9,71.6h2.1M55.9,70.5v2.1M57.6,71.1h2.1M58.6,70.0v2.1M50.1,74.6h2.1M51.1,73.5v2.1M45.2,74.6h2.1M46.3,73.5v2.1M41.8,73.3h2.1M42.8,72.2v2.1M49.7,76.8h2.1M50.7,75.8v2.1M50.1,79.0h2.1M51.1,78.0v2.1M54.1,76.0h2.1M55.1,75.0v2.1M55.8,78.6h2.1M56.8,77.5v2.1M57.6,76.8h2.1M58.6,75.8v2.1M58.4,79.5h2.1M59.4,78.5v2.1M60.2,79.9h2.1M61.2,78.9v2.1M61.9,79.5h2.1M62.9,78.5v2.1M62.8,72.9h2.1M63.8,71.9v2.1M65.4,74.6h2.1M66.4,73.5v2.1M67.2,72.9h2.1M68.2,71.9v2.1M68.0,75.1h2.1M69.1,74.0v2.1M69.8,75.1h2.1M70.8,74.0v2.1M68.9,78.1h2.1M69.9,77.0v2.1M65.4,77.7h2.1M66.4,76.7v2.1M70.7,83.8h2.1M71.7,82.8v2.1M83.0,85.6h2.1M84.0,84.5v2.1M81.2,83.8h2.1M82.2,82.8v2.1M79.5,82.1h2.1M80.5,81.0v2.1M77.7,81.2h2.1M78.7,80.2v2.1M84.7,83.0h2.1M85.7,82.0v2.1M70.7,68.5h2.1M71.7,67.5v2.1M80.8,74.2h2.1M81.8,73.2v2.1M80.8,76.0h2.1M81.8,75.0v2.1M34.8,75.1h2.1M35.8,74.0v2.1M55.8,82.1h2.1M56.8,81.0v2.1M54.9,86.5h2.1M55.9,85.5v2.1M59.2,89.1h2.1M60.3,88.0v2.1M65.4,93.5h2.1M66.4,92.5v2.1M70.7,94.3h2.1M71.7,93.2v2.1M72.4,94.3h2.1M73.4,93.2v2.1M74.2,92.6h2.1M75.2,91.5v2.1M77.7,95.2h2.1M78.7,94.2v2.1M29.9,85.2h2.1M31.0,84.2v2.1M27.8,89.5h2.1M28.8,88.5v2.1M34.8,89.5h2.1M35.8,88.5v2.1M39.2,91.7h2.1M40.2,90.7v2.1M40.9,92.2h2.1M41.9,91.2v2.1M42.7,91.7h2.1M43.7,90.7v2.1M38.2,96.5h2.1M39.3,95.5v2.1M32.6,97.4h2.1M33.6,96.4v2.1M43.5,97.0h2.1M44.5,96.0v2.1M47.0,97.4h2.1M48.0,96.4v2.1M32.2,79.5h2.1M33.2,78.5v2.1M33.9,81.2h2.1M34.9,80.2v2.1M35.7,80.3h2.1M36.7,79.2v2.1M38.2,83.0h2.1M39.3,82.0v2.1M40.9,83.8h2.1M41.9,82.8v2.1M42.7,81.6h2.1M43.7,80.5v2.1M43.5,86.5h2.1M44.5,85.5v2.1M45.2,87.3h2.1M46.3,86.2v2.1M47.0,88.2h2.1M48.0,87.2v2.1M48.8,89.1h2.1M49.8,88.0v2.1M50.5,90.0h2.1M51.5,89.0v2.1M52.2,91.7h2.1M53.3,90.7v2.1M44.4,90.0h2.1M45.4,89.0v2.1M47.9,91.7h2.1M48.9,90.7v2.1M50.5,93.5h2.1M51.5,92.5v2.1M53.2,93.9h2.1M54.2,92.9v2.1M55.8,92.6h2.1M56.8,91.5v2.1M15.4,50.6h2.1M16.5,49.6v2.1M25.1,57.6h2.1M26.1,56.6v2.1M16.1,63.2h2.1M17.1,62.2v2.1M19.8,65.7h2.1M20.9,64.7v2.1M22.8,64.6h2.1M23.8,63.5v2.1M23.9,66.7h2.1M25.0,65.7v2.1M9.5,66.1h2.1M10.6,65.0v2.1M55.8,47.6h2.1M56.8,46.6v2.1M71.7,45.7h2.1M72.7,44.7v2.1M17.6,71.4h2.1M18.6,70.4v2.1M20.4,70.2h2.1M21.5,69.2v2.1M23.3,72.5h2.1M24.4,71.5v2.1M26.2,76.0h2.1M27.3,75.0v2.1M17.8,78.4h2.1M18.8,77.4v2.1M13.4,84.2h2.1M14.5,83.2v2.1M62.5,75.4h2.1M63.5,74.4v2.1M66.5,80.1h2.1M67.6,79.0v2.1M76.0,82.4h2.1M77.0,81.4v2.1M85.7,30.8h2.1M86.7,29.8v2.1M119.8,31.4h2.1M120.8,30.3v2.1M124.5,30.7h2.1M125.5,29.6v2.1M122.7,46.8h2.1M123.7,45.8v2.1M106.4,52.7h2.1M107.4,51.7v2.1M94.7,56.2h2.1M95.7,55.2v2.1M99.5,57.3h2.1M100.6,56.2v2.1M105.8,56.4h2.1M106.8,55.4v2.1M117.2,57.9h2.1M118.2,56.9v2.1M131.4,52.9h2.1M132.5,51.9v2.1M98.2,63.2h2.1M99.2,62.2v2.1M108.7,63.2h2.1M109.7,62.2v2.1M118.8,62.2h2.1M119.8,61.2v2.1M124.5,62.8h2.1M125.5,61.8v2.1M110.4,66.7h2.1M111.4,65.7v2.1M109.2,68.4h2.1M110.3,67.4v2.1M112.2,68.4h2.1M113.2,67.4v2.1M112.8,70.2h2.1M113.8,69.2v2.1M130.8,70.0h2.1M131.9,69.0v2.1M88.8,67.9h2.1M89.8,66.9v2.1M96.7,68.8h2.1M97.7,67.8v2.1M89.4,73.1h2.1M90.4,72.0v2.1M96.4,72.8h2.1M97.4,71.8v2.1M97.5,74.6h2.1M98.6,73.5v2.1M89.4,76.0h2.1M90.4,75.0v2.1M78.9,84.2h2.1M79.9,83.2v2.1M73.7,86.0h2.1M74.7,85.0v2.1M123.2,86.2h2.1M124.3,85.2v2.1M130.8,87.9h2.1M131.9,86.9v2.1M40.9,88.5h2.1M41.9,87.5v2.1M52.0,89.1h2.1M53.0,88.0v2.1M62.0,86.1h2.1M63.0,85.0v2.1M69.0,88.5h2.1M70.0,87.5v2.1M73.5,89.1h2.1M74.6,88.0v2.1M76.0,95.5h2.1M77.0,94.5v2.1M32.2,100.7h2.1M33.2,99.7v2.1M49.1,99.0h2.1M50.1,98.0v2.1M43.9,102.5h2.1M44.9,101.5v2.1M45.0,103.7h2.1M46.0,102.7v2.1M17.6,98.7h2.1M18.6,97.7v2.1M22.2,99.6h2.1M23.3,98.5v2.1M48.5,107.7h2.1M49.5,106.7v2.1M53.2,109.3h2.1M54.2,108.2v2.1M57.9,113.6h2.1M58.9,112.5v2.1M61.4,114.7h2.1M62.4,113.7v2.1M60.2,120.6h2.1M61.2,119.5v2.1M59.6,107.2h2.1M60.6,106.2v2.1M65.5,107.2h2.1M66.5,106.2v2.1M69.0,102.5h2.1M70.0,101.5v2.1M70.0,105.4h2.1M71.1,104.4v2.1M74.2,125.6h2.1M75.2,124.5v2.1M71.9,127.9h2.1M72.9,126.9v2.1M74.2,129.3h2.1M75.2,128.2v2.1M50.9,130.3h2.1M51.9,129.2v2.1M69.0,104.2h2.1M70.0,103.2v2.1M81.2,88.5h2.1M82.2,87.5v2.1M115.7,101.3h2.1M116.7,100.2v2.1M96.4,109.5h2.1M97.4,108.5v2.1M102.2,111.8h2.1M103.3,110.8v2.1M110.4,111.8h2.1M111.4,110.8v2.1M119.8,118.3h2.1M120.8,117.2v2.1M122.0,113.6h2.1M123.1,112.5v2.1M125.0,117.7h2.1M126.0,116.7v2.1M126.2,121.8h2.1M127.2,120.8v2.1M123.2,122.3h2.1M124.3,121.2v2.1M95.2,135.2h2.1M96.3,134.1v2.1M80.7,139.9h2.1M81.7,138.8v2.1M119.8,134.6h2.1M120.8,133.5v2.1M123.9,131.1h2.1M124.9,130.0v2.1M131.4,125.3h2.1M132.5,124.2v2.1M137.8,135.8h2.1M138.9,134.8v2.1M143.0,114.4h2.1M144.1,113.4v2.1M144.8,118.6h2.1M145.9,117.5v2.1M139.5,103.7h2.1M140.6,102.7v2.1M130.8,103.9h2.1M131.9,102.9v2.1M124.5,104.6h2.1M125.5,103.5v2.1M125.0,108.3h2.1M126.0,107.2v2.1M122.7,99.0h2.1M123.7,98.0v2.1M122.7,93.7h2.1M123.7,92.7v2.1M126.2,92.6h2.1M127.2,91.5v2.1M123.2,89.6h2.1M124.3,88.5v2.1M85.9,102.5h2.1M86.9,101.5v2.1M101.7,99.0h2.1M102.7,98.0v2.1M98.8,97.8h2.1M99.8,96.8v2.1M66.0,95.4h2.1M67.0,94.4v2.1M65.4,98.3h2.1M66.4,97.2v2.1M67.7,100.4h2.1M68.7,99.4v2.1M67.7,101.0h2.1M68.7,100.0v2.1M74.7,106.3h2.1M75.7,105.2v2.1M54.7,92.9h2.1M55.7,91.9v2.1M40.1,86.6h2.1M41.1,85.5v2.1M39.2,81.0h2.1M40.3,80.0v2.1M95.4,122.2h2.1M96.4,121.2v2.1M74.2,105.0h2.1M75.3,104.0v2.1M43.6,90.4h2.1M44.6,89.4v2.1M38.7,84.6h2.1M39.7,83.5v2.1M47.0,89.4h2.1M48.0,88.4v2.1M64.0,100.3h2.1M65.0,99.2v2.1M62.1,100.1h2.1M63.1,99.0v2.1M76.5,104.6h2.1M77.6,103.5v2.1M67.2,100.1h2.1M68.2,99.0v2.1M53.7,90.9h2.1M54.7,89.9v2.1M95.8,123.8h2.1M96.8,122.8v2.1M79.8,109.0h2.1M80.8,108.0v2.1M54.8,94.3h2.1M55.8,93.2v2.1M38.5,86.3h2.1M39.5,85.2v2.1M85.2,108.4h2.1M86.2,107.4v2.1M58.1,99.0h2.1M59.1,98.0v2.1M95.5,118.7h2.1M96.5,117.7v2.1M48.2,90.0h2.1M49.3,89.0v2.1M95.5,111.6h2.1M96.6,110.5v2.1M59.5,98.2h2.1M60.5,97.2v2.1M41.0,82.6h2.1M42.0,81.5v2.1M53.5,90.0h2.1M54.5,89.0v2.1M42.0,83.0h2.1M43.0,82.0v2.1M80.2,115.2h2.1M81.3,114.2v2.1M42.5,86.6h2.1M43.5,85.5v2.1M38.2,85.2h2.1M39.3,84.2v2.1M84.7,113.6h2.1M85.7,112.5v2.1M62.0,101.3h2.1M63.0,100.2v2.1M47.1,89.2h2.1M48.1,88.2v2.1M76.2,105.7h2.1M77.3,104.7v2.1M43.1,85.4h2.1M44.1,84.4v2.1M51.7,93.0h2.1M52.7,92.0v2.1M96.0,119.7h2.1M97.0,118.7v2.1M91.8,114.3h2.1M92.8,113.2v2.1M50.1,87.2h2.1M51.1,86.2v2.1M74.2,108.9h2.1M75.2,107.9v2.1M40.6,87.2h2.1M41.6,86.2v2.1M51.4,91.8h2.1M52.4,90.8v2.1M84.2,110.8h2.1M85.3,109.8v2.1M38.8,86.3h2.1M39.8,85.2v2.1M41.5,84.3h2.1M42.5,83.2v2.1M73.4,104.3h2.1M74.4,103.2v2.1M61.2,91.7h2.1M62.3,90.7v2.1M64.7,101.9h2.1M65.7,100.9v2.1M70.8,104.8h2.1M71.8,103.8v2.1M45.2,87.1h2.1M46.3,86.0v2.1M92.0,117.3h2.1M93.0,116.2v2.1"/>
<polygon points="25.10,70.10 19.70,79.20 30.50,79.20" fill="#fa1414" stroke="#222" stroke-width="1"/>
<rect x="0" y="0" width="152.90" height="152.20" fill="none" stroke="#4a4a4a" stroke-width="1"/>
<path d="M0.00,0v-2M0.00,152.20v2M0,0.00h-2M152.90,0.00h2M38.22,0v-2M38.22,152.20v2M0,38.05h-2M152.90,38.05h2M76.45,0v-2M76.45,152.20v2M0,76.10h-2M152.90,76.10h2M114.67,0v-2M114.67,152.20v2M0,114.15h-2M152.90,114.15h2M152.90,0v-2M152.90,152.20v2M0,152.20h-2M152.90,152.20h2" stroke="#8a8a8a" stroke-width="0.6" fill="none"/>
<text x="3.70" y="12.40" font-size="13.45">2022-08- 6</text><path transform="matrix(0.00657,0,0,-0.00657,57.539,12.400)" d="M515,0L515,1237L197,1010L197,1180L530,1409L696,1409L696,0Z"/>
<text x="138.41" y="12.60" font-size="13.3">L2</text>
<text x="110.64" y="24.10" font-size="13.3">bottom</text>
<text x="-3.70" y="165.50" font-size="13.3">0</text>
<text x="34.53" y="165.50" font-size="13.3"> </text><path transform="matrix(0.00649,0,0,-0.00649,34.527,165.500)" d="M515,0L515,1237L197,1010L197,1180L530,1409L696,1409L696,0Z"/>
<text x="72.75" y="165.50" font-size="13.3">2</text>
<text x="110.98" y="165.50" font-size="13.3">3</text>
<text x="149.20" y="165.50" font-size="13.3">4</text>
<text x="76.65" y="176.50" font-size="13.0" text-anchor="middle">Distance (km)</text>
</g>
<g transform="translate(527.10,561.20)">
<polygon points="13.21,72.30 31.73,83.50 35.30,77.60 16.79,66.40" fill="#ffa500"/><polygon points="31.73,83.50 77.59,111.24 81.16,105.34 35.30,77.60" fill="#ffff00"/><polygon points="77.59,111.24 97.36,123.20 100.94,117.30 81.16,105.34" fill="#00ff00"/>
<path fill="none" stroke="#b6b6b6" stroke-width="0.7" d="M63.7,82.3h2.1M64.7,81.2v2.1M65.4,84.1h2.1M66.4,83.0v2.1M67.2,83.2h2.1M68.2,82.2v2.1M65.0,85.8h2.1M66.0,84.8v2.1M66.2,87.6h2.1M67.3,86.5v2.1M63.2,90.2h2.1M64.2,89.2v2.1M70.7,90.2h2.1M71.7,89.2v2.1M71.5,86.2h2.1M72.5,85.2v2.1M72.8,81.4h2.1M73.8,80.4v2.1M75.0,84.1h2.1M76.0,83.0v2.1M75.9,86.7h2.1M76.9,85.7v2.1M76.8,88.4h2.1M77.8,87.4v2.1M77.2,90.2h2.1M78.2,89.2v2.1M79.4,89.3h2.1M80.4,88.2v2.1M80.7,91.1h2.1M81.7,90.0v2.1M82.9,91.9h2.1M83.9,90.9v2.1M83.8,95.0h2.1M84.8,94.0v2.1M79.9,94.1h2.1M80.9,93.0v2.1M81.2,95.4h2.1M82.2,94.4v2.1M84.7,86.7h2.1M85.7,85.7v2.1M82.9,82.7h2.1M83.9,81.7v2.1M87.7,88.4h2.1M88.7,87.4v2.1M90.4,84.9h2.1M91.4,83.9v2.1M90.8,90.6h2.1M91.8,89.5v2.1M94.7,91.5h2.1M95.7,90.5v2.1M100.4,94.1h2.1M101.4,93.0v2.1M100.0,86.7h2.1M101.0,85.7v2.1M103.9,88.9h2.1M104.9,87.9v2.1M106.5,88.0h2.1M107.6,87.0v2.1M105.2,92.4h2.1M106.3,91.4v2.1M107.4,95.0h2.1M108.4,94.0v2.1M111.8,93.7h2.1M112.8,92.7v2.1M120.0,89.7h2.1M121.1,88.7v2.1M97.4,79.7h2.1M98.4,78.7v2.1M105.7,79.2h2.1M106.7,78.2v2.1M67.2,98.1h2.1M68.2,97.0v2.1M68.9,99.8h2.1M69.9,98.8v2.1M70.7,102.4h2.1M71.7,101.4v2.1M72.4,105.1h2.1M73.4,104.0v2.1M74.2,104.2h2.1M75.2,103.2v2.1M75.9,102.4h2.1M76.9,101.4v2.1M77.7,101.6h2.1M78.7,100.5v2.1M75.0,106.8h2.1M76.0,105.8v2.1M76.8,108.6h2.1M77.8,107.5v2.1M79.4,107.7h2.1M80.4,106.7v2.1M81.2,109.5h2.1M82.2,108.5v2.1M82.9,108.6h2.1M83.9,107.5v2.1M84.7,111.2h2.1M85.7,110.2v2.1M86.4,110.3h2.1M87.4,109.2v2.1M88.2,112.1h2.1M89.2,111.0v2.1M89.9,113.0h2.1M90.9,112.0v2.1M91.7,113.8h2.1M92.7,112.8v2.1M93.4,114.7h2.1M94.4,113.7v2.1M95.2,115.6h2.1M96.2,114.5v2.1M96.9,116.5h2.1M97.9,115.5v2.1M82.0,112.1h2.1M83.0,111.0v2.1M83.8,113.4h2.1M84.8,112.4v2.1M87.2,113.8h2.1M88.3,112.8v2.1M89.0,115.6h2.1M90.1,114.5v2.1M90.8,116.5h2.1M91.8,115.5v2.1M92.5,117.3h2.1M93.6,116.2v2.1M67.2,105.1h2.1M68.2,104.0v2.1M68.9,107.7h2.1M69.9,106.7v2.1M70.7,110.3h2.1M71.7,109.2v2.1M68.0,112.1h2.1M69.0,111.0v2.1M71.5,113.0h2.1M72.5,112.0v2.1M73.2,111.2h2.1M74.3,110.2v2.1M75.0,97.6h2.1M76.0,96.5v2.1M78.0,97.2h2.1M79.1,96.2v2.1M83.8,100.7h2.1M84.8,99.7v2.1M86.4,96.3h2.1M87.4,95.2v2.1M88.2,95.4h2.1M89.2,94.4v2.1M89.9,97.6h2.1M90.9,96.5v2.1M92.5,100.7h2.1M93.6,99.7v2.1M94.2,101.6h2.1M95.3,100.5v2.1M96.0,98.9h2.1M97.1,97.9v2.1M97.8,102.4h2.1M98.8,101.4v2.1M98.7,104.2h2.1M99.7,103.2v2.1M100.4,105.1h2.1M101.4,104.0v2.1M96.9,106.0h2.1M97.9,105.0v2.1M95.2,107.7h2.1M96.2,106.7v2.1M93.4,107.7h2.1M94.4,106.7v2.1M90.8,106.0h2.1M91.8,105.0v2.1M88.2,104.2h2.1M89.2,103.2v2.1M87.2,101.6h2.1M88.3,100.5v2.1M101.2,108.6h2.1M102.3,107.5v2.1M103.0,105.1h2.1M104.1,104.0v2.1M103.9,109.5h2.1M104.9,108.5v2.1M105.7,107.7h2.1M106.7,106.7v2.1M106.5,103.3h2.1M107.6,102.2v2.1M104.8,99.8h2.1M105.8,98.8v2.1M108.2,101.6h2.1M109.3,100.5v2.1M109.2,99.8h2.1M110.2,98.8v2.1M111.0,102.4h2.1M112.0,101.4v2.1M112.7,100.7h2.1M113.7,99.7v2.1M114.5,99.8h2.1M115.5,98.8v2.1M115.2,103.3h2.1M116.3,102.2v2.1M116.2,105.1h2.1M117.2,104.0v2.1M113.5,105.1h2.1M114.6,104.0v2.1M117.0,106.8h2.1M118.1,105.8v2.1M118.0,109.5h2.1M119.0,108.5v2.1M111.0,107.7h2.1M112.0,106.7v2.1M109.5,110.3h2.1M110.6,109.2v2.1M107.4,111.2h2.1M108.4,110.2v2.1M105.7,113.0h2.1M106.7,112.0v2.1M103.0,113.8h2.1M104.1,112.8v2.1M101.8,116.5h2.1M102.8,115.5v2.1M100.4,119.1h2.1M101.4,118.0v2.1M99.5,114.7h2.1M100.6,113.7v2.1M97.8,111.2h2.1M98.8,110.2v2.1M113.5,113.0h2.1M114.6,112.0v2.1M114.5,114.7h2.1M115.5,113.7v2.1M116.2,113.8h2.1M117.2,112.8v2.1M117.0,117.3h2.1M118.1,116.2v2.1M115.2,119.1h2.1M116.3,118.0v2.1M112.7,117.3h2.1M113.7,116.2v2.1M111.0,115.6h2.1M112.0,114.5v2.1M110.0,118.2h2.1M111.1,117.2v2.1M111.8,120.0h2.1M112.8,119.0v2.1M109.2,120.8h2.1M110.2,119.8v2.1M107.4,117.3h2.1M108.4,116.2v2.1M105.7,116.5h2.1M106.7,115.5v2.1M104.8,120.0h2.1M105.8,119.0v2.1M118.8,120.0h2.1M119.8,119.0v2.1M119.7,113.8h2.1M120.7,112.8v2.1M121.5,109.5h2.1M122.5,108.5v2.1M114.5,122.6h2.1M115.5,121.5v2.1M117.0,123.5h2.1M118.1,122.5v2.1M111.0,122.6h2.1M112.0,121.5v2.1M104.8,124.8h2.1M105.8,123.8v2.1M96.9,123.5h2.1M97.9,122.5v2.1M89.9,121.3h2.1M90.9,120.2v2.1M81.2,119.1h2.1M82.2,118.0v2.1M72.4,125.2h2.1M73.4,124.2v2.1M77.2,125.7h2.1M78.2,124.7v2.1M63.7,117.3h2.1M64.7,116.2v2.1M112.7,126.1h2.1M113.7,125.0v2.1M40.9,53.6h2.1M41.9,52.6v2.1M55.8,55.4h2.1M56.8,54.4v2.1M31.7,59.7h2.1M32.7,58.7v2.1M26.8,62.4h2.1M27.9,61.4v2.1M86.0,61.9h2.1M87.0,60.9v2.1M45.7,70.3h2.1M46.7,69.2v2.1M49.2,70.7h2.1M50.2,69.7v2.1M51.0,69.8h2.1M52.0,68.8v2.1M53.2,72.0h2.1M54.2,71.0v2.1M54.9,71.6h2.1M55.9,70.5v2.1M57.6,71.1h2.1M58.6,70.0v2.1M50.1,74.6h2.1M51.1,73.5v2.1M45.2,74.6h2.1M46.3,73.5v2.1M41.8,73.3h2.1M42.8,72.2v2.1M49.7,76.8h2.1M50.7,75.8v2.1M50.1,79.0h2.1M51.1,78.0v2.1M54.1,76.0h2.1M55.1,75.0v2.1M55.8,78.6h2.1M56.8,77.5v2.1M57.6,76.8h2.1M58.6,75.8v2.1M58.4,79.5h2.1M59.4,78.5v2.1M60.2,79.9h2.1M61.2,78.9v2.1M61.9,79.5h2.1M62.9,78.5v2.1M62.8,72.9h2.1M63.8,71.9v2.1M65.4,74.6h2.1M66.4,73.5v2.1M67.2,72.9h2.1M68.2,71.9v2.1M68.0,75.1h2.1M69.1,74.0v2.1M69.8,75.1h2.1M70.8,74.0v2.1M68.9,78.1h2.1M69.9,77.0v2.1M65.4,77.7h2.1M66.4,76.7v2.1M70.7,83.8h2.1M71.7,82.8v2.1M83.0,85.6h2.1M84.0,84.5v2.1M81.2,83.8h2.1M82.2,82.8v2.1M79.5,82.1h2.1M80.5,81.0v2.1M77.7,81.2h2.1M78.7,80.2v2.1M84.7,83.0h2.1M85.7,82.0v2.1M70.7,68.5h2.1M71.7,67.5v2.1M81.5,69.4h2.1M82.6,68.4v2.1M80.8,74.2h2.1M81.8,73.2v2.1M80.8,76.0h2.1M81.8,75.0v2.1M34.8,75.1h2.1M35.8,74.0v2.1M55.8,82.1h2.1M56.8,81.0v2.1M54.9,86.5h2.1M55.9,85.5v2.1M59.2,89.1h2.1M60.3,88.0v2.1M65.4,93.5h2.1M66.4,92.5v2.1M70.7,94.3h2.1M71.7,93.2v2.1M72.4,94.3h2.1M73.4,93.2v2.1M74.2,92.6h2.1M75.2,91.5v2.1M77.7,95.2h2.1M78.7,94.2v2.1M29.9,85.2h2.1M31.0,84.2v2.1M27.8,89.5h2.1M28.8,88.5v2.1M34.8,89.5h2.1M35.8,88.5v2.1M39.2,91.7h2.1M40.2,90.7v2.1M40.9,92.2h2.1M41.9,91.2v2.1M42.7,91.7h2.1M43.7,90.7v2.1M38.2,96.5h2.1M39.3,95.5v2.1M32.6,97.4h2.1M33.6,96.4v2.1M43.5,97.0h2.1M44.5,96.0v2.1M47.0,97.4h2.1M48.0,96.4v2.1M32.2,79.5h2.1M33.2,78.5v2.1M33.9,81.2h2.1M34.9,80.2v2.1M35.7,80.3h2.1M36.7,79.2v2.1M38.2,83.0h2.1M39.3,82.0v2.1M40.9,83.8h2.1M41.9,82.8v2.1M42.7,81.6h2.1M43.7,80.5v2.1M43.5,86.5h2.1M44.5,85.5v2.1M45.2,87.3h2.1M46.3,86.2v2.1M47.0,88.2h2.1M48.0,87.2v2.1M48.8,89.1h2.1M49.8,88.0v2.1M50.5,90.0h2.1M51.5,89.0v2.1M52.2,91.7h2.1M53.3,90.7v2.1M44.4,90.0h2.1M45.4,89.0v2.1M47.9,91.7h2.1M48.9,90.7v2.1M50.5,93.5h2.1M51.5,92.5v2.1M53.2,93.9h2.1M54.2,92.9v2.1M55.8,92.6h2.1M56.8,91.5v2.1M15.4,50.6h2.1M16.5,49.6v2.1M17.8,55.6h2.1M18.9,54.6v2.1M25.1,57.6h2.1M26.1,56.6v2.1M16.1,63.2h2.1M17.1,62.2v2.1M19.8,65.7h2.1M20.9,64.7v2.1M22.8,64.6h2.1M23.8,63.5v2.1M23.9,66.7h2.1M25.0,65.7v2.1M9.5,66.1h2.1M10.6,65.0v2.1M55.8,47.6h2.1M56.8,46.6v2.1M71.7,45.7h2.1M72.7,44.7v2.1M17.6,71.4h2.1M18.6,70.4v2.1M20.4,70.2h2.1M21.5,69.2v2.1M23.3,72.5h2.1M24.4,71.5v2.1M26.2,76.0h2.1M27.3,75.0v2.1M17.8,78.4h2.1M18.8,77.4v2.1M13.4,84.2h2.1M14.5,83.2v2.1M62.5,75.4h2.1M63.5,74.4v2.1M66.5,80.1h2.1M67.6,79.0v2.1M76.0,82.4h2.1M77.0,81.4v2.1M85.7,30.8h2.1M86.7,29.8v2.1M113.7,31.1h2.1M114.7,30.1v2.1M119.8,31.4h2.1M120.8,30.3v2.1M122.0,33.4h2.1M123.1,32.4v2.1M124.5,30.7h2.1M125.5,29.6v2.1M136.6,34.0h2.1M137.7,33.0v2.1M125.9,39.6h2.1M126.9,38.6v2.1M128.0,42.2h2.1M129.0,41.2v2.1M122.7,46.8h2.1M123.7,45.8v2.1M95.2,47.2h2.1M96.3,46.2v2.1M87.7,51.3h2.1M88.7,50.2v2.1M86.8,53.5h2.1M87.8,52.5v2.1M102.0,50.6h2.1M103.0,49.6v2.1M102.0,53.3h2.1M103.0,52.2v2.1M106.4,52.7h2.1M107.4,51.7v2.1M94.7,56.2h2.1M95.7,55.2v2.1M99.5,57.3h2.1M100.6,56.2v2.1M105.8,56.4h2.1M106.8,55.4v2.1M117.2,57.9h2.1M118.2,56.9v2.1M131.4,52.9h2.1M132.5,51.9v2.1M98.2,63.2h2.1M99.2,62.2v2.1M106.4,62.6h2.1M107.4,61.6v2.1M108.7,63.2h2.1M109.7,62.2v2.1M118.8,62.2h2.1M119.8,61.2v2.1M124.5,62.8h2.1M125.5,61.8v2.1M102.8,65.2h2.1M103.8,64.2v2.1M110.4,66.7h2.1M111.4,65.7v2.1M109.2,68.4h2.1M110.3,67.4v2.1M112.2,68.4h2.1M113.2,67.4v2.1M112.8,70.2h2.1M113.8,69.2v2.1M116.2,66.1h2.1M117.3,65.0v2.1M119.2,69.6h2.1M120.2,68.5v2.1M130.8,70.0h2.1M131.9,69.0v2.1M102.0,68.4h2.1M103.0,67.4v2.1M103.4,70.2h2.1M104.4,69.2v2.1M106.9,69.6h2.1M107.9,68.5v2.1M88.8,67.9h2.1M89.8,66.9v2.1M87.7,71.0h2.1M88.7,70.0v2.1M96.7,68.8h2.1M97.7,67.8v2.1M89.4,73.1h2.1M90.4,72.0v2.1M96.4,72.8h2.1M97.4,71.8v2.1M97.5,74.6h2.1M98.6,73.5v2.1M89.4,76.0h2.1M90.4,75.0v2.1M78.9,84.2h2.1M79.9,83.2v2.1M73.7,86.0h2.1M74.7,85.0v2.1M123.2,86.2h2.1M124.3,85.2v2.1M130.8,87.9h2.1M131.9,86.9v2.1M40.9,88.5h2.1M41.9,87.5v2.1M52.0,89.1h2.1M53.0,88.0v2.1M62.0,86.1h2.1M63.0,85.0v2.1M69.0,88.5h2.1M70.0,87.5v2.1M73.5,89.1h2.1M74.6,88.0v2.1M76.0,95.5h2.1M77.0,94.5v2.1M32.2,100.7h2.1M33.2,99.7v2.1M49.1,99.0h2.1M50.1,98.0v2.1M43.9,102.5h2.1M44.9,101.5v2.1M45.0,103.7h2.1M46.0,102.7v2.1M17.6,98.7h2.1M18.6,97.7v2.1M22.2,99.6h2.1M23.3,98.5v2.1M48.5,107.7h2.1M49.5,106.7v2.1M53.2,109.3h2.1M54.2,108.2v2.1M57.9,113.6h2.1M58.9,112.5v2.1M61.4,114.7h2.1M62.4,113.7v2.1M60.2,120.6h2.1M61.2,119.5v2.1M59.6,107.2h2.1M60.6,106.2v2.1M65.5,107.2h2.1M66.5,106.2v2.1M69.0,102.5h2.1M70.0,101.5v2.1M70.0,105.4h2.1M71.1,104.4v2.1M74.2,125.6h2.1M75.2,124.5v2.1M71.9,127.9h2.1M72.9,126.9v2.1M74.2,129.3h2.1M75.2,128.2v2.1M50.9,130.3h2.1M51.9,129.2v2.1M69.0,104.2h2.1M70.0,103.2v2.1M81.2,88.5h2.1M82.2,87.5v2.1M115.7,101.3h2.1M116.7,100.2v2.1M96.4,109.5h2.1M97.4,108.5v2.1M102.2,111.8h2.1M103.3,110.8v2.1M110.4,111.8h2.1M111.4,110.8v2.1M119.8,118.3h2.1M120.8,117.2v2.1M122.0,113.6h2.1M123.1,112.5v2.1M125.0,117.7h2.1M126.0,116.7v2.1M126.2,121.8h2.1M127.2,120.8v2.1M123.2,122.3h2.1M124.3,121.2v2.1M95.2,135.2h2.1M96.3,134.1v2.1M80.7,139.9h2.1M81.7,138.8v2.1M119.8,134.6h2.1M120.8,133.5v2.1M123.9,131.1h2.1M124.9,130.0v2.1M122.0,127.9h2.1M123.1,126.9v2.1M131.4,125.3h2.1M132.5,124.2v2.1M137.8,135.8h2.1M138.9,134.8v2.1M143.0,114.4h2.1M144.1,113.4v2.1M144.8,118.6h2.1M145.9,117.5v2.1M139.5,103.7h2.1M140.6,102.7v2.1M130.8,103.9h2.1M131.9,102.9v2.1M124.5,104.6h2.1M125.5,103.5v2.1M125.0,108.3h2.1M126.0,107.2v2.1M122.7,99.0h2.1M123.7,98.0v2.1M122.7,93.7h2.1M123.7,92.7v2.1M126.2,92.6h2.1M127.2,91.5v2.1M123.2,89.6h2.1M124.3,88.5v2.1M85.9,102.5h2.1M86.9,101.5v2.1M101.7,99.0h2.1M102.7,98.0v2.1M98.8,97.8h2.1M99.8,96.8v2.1M66.0,95.4h2.1M67.0,94.4v2.1M65.4,98.3h2.1M66.4,97.2v2.1M67.7,100.4h2.1M68.7,99.4v2.1M67.7,101.0h2.1M68.7,100.0v2.1M74.7,106.3h2.1M75.7,105.2v2.1M54.7,92.9h2.1M55.7,91.9v2.1M40.1,86.6h2.1M41.1,85.5v2.1M39.2,81.0h2.1M40.3,80.0v2.1M95.4,122.2h2.1M96.4,121.2v2.1M74.2,105.0h2.1M75.3,104.0v2.1M43.6,90.4h2.1M44.6,89.4v2.1M38.7,84.6h2.1M39.7,83.5v2.1M47.0,89.4h2.1M48.0,88.4v2.1M64.0,100.3h2.1M65.0,99.2v2.1M62.1,100.1h2.1M63.1,99.0v2.1M76.5,104.6h2.1M77.6,103.5v2.1M67.2,100.1h2.1M68.2,99.0v2.1M53.7,90.9h2.1M54.7,89.9v2.1M95.8,123.8h2.1M96.8,122.8v2.1M79.8,109.0h2.1M80.8,108.0v2.1M54.8,94.3h2.1M55.8,93.2v2.1M38.5,86.3h2.1M39.5,85.2v2.1M85.2,108.4h2.1M86.2,107.4v2.1M58.1,99.0h2.1M59.1,98.0v2.1M95.5,118.7h2.1M96.5,117.7v2.1M48.2,90.0h2.1M49.3,89.0v2.1M95.5,111.6h2.1M96.6,110.5v2.1M59.5,98.2h2.1M60.5,97.2v2.1M41.0,82.6h2.1M42.0,81.5v2.1M53.5,90.0h2.1M54.5,89.0v2.1M42.0,83.0h2.1M43.0,82.0v2.1M80.2,115.2h2.1M81.3,114.2v2.1M42.5,86.6h2.1M43.5,85.5v2.1M38.2,85.2h2.1M39.3,84.2v2.1M84.7,113.6h2.1M85.7,112.5v2.1M62.0,101.3h2.1M63.0,100.2v2.1M47.1,89.2h2.1M48.1,88.2v2.1M76.2,105.7h2.1M77.3,104.7v2.1M43.1,85.4h2.1M44.1,84.4v2.1M51.7,93.0h2.1M52.7,92.0v2.1M96.0,119.7h2.1M97.0,118.7v2.1M91.8,114.3h2.1M92.8,113.2v2.1M50.1,87.2h2.1M51.1,86.2v2.1M74.2,108.9h2.1M75.2,107.9v2.1M40.6,87.2h2.1M41.6,86.2v2.1M51.4,91.8h2.1M52.4,90.8v2.1M84.2,110.8h2.1M85.3,109.8v2.1M38.8,86.3h2.1M39.8,85.2v2.1M41.5,84.3h2.1M42.5,83.2v2.1M73.4,104.3h2.1M74.4,103.2v2.1M61.2,91.7h2.1M62.3,90.7v2.1M64.7,101.9h2.1M65.7,100.9v2.1M70.8,104.8h2.1M71.8,103.8v2.1M45.2,87.1h2.1M46.3,86.0v2.1M92.0,117.3h2.1M93.0,116.2v2.1M47.8,88.0h2.1M48.8,87.0v2.1M81.0,111.5h2.1M82.0,110.5v2.1M95.2,117.9h2.1M96.3,116.9v2.1M91.7,114.2h2.1M92.7,113.2v2.1M42.2,84.8h2.1M43.3,83.8v2.1"/>
<rect x="56.85" y="95.55" width="8.40" height="8.40" fill="#ffa0a0" stroke="#383838" stroke-width="1.0"/>
<rect x="0" y="0" width="152.40" height="152.20" fill="none" stroke="#4a4a4a" stroke-width="1"/>
<path d="M0.00,0v-2M0.00,152.20v2M0,0.00h-2M152.40,0.00h2M38.10,0v-2M38.10,152.20v2M0,38.05h-2M152.40,38.05h2M76.20,0v-2M76.20,152.20v2M0,76.10h-2M152.40,76.10h2M114.30,0v-2M114.30,152.20v2M0,114.15h-2M152.40,114.15h2M152.40,0v-2M152.40,152.20v2M0,152.20h-2M152.40,152.20h2" stroke="#8a8a8a" stroke-width="0.6" fill="none"/>
<text x="3.70" y="12.40" font-size="13.45">2022-  -27</text><path transform="matrix(0.00657,0,0,-0.00657,38.100,12.400)" d="M515,0L515,1237L197,1010L197,1180L530,1409L696,1409L696,0Z"/><path transform="matrix(0.00657,0,0,-0.00657,45.580,12.400)" d="M515,0L515,1237L197,1010L197,1180L530,1409L696,1409L696,0Z"/>
<text x="137.91" y="12.60" font-size="13.3">L2</text>
<text x="110.14" y="24.10" font-size="13.3">bottom</text>
<text x="-3.70" y="165.50" font-size="13.3">0</text>
<text x="34.40" y="165.50" font-size="13.3"> </text><path transform="matrix(0.00649,0,0,-0.00649,34.402,165.500)" d="M515,0L515,1237L197,1010L197,1180L530,1409L696,1409L696,0Z"/>
<text x="72.50" y="165.50" font-size="13.3">2</text>
<text x="110.60" y="165.50" font-size="13.3">3</text>
<text x="76.40" y="176.50" font-size="13.0" text-anchor="middle">Distance (km)</text>
</g>
<defs><linearGradient id="cb" x1="0" x2="1" y1="0" y2="0"><stop offset="0" stop-color="#0000ff"/><stop offset="0.5" stop-color="#ffffff"/><stop offset="1" stop-color="#ff0000"/></linearGradient></defs>
<polygon points="28.2,757 31.4,754.5 31.4,759.4" fill="#0000ff" stroke="#222" stroke-width="0.6"/>
<rect x="31.4" y="754.5" width="126.9" height="4.9" fill="url(#cb)" stroke="#222" stroke-width="0.8"/>
<path d="M31.40,759.6v1.5M37.74,759.6v1.5M44.09,759.6v1.5M50.44,759.6v1.5M56.78,759.6v1.5M63.12,759.6v1.5M69.47,759.6v1.5M75.81,759.6v1.5M82.16,759.6v1.5M88.50,759.6v1.5M94.85,759.6v1.5M101.19,759.6v1.5M107.54,759.6v1.5M113.88,759.6v1.5M120.23,759.6v1.5M126.57,759.6v1.5M132.92,759.6v1.5M139.27,759.6v1.5M145.61,759.6v1.5M151.95,759.6v1.5M158.30,759.6v1.5" stroke="#999" stroke-width="0.6"/>
<text x="22.02" y="771.60" font-size="13.5">0.0</text>
<text x="53.74" y="771.60" font-size="13.5">0.5</text>
<text x="85.47" y="771.60" font-size="13.5"> .0</text><path transform="matrix(0.00659,0,0,-0.00659,85.467,771.600)" d="M515,0L515,1237L197,1010L197,1180L530,1409L696,1409L696,0Z"/>
<text x="117.19" y="771.60" font-size="13.5"> .5</text><path transform="matrix(0.00659,0,0,-0.00659,117.192,771.600)" d="M515,0L515,1237L197,1010L197,1180L530,1409L696,1409L696,0Z"/>
<text x="148.92" y="771.60" font-size="13.5">2.0</text>
<text x="49.00" y="784.60" font-size="12.9">Δσ</text>
<text x="65.58" y="787.60" font-size="9.5">S</text>
<text x="71.91" y="784.60" font-size="12.9"> (log</text>
<text x="97.01" y="787.60" font-size="9.5"> 0</text><path transform="matrix(0.00464,0,0,-0.00464,97.009,787.600)" d="M515,0L515,1237L197,1010L197,1180L530,1409L696,1409L696,0Z"/>
<text x="107.58" y="784.60" font-size="12.9"> MPa)</text>
</svg></div></body></html>
